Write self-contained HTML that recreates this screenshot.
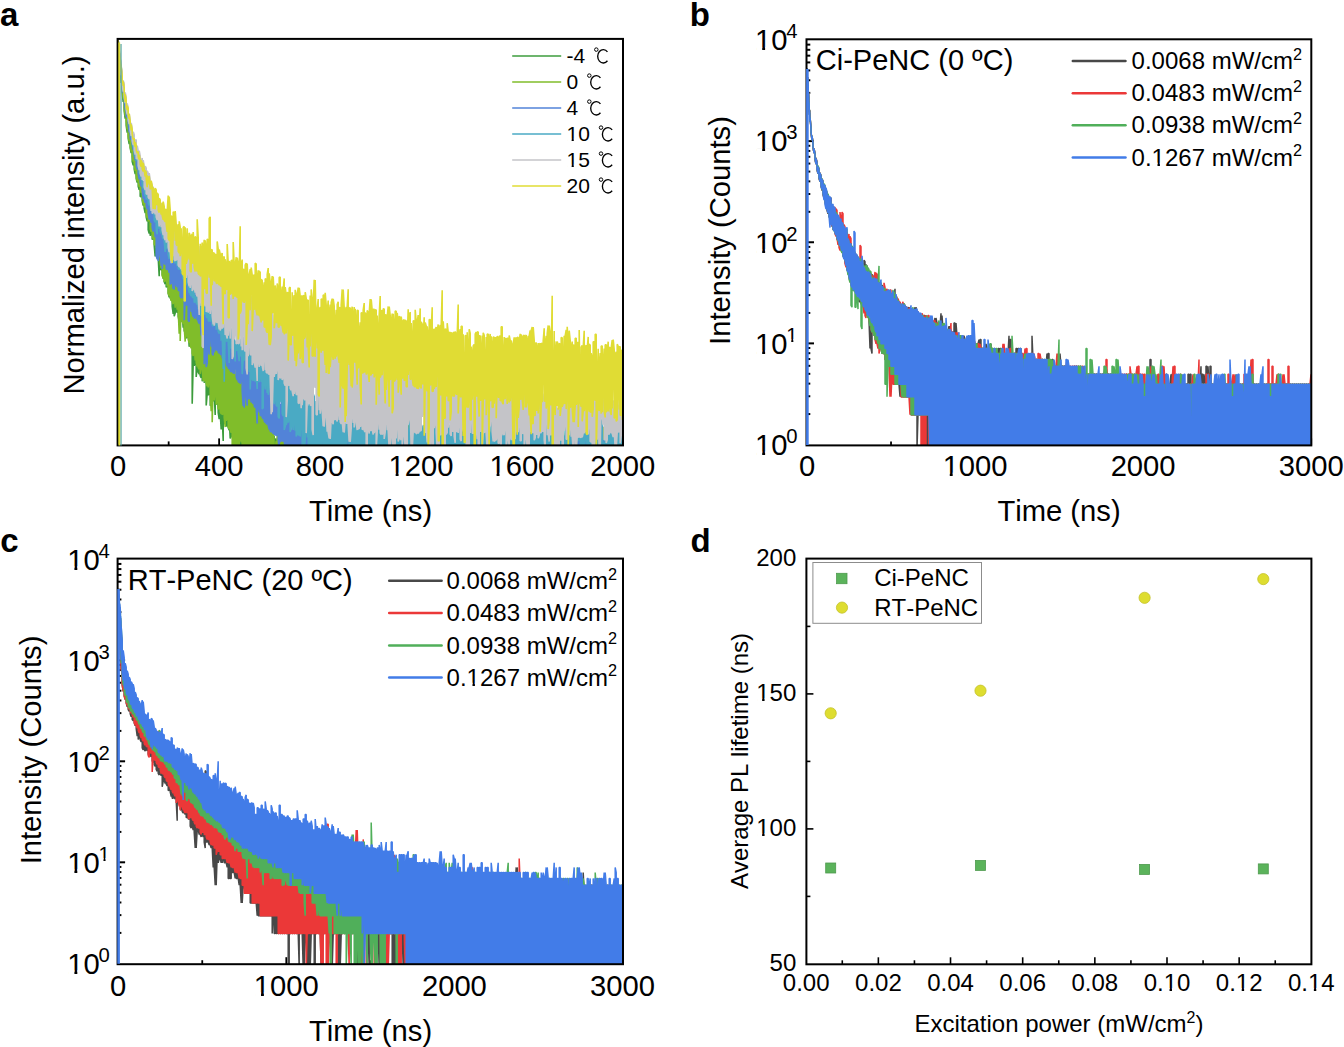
<!DOCTYPE html>
<html><head><meta charset="utf-8"><style>
html,body{margin:0;padding:0;background:#fff;overflow:hidden}
svg{display:block}
text{font-family:"Liberation Sans",sans-serif;font-kerning:none}
</style></head><body>
<svg width="1344" height="1047" viewBox="0 0 1344 1047">
<rect width="1344" height="1047" fill="#fff"/>
<clipPath id="cA"><rect x="117.6" y="38.9" width="505.4" height="406.5"/></clipPath>
<line x1="168.66" y1="445.40" x2="168.66" y2="441.40" stroke="#000" stroke-width="1.8" stroke-linecap="butt"/>
<line x1="219.12" y1="445.40" x2="219.12" y2="438.40" stroke="#000" stroke-width="1.8" stroke-linecap="butt"/>
<line x1="269.58" y1="445.40" x2="269.58" y2="441.40" stroke="#000" stroke-width="1.8" stroke-linecap="butt"/>
<line x1="320.04" y1="445.40" x2="320.04" y2="438.40" stroke="#000" stroke-width="1.8" stroke-linecap="butt"/>
<line x1="370.50" y1="445.40" x2="370.50" y2="441.40" stroke="#000" stroke-width="1.8" stroke-linecap="butt"/>
<line x1="420.96" y1="445.40" x2="420.96" y2="438.40" stroke="#000" stroke-width="1.8" stroke-linecap="butt"/>
<line x1="471.42" y1="445.40" x2="471.42" y2="441.40" stroke="#000" stroke-width="1.8" stroke-linecap="butt"/>
<line x1="521.88" y1="445.40" x2="521.88" y2="438.40" stroke="#000" stroke-width="1.8" stroke-linecap="butt"/>
<line x1="572.34" y1="445.40" x2="572.34" y2="441.40" stroke="#000" stroke-width="1.8" stroke-linecap="butt"/>
<line x1="622.80" y1="445.40" x2="622.80" y2="438.40" stroke="#000" stroke-width="1.8" stroke-linecap="butt"/>
<g clip-path="url(#cA)">
<path d="M118.2,449.4 118.2,40 118.4,46.1 118.4,49.9 118.7,53.7 118.7,48.8 119,50.1 119,58.6 119.2,62.1 119.2,52.5 119.4,55.3 119.4,64.9 119.7,68.2 119.7,57.9 120,61 120,70.2 120.2,73 120.2,63.4 120.4,66.1 120.4,76.6 120.7,78.2 120.7,68 121,70.9 121,79.5 121.2,83 121.2,74.3 122.2,83.5 122.2,92.5 123.2,102 123.2,92.8 124.2,101.7 124.2,110.9 125.2,118.7 125.2,109.8 126.2,116.9 126.2,125.7 127.2,132.7 127.2,123.3 128.2,130.3 128.2,138.3 129.2,144.1 129.2,135.7 130.2,142.1 130.2,147.9 131.2,153.2 131.2,144.9 132.2,150.7 132.2,161.5 133.2,165.2 133.2,152.2 134.2,159.7 134.2,169 135.2,174.1 135.2,164.3 136.2,168.8 136.2,178.5 137.2,182.6 137.2,172.9 138.2,175.4 138.2,186.2 139.2,189.7 139.2,180.7 140.2,184 140.2,196.6 141.2,196.4 141.2,187.5 142.2,188 142.2,200.6 143.2,205.7 143.2,192 144.2,200.2 144.2,208.3 145.2,213 145.2,203.6 146.2,207.8 146.2,217.1 147.2,221.4 147.2,211.7 148.2,215.4 148.2,229.8 149.2,233.6 149.2,218.9 150.2,222.3 150.2,235.8 151.2,232.4 151.2,225.6 152.2,228.6 152.2,239.5 153.2,238.7 153.2,231.8 154.2,234.8 154.2,245.3 155.2,256.5 155.2,237.9 156.2,245 156.2,254.1 157.2,254.4 157.2,243.4 158.2,246.1 158.2,257.7 159.2,276.3 159.2,251.9 160.2,256.1 160.2,266.7 161.2,270.3 161.2,260.3 162.2,264.4 162.2,274.4 163.2,278.6 163.2,268.4 164.2,271.2 164.2,281.8 165.2,284.1 165.2,274.1 166.2,278 166.2,287.2 167.2,286.1 167.2,278.6 168.2,281 168.2,293 169.2,297.4 170.2,289.5 170.2,297.7 171.2,300.1 171.2,288.9 172.2,291.5 172.2,306.4 173.2,313.8 173.2,283.8 174.2,297.6 174.2,316.3 175.2,313.1 175.2,307 176.2,296.9 176.2,310.1 177.2,312.8 177.2,298.9 178.2,309.2 178.2,316.4 179.2,321.7 179.2,308.9 180.2,308.6 180.2,321.6 181.2,321.3 181.2,302.9 182.2,314.6 183.2,327.6 183.2,316.9 184.2,319.8 184.2,330.5 185.2,333.6 185.2,321.7 186.2,323.5 186.2,337.3 187.2,338.1 187.2,326 188.2,329.1 189.2,346.6 189.2,333 190.2,331.8 190.2,346.8 191.2,344.7 191.2,334.8 192.2,340.5 192.2,403.7 193.2,362.9 193.2,347.5 194.2,350.4 194.2,365.8 195.2,363.3 195.2,347.7 196.2,350.3 196.2,376.9 197.2,366.2 197.2,347.2 198.2,349.4 198.2,372 199.2,374.2 199.2,358.9 200.2,363.1 200.2,375.7 201.2,377.8 201.2,365.2 202.2,369 202.2,381.3 203.2,377.2 203.2,370.9 204.2,367.4 204.2,382.7 205.2,380.3 205.2,369.2 206.2,376.3 206.2,405.5 207.2,393.4 207.2,379.4 208.2,380.9 208.2,395.3 209.2,392.7 209.2,382.7 210.2,378.8 210.2,405.8 211.2,396.2 211.2,385.8 212.2,387.6 212.2,400.1 213.2,401.2 213.2,389.9 214.2,391.5 214.2,393.5 215.2,414.9 215.2,393.4 216.2,386.1 216.2,404.7 217.2,392.8 218.2,409.2 218.2,412.6 219.2,419.2 219.2,400.9 220.2,401.1 220.2,413.3 221.2,429.4 222.2,408.9 222.2,416.4 223.2,440.9 223.2,408.5 224.2,388.4 224.2,403.4 225.2,390.3 226.2,402.6 226.2,424.7 227.2,426.6 227.2,412 228.2,414.1 228.2,427.8 229.2,430.3 229.2,417.1 230.2,438.5 231.2,436.4 231.2,424.3 232.2,427.4 233.2,436.9 234.2,436.6 234.2,439.8 235.2,449.4 235.2,422.8 236.2,437.7 236.2,449.4 237.2,449.4 237.2,438 238.2,437.4 238.2,439.3 239.2,449.4 239.2,439.3 240.2,434.7 240.2,449.4 241.2,449.4 241.2,434.7 242.2,430.7 242.2,449.4 243.2,449.4 243.2,434.2 244.2,412.6 244.2,449.4 245.2,449.4 245.2,437.4 246.2,437.4 246.2,449.4 247.2,449.4 247.2,447.2 248.2,435.8 248.2,449.4 249.2,449.4 249.2,438.1 250.2,437.2 251.2,449.4 251.2,439.1 252.2,434.9 252.2,449.4 253.2,449.4 254.2,437.5 254.2,449.4 255.2,438.2 256.2,438.3 256.2,449.4 257.2,449.4 257.2,443.4 258.2,435.6 258.2,449.4 259.2,449.4 260.2,435.1 260.2,449.4 261.2,441.5 261.2,435.9 262.2,431.9 262.2,449.4 263.2,449.4 263.2,437.6 264.2,430.9 264.2,449.4 265.2,449.4 265.2,438.3 266.2,435.6 266.2,449.4 267.2,449.4 267.2,435.4 268.2,444.5 268.2,449.4 269.2,449.4 269.2,429.2 270.2,434.5 270.2,449.4 271.2,449.4 271.2,434 272.2,437.8 272.2,449.4 273.2,449.4 273.2,437.8 274.2,435.9 274.2,449.4 275.2,449.4 275.2,438.5 276.2,443.1 276.2,449.4 277.2,449.4 277.2,438.5 278.2,436.6 278.2,449.4 279.2,449.4 279.2,438.2 280.2,435.9 280.2,449.4 281.2,449.4 282.2,429.8 282.2,449.4 283.2,449.4 283.2,429.8 284.2,438.4 284.2,449.4 285.2,438.8 286.2,441.4 287.2,449.4 287.2,424.4 288.2,430.5 288.2,440 289.2,449.4 289.2,438.3 290.2,438.9 290.2,449.4 291.2,449.4 291.2,438.1 292.2,444.2 292.2,449.4 293.2,449.4 293.2,437.6 294.2,437.6 294.2,449.4 295.2,449.4 295.2,437.9 296.2,440 296.2,449.4 297.2,449.4 297.2,439 298.2,438 298.2,449.4 299.2,449.4 299.2,438.2 300.2,445.8 300.2,449.4 301.2,449.4 301.2,435.2 302.2,435.2 302.2,449.4 303.2,449.4 304.2,422.4 304.2,449.4 305.2,449.4 305.2,422.4 306.2,426.5 306.2,449.4 307.2,449.4 307.2,433.3 308.2,436.8 308.2,449.4 309.2,449.4 309.2,425.6 310.2,425.7 310.2,449.4 311.2,449.4 311.2,441.5 312.2,437 312.2,438.9 313.2,442.5 314.2,438.5 314.2,449.4 315.2,449.4 315.2,438.5 316.2,427.7 316.2,449.4 317.2,449.4 317.2,439 318.2,438.7 318.2,449.4 319.2,449.4 319.2,439 320.2,429.4 320.2,449.4 321.2,449.4 321.2,437.8 322.2,433 322.2,449.4 323.2,449.4 323.2,433 324.2,436 324.2,449.4 325.2,449.4 325.2,434.9 326.2,434.9 326.2,449.4 327.2,449.4 327.2,427.3 328.2,438.8 328.2,449.4 329.2,449.4 329.2,438.3 330.2,438.7 330.2,449.4 331.2,449.4 331.2,439.2 332.2,441.6 332.2,449.4 333.2,449.4 334.2,434.2 334.2,449.4 335.2,449.4 335.2,441.5 336.2,437.8 336.2,449.4 337.2,434.6 338.2,436.2 338.2,449.4 339.2,449.4 339.2,432.3 340.2,448.8 340.2,449.4 341.2,435.2 341.2,417.6 342.2,417.6 342.2,449.4 343.2,449.4 343.2,431 344.2,449.4 345.2,449.4 345.2,436.6 346.2,435.9 346.2,449.4 347.2,449.4 347.2,435.9 348.2,438.8 348.2,449.4 349.2,449.4 349.2,439 350.2,434.6 350.2,449.4 351.2,449.4 351.2,434.3 352.2,447.3 352.2,449.4 353.2,441.3 353.2,439.4 354.2,439.2 354.2,449.4 355.2,449.4 355.2,443.4 356.2,438.7 356.2,449.4 357.2,449.4 357.2,446.3 358.2,438.9 358.2,449.4 359.2,449.4 359.2,438.9 360.2,438.1 360.2,449.4 361.2,449.4 361.2,438.7 362.2,435 362.2,449.4 363.2,449.4 363.2,436.7 364.2,438.5 365.2,436.5 366.2,438.4 366.2,449.4 367.2,449.4 368.2,427.1 368.2,449.4 369.2,449.4 369.2,443.2 370.2,427.9 370.2,449.4 371.2,449.4 371.2,438.8 372.2,449.4 373.2,449.4 373.2,437.3 374.2,443.2 374.2,449.4 375.2,449.4 375.2,439.6 376.2,439.6 376.2,449.4 377.2,437.4 377.2,430.5 378.2,427.2 378.2,449.4 379.2,449.4 379.2,437.9 380.2,449.4 381.2,449.4 381.2,436.4 382.2,436.8 382.2,442.6 383.2,449.4 383.2,443.1 384.2,436.9 384.2,449.4 385.2,441.7 386.2,434.9 386.2,449.4 387.2,449.4 387.2,437.3 388.2,411 388.2,449.4 389.2,439.4 390.2,439.4 390.2,449.4 391.2,439.4 391.2,435.4 392.2,439.3 392.2,449.4 393.2,449.4 393.2,439.3 394.2,439.5 394.2,449.4 395.2,449.4 395.2,441.8 396.2,434 396.2,449.4 397.2,449.4 397.2,437.9 398.2,437.9 398.2,449.4 399.2,449.4 399.2,445.5 400.2,436.2 400.2,449.4 401.2,449.4 401.2,444.2 402.2,437.4 402.2,449.4 403.2,449.4 403.2,437.4 404.2,437.4 404.2,449.4 405.2,449.4 405.2,437.4 406.2,439 406.2,449.4 407.2,449.4 407.2,439 408.2,447.3 408.2,449.4 409.2,439.4 410.2,433.7 410.2,449.4 411.2,438.1 412.2,434 412.2,449.4 413.2,449.4 413.2,434 414.2,437.9 414.2,449.4 415.2,449.4 415.2,437.9 416.2,432.3 416.2,449.4 417.2,441.9 417.2,429.4 418.2,429.4 418.2,440 419.2,449.4 419.2,424.4 420.2,429.3 420.2,449.4 421.2,449.4 421.2,439.8 422.2,436.5 422.2,442.6 423.2,449.4 423.2,436.5 424.2,439.6 424.2,449.4 425.2,449.4 425.2,444.3 426.2,425.3 426.2,441.3 427.2,449.4 427.2,425.4 428.2,439.8 428.2,449.4 429.2,449.4 430.2,438.6 430.2,449.4 431.2,449.4 431.2,439.6 432.2,449.4 433.2,441.2 433.2,439.5 434.2,441.6 434.2,449.4 435.2,449.4 435.2,424.7 436.2,432.7 436.2,449.4 437.2,449.4 437.2,439.6 438.2,439.1 438.2,449.4 439.2,449.4 439.2,437.7 440.2,439.6 440.2,449.4 441.2,449.4 441.2,439.6 442.2,434.8 442.2,449.4 443.2,449.4 443.2,438.4 444.2,449.4 445.2,440.1 445.2,432.6 446.2,439.4 446.2,449.4 447.2,449.4 447.2,439.4 448.2,439.1 448.2,449.4 449.2,449.4 449.2,448.5 450.2,449.4 451.2,449.4 451.2,439.6 452.2,439.6 452.2,449.4 453.2,449.4 453.2,446.1 454.2,447.6 454.2,449.4 455.2,449.4 455.2,433.8 456.2,435.7 456.2,449.4 457.2,441.7 457.2,438.4 458.2,437.2 458.2,449.4 459.2,449.4 459.2,439.6 460.2,437.6 460.2,449.4 461.2,449.4 461.2,439.2 462.2,439.3 462.2,449.4 463.2,449.4 464.2,443.6 464.2,449.4 465.2,449.4 465.2,435.6 466.2,442.7 466.2,449.4 467.2,437.2 468.2,435.9 468.2,449.4 469.2,449.4 469.2,436.8 470.2,430 470.2,449.4 471.2,449.4 471.2,439.1 472.2,441 472.2,449.4 473.2,449.4 473.2,438.5 474.2,440.7 475.2,449.4 475.2,439.6 476.2,433.7 476.2,449.4 477.2,449.4 477.2,433.7 478.2,429 478.2,449.4 479.2,449.4 479.2,445.7 480.2,428.8 480.2,449.4 481.2,449.4 481.2,438.5 482.2,444.7 482.2,449.4 483.2,449.4 483.2,432.9 484.2,438.8 484.2,449.4 485.2,449.4 485.2,438.8 486.2,439.1 486.2,449.4 487.2,449.4 487.2,442.1 488.2,434.8 488.2,442.6 489.2,424 490.2,438.5 490.2,449.4 491.2,449.4 492.2,439.1 492.2,449.4 493.2,449.4 493.2,438.8 494.2,439.8 494.2,449.4 495.2,449.4 495.2,442.1 496.2,424.3 496.2,449.4 497.2,449.4 497.2,428.4 498.2,443.6 498.2,449.4 499.2,449.4 499.2,439.8 500.2,443.8 500.2,449.4 501.2,449.4 501.2,437.6 502.2,429.5 502.2,440.2 503.2,442.5 503.2,435 504.2,427.5 504.2,449.4 505.2,434.8 505.2,432.5 506.2,437.1 506.2,449.4 507.2,449.4 507.2,437.6 508.2,437 508.2,449.4 509.2,449.4 509.2,435.3 510.2,435.3 510.2,443 511.2,449.4 511.2,438.8 512.2,446.2 512.2,449.4 513.2,449.4 513.2,441.5 514.2,449.4 515.2,438.8 516.2,434.3 516.2,449.4 517.2,449.4 517.2,434.3 518.2,445 518.2,449.4 519.2,449.4 519.2,439.2 520.2,434.1 520.2,449.4 521.2,449.4 521.2,437.1 522.2,438.1 523.2,449.4 523.2,445.7 524.2,439.1 524.2,449.4 525.2,439.3 526.2,439.6 526.2,449.4 527.2,449.4 527.2,442.4 528.2,439.8 528.2,449.4 529.2,449.4 529.2,436.7 530.2,436.7 530.2,449.4 531.2,449.4 531.2,437.9 532.2,437.9 532.2,442.2 533.2,449.4 533.2,432.2 534.2,441.9 535.2,449.4 535.2,439.8 536.2,439.1 536.2,449.4 537.2,439.1 538.2,438.9 538.2,449.4 539.2,437.5 539.2,426.7 540.2,423.7 540.2,449.4 541.2,449.4 541.2,437.3 542.2,439 542.2,449.4 543.2,449.4 543.2,439 544.2,449.4 545.2,449.4 545.2,442.4 546.2,449.4 547.2,449.4 547.2,438 548.2,438.9 548.2,449.4 549.2,449.4 549.2,439.6 550.2,439.6 551.2,449.4 551.2,439.5 552.2,449.4 553.2,449.4 553.2,437.4 554.2,438 554.2,449.4 555.2,449.4 555.2,436.7 556.2,436.7 556.2,449.4 557.2,449.4 557.2,443.4 558.2,434.2 558.2,449.4 559.2,449.4 559.2,434.5 560.2,441.6 560.2,449.4 561.2,449.4 561.2,439.4 562.2,435.3 562.2,449.4 563.2,449.4 563.2,437.7 564.2,437.5 564.2,449.4 565.2,449.4 565.2,436.9 566.2,436.9 566.2,449.4 567.2,449.4 567.2,439.7 568.2,449.4 569.2,449.4 569.2,426.1 570.2,426.1 570.2,449.4 571.2,449.4 572.2,438.9 572.2,449.4 573.2,449.4 573.2,438.9 574.2,439.7 574.2,449.4 575.2,449.4 575.2,439.7 576.2,438.9 576.2,449.4 577.2,449.4 577.2,438.9 578.2,449.3 578.2,449.4 579.2,437.9 580.2,437.9 580.2,449.4 581.2,449.4 581.2,437.7 582.2,449.4 583.2,449.4 583.2,438 584.2,438 585.2,449.4 585.2,429.2 586.2,429.2 586.2,449.4 587.2,449.4 587.2,437.7 588.2,445.6 588.2,449.4 589.2,449.4 589.2,438.4 590.2,438.4 590.2,449.4 591.2,449.4 591.2,438.5 592.2,439.5 592.2,449.4 593.2,449.4 593.2,435.4 594.2,435.4 594.2,441.9 595.2,438.5 596.2,439.5 596.2,449.4 597.2,449.4 597.2,425.7 598.2,449 598.2,449.4 599.2,449.4 599.2,438.4 600.2,439.5 601.2,449.4 601.2,448.2 602.2,439.5 602.2,449.4 603.2,449.4 603.2,439.5 604.2,448.4 604.2,449.4 605.2,449.4 605.2,445.4 606.2,438.1 606.2,449.4 607.2,449.4 607.2,438.1 608.2,438.9 608.2,449.4 609.2,449.4 609.2,438.9 610.2,439.6 610.2,449.4 611.2,449.4 611.2,444.2 612.2,437.1 612.2,449.4 613.2,449.4 613.2,438.8 614.2,438.8 614.2,449.4 615.2,449.4 615.2,431 616.2,432 616.2,449.4 617.2,449.4 617.2,415.8 618.2,431.4 618.2,449.4 619.2,449.4 619.2,431.4 620.2,429 620.2,449.4 621.2,449.4 621.2,436.9 622.2,436.9 622.2,441.3" fill="none" stroke="#3c9c3c" stroke-width="1.6" stroke-linejoin="bevel"/>
<path d="M118.2,449.4 118.2,40 118.4,44.2 118.4,48.3 118.7,52.8 118.7,47.7 119,48.4 119,57.3 119.2,59 119.2,50.4 119.4,54.8 119.4,60.5 119.7,64.7 119.7,55.8 120,59.4 120,67.3 120.2,70 120.2,61 120.4,64.6 120.4,72.9 120.7,74.4 120.7,67.1 121,69.4 121,77.4 121.2,80.1 121.2,71.7 122.2,79.4 122.2,87.8 123.2,99 123.2,86.5 124.2,93.3 124.2,107.9 125.2,116 125.2,99.6 126.2,105 126.2,121.1 127.2,129.4 127.2,111.4 128.2,117.1 128.2,136.2 129.2,141.2 129.2,121.3 130.2,126.7 130.2,146.5 131.2,151.7 131.2,133.8 132.2,139 132.2,156.3 133.2,161.7 133.2,144.2 134.2,148.6 134.2,162.7 135.2,171 135.2,153.9 136.2,158.5 136.2,175.5 137.2,181.1 137.2,164.4 138.2,167.4 138.2,181.6 139.2,186.8 139.2,171.4 140.2,175.8 140.2,190.1 141.2,192.8 141.2,179.9 142.2,181.8 142.2,196.5 143.2,204.3 143.2,185.6 144.2,192 144.2,206 145.2,207.1 145.2,195.8 146.2,198.3 146.2,215 147.2,218 147.2,202 148.2,207 148.2,221.6 149.2,218.3 149.2,209.8 150.2,213.3 150.2,229.3 151.2,232 151.2,214 152.2,218 152.2,235.3 153.2,239 153.2,224.3 154.2,227.4 154.2,244.1 155.2,245.2 155.2,230.6 156.2,233.7 156.2,248.3 157.2,242.2 157.2,236 158.2,239 158.2,254.5 159.2,257.2 159.2,242.9 160.2,248.8 160.2,263.4 161.2,268.4 161.2,240.8 162.2,243.7 162.2,275.5 163.2,278.4 163.2,251.7 164.2,253.9 164.2,281.7 165.2,280.9 165.2,254.7 166.2,259.8 166.2,276.6 167.2,286.2 167.2,262.9 168.2,270.4 168.2,293.3 169.2,295.8 169.2,263.8 170.2,263.2 170.2,296.9 171.2,300.7 171.2,269.8 172.2,271.6 172.2,301.6 173.2,304.1 173.2,274.3 174.2,274.2 174.2,294.4 175.2,307.8 175.2,275.9 176.2,277.9 176.2,298.6 177.2,309.7 177.2,279.6 178.2,281.1 178.2,310 179.2,333.7 179.2,280.6 180.2,282.3 180.2,341 181.2,297.5 181.2,287.6 182.2,283.7 182.2,321.3 183.2,324.1 183.2,281.9 184.2,286.1 184.2,327.1 185.2,341.6 185.2,292.5 186.2,294.7 186.2,334.5 187.2,337.6 187.2,295.6 188.2,298.4 188.2,339.6 189.2,342.8 189.2,300 190.2,302.2 190.2,345.2 191.2,348.3 191.2,303.8 192.2,305.5 192.2,353.2 193.2,356.1 193.2,305.6 194.2,307 194.2,345.6 195.2,360.5 195.2,308.9 196.2,313 196.2,362.9 197.2,366.5 197.2,313.5 198.2,315.1 198.2,367.5 199.2,369.3 199.2,315.3 200.2,316.9 200.2,373.8 201.2,365.3 201.2,325.8 202.2,306.7 202.2,368.2 203.2,380.6 203.2,322.9 204.2,324.4 204.2,379.7 205.2,381.5 205.2,364.1 206.2,328.7 206.2,383.4 207.2,386.2 207.2,329.2 208.2,331.4 208.2,387.5 209.2,379.8 209.2,336.4 210.2,329 210.2,392.8 211.2,411.2 211.2,330.4 212.2,336.3 212.2,422.2 213.2,382.2 213.2,337 214.2,336.1 214.2,400.3 215.2,391.4 215.2,336 216.2,342.1 216.2,404.6 217.2,400.1 217.2,343.5 218.2,342 218.2,408.9 219.2,408.5 219.2,348.5 220.2,347.6 220.2,412 221.2,413.9 221.2,364.7 222.2,349.9 222.2,414.8 223.2,413.4 223.2,343.2 224.2,357.9 224.2,417.3 225.2,427.1 225.2,352.6 226.2,355 226.2,420.8 227.2,417.2 227.2,355.4 228.2,359 228.2,426.9 229.2,428.9 229.2,360.5 230.2,360.3 230.2,430 231.2,432.8 231.2,331.5 232.2,365.1 232.2,449.4 233.2,449.4 233.2,363.7 234.2,365.2 234.2,449.4 235.2,449.4 235.2,384.3 236.2,369 236.2,449.4 237.2,449.4 237.2,356.9 238.2,359 238.2,449.4 239.2,449.4 239.2,375 240.2,374.3 240.2,437 241.2,442.3 241.2,375.9 242.2,403.7 242.2,449.4 243.2,449.4 243.2,381.4 244.2,385.3 244.2,449.4 245.2,449.4 245.2,382.9 246.2,383.9 246.2,449.4 247.2,449.4 247.2,390.8 248.2,388.6 248.2,449.4 249.2,449.4 249.2,390.6 250.2,387.9 250.2,449.4 251.2,449.4 251.2,389.4 252.2,394.7 252.2,449.4 253.2,449.4 253.2,397.6 254.2,395.5 254.2,449.4 255.2,435.9 255.2,396.9 256.2,400.1 256.2,449.4 257.2,449.4 257.2,404.1 258.2,408.7 258.2,440.8 259.2,449.4 259.2,408.2 260.2,406.6 260.2,449.4 261.2,449.4 261.2,407.4 262.2,411.7 262.2,449.4 263.2,449.4 263.2,408.8 264.2,412.8 264.2,449.4 265.2,449.4 265.2,414.2 266.2,415.4 266.2,449.4 267.2,449.4 267.2,416.8 268.2,417.4 268.2,449.4 269.2,449.4 269.2,420.3 270.2,421.1 270.2,449.4 271.2,441 271.2,421.6 272.2,410.8 272.2,449.4 273.2,449.4 273.2,412 274.2,448.5 274.2,449.4 275.2,449.4 276.2,440.8 276.2,449.4 277.2,449.4 277.2,431.4 278.2,429.9 278.2,449.4 279.2,449.4 279.2,441.4 280.2,425.5 280.2,449.4 281.2,449.4 281.2,429.5 282.2,430.3 282.2,449.4 283.2,449.4 283.2,435 284.2,419.5 284.2,449.4 285.2,449.4 285.2,426 286.2,449.4 287.2,442.4 287.2,438.1 288.2,435.3 288.2,449.4 289.2,449.4 289.2,435.3 290.2,449.2 290.2,449.4 291.2,449.4 292.2,434.9 292.2,449.4 293.2,449.4 293.2,434.4 294.2,439.9 294.2,449.4 295.2,449.4 295.2,435 296.2,439.6 296.2,449.4 297.2,449.4 297.2,439.6 298.2,430.8 298.2,449.4 299.2,449.4 299.2,434.7 300.2,439.9 300.2,442 301.2,438.7 302.2,438.4 302.2,449.4 303.2,449.4 303.2,422.5 304.2,439.6 304.2,449.4 305.2,449.4 305.2,448.1 306.2,449.4 307.2,449.4 307.2,439 308.2,439.7 308.2,449.4 309.2,449.4 309.2,439.7 310.2,437.5 310.2,449.4 311.2,449.4 311.2,437.6 312.2,437.7 312.2,449.4 313.2,449.4 313.2,427.4 314.2,440.4 314.2,449.4 315.2,449.4 315.2,433 316.2,436.1 316.2,449.4 317.2,449.4 317.2,439.1 318.2,439.1 318.2,449.4 319.2,449.4 319.2,446.7 320.2,439.9 320.2,449.4 321.2,449.4 321.2,439.9 322.2,437.3 322.2,449.4 323.2,449.4 323.2,437.3 324.2,446.9 324.2,449.4 325.2,449.4 326.2,439.2 326.2,449.4 327.2,449.4 328.2,438.9 328.2,449.4 329.2,449.4 329.2,438.6 330.2,438.6 330.2,449.4 331.2,449.4 331.2,437.2 332.2,438.3 332.2,449.4 333.2,449.4 333.2,438.8 334.2,438.3 334.2,449.4 335.2,449.4 335.2,439.1 336.2,435.4 336.2,449.4 337.2,449.4 337.2,436 338.2,436 338.2,449.4 339.2,449.4 339.2,430.8 340.2,437.7 341.2,449.4 342.2,427.4 342.2,449.4 343.2,449.4 343.2,438.5 344.2,438.5 344.2,449.4 345.2,449.4 345.2,439.6 346.2,444.2 346.2,449.4 347.2,449.4 348.2,439.2 348.2,449.4 349.2,449.4 349.2,438.8 350.2,439.2 350.2,449.4 351.2,449.4 351.2,439.8 352.2,439.8 352.2,449.4 353.2,449.4 353.2,437.3 354.2,438.4 354.2,449.4 355.2,449.4 355.2,438.9 356.2,435.9 356.2,449.4 357.2,449.4 357.2,437.9 358.2,435.1 358.2,449.4 359.2,449.4 359.2,447 360.2,439.1 360.2,449.4 361.2,449.4 361.2,429.9 362.2,438 362.2,449.4 363.2,449.4 363.2,434.5 364.2,449.4 365.2,449.4 365.2,424.7 366.2,449.4 367.2,449.4 367.2,441 368.2,439.3 368.2,449.4 369.2,449.4 369.2,439.7 370.2,433.9 370.2,449.4 371.2,449.4 371.2,433.9 372.2,439.6 372.2,449.4 373.2,449.4 374.2,439.4 374.2,441.7 375.2,449.4 375.2,447.5 376.2,438.8 376.2,449.4 377.2,449.4 377.2,438.4 378.2,437.3 378.2,449.4 379.2,439.1 379.2,437.3 380.2,438.8 380.2,449.4 381.2,449.4 381.2,438.8 382.2,449.4 383.2,449.4 383.2,438.6 384.2,438.6 384.2,449.4 385.2,449.4 385.2,435.9 386.2,439.3 387.2,449.4 387.2,436 388.2,439.5 389.2,449.4 389.2,439.5 390.2,415.9 390.2,449.4 391.2,449.4 392.2,430.9 392.2,449.4 393.2,449.4 393.2,430.9 394.2,432.8 394.2,449.4 395.2,449.4 395.2,439.2 396.2,439.2 396.2,449.4 397.2,449.4 397.2,436.8 398.2,439.5 398.2,449.4 399.2,449.4 399.2,435.6 400.2,448.1 400.2,449.4 401.2,449.4 401.2,435.1 402.2,439.9 402.2,449.4 403.2,449.4 403.2,439.9 404.2,440 404.2,449.4 405.2,449.4 405.2,440 406.2,436.4 406.2,449.4 407.2,449.4 408.2,425.2 408.2,428.4 409.2,449.4 409.2,446 410.2,439.9 410.2,449.4 411.2,449.4 411.2,439.9 412.2,439.3 412.2,449.4 413.2,449.4 413.2,439.3 414.2,437.6 415.2,449.4 415.2,437.6 416.2,439.8 416.2,449.4 417.2,449.4 417.2,439.8 418.2,436.8 418.2,449.4 419.2,449.4 419.2,439.3 420.2,439.3 421.2,449.4 421.2,439.1 422.2,439.1 422.2,449.4 423.2,449.4 423.2,436.8 424.2,431.5 424.2,449.4 425.2,449.4 425.2,423.7 426.2,431.8 426.2,449.4 427.2,440.4 427.2,434.9 428.2,438.8 428.2,449.4 429.2,449.4 429.2,438.9 430.2,438.9 430.2,442.6 431.2,449.4 431.2,426.3 432.2,443.4 432.2,449.4 433.2,439.2 434.2,439.8 434.2,449.4 435.2,449.4 435.2,440.5 436.2,436.4 436.2,449.4 437.2,449.4 437.2,432.4 438.2,438.7 439.2,449.4 439.2,446.6 440.2,438.6 440.2,449.4 441.2,449.4 441.2,438.8 442.2,449.4 443.2,449.4 443.2,438.7 444.2,439 444.2,449.4 445.2,449.4 445.2,428.1 446.2,429 446.2,449.4 447.2,438.1 447.2,436.7 448.2,439.4 448.2,449.4 449.2,449.4 449.2,439.6 450.2,429.2 450.2,449.4 451.2,449.4 451.2,440.2 452.2,439.4 452.2,449.4 453.2,449.4 453.2,439.4 454.2,416 454.2,449.4 455.2,449.4 455.2,436.1 456.2,436.1 456.2,449.4 457.2,449.4 457.2,441 458.2,440 458.2,449.4 459.2,440 460.2,426 460.2,449.4 461.2,449.4 461.2,426 462.2,430.2 462.2,449.4 463.2,449.4 463.2,430.2 464.2,419.5 464.2,449.4 465.2,449.4 465.2,447.9 466.2,395.5 466.2,449.4 467.2,449.4 467.2,395.5 468.2,426.8 468.2,449.4 469.2,449.4 469.2,426.8 470.2,449.4 471.2,449.4 471.2,434.5 472.2,428 472.2,449.4 473.2,449.4 473.2,437 474.2,447.3 474.2,449.4 475.2,449.4 475.2,439.5 476.2,438.5 476.2,449.4 477.2,449.4 477.2,436.8 478.2,436.8 478.2,449.4 479.2,449.4 479.2,436.8 480.2,438.5 480.2,449.4 481.2,449.4 481.2,438.5 482.2,441.1 482.2,449.4 483.2,449.4 484.2,439.5 484.2,449.4 485.2,441.2 485.2,439.5 486.2,436 486.2,449.4 487.2,449.4 487.2,436 488.2,439.6 488.2,449.4 489.2,439.8 490.2,439.4 490.2,449.4 491.2,449.4 491.2,437.6 492.2,439.2 492.2,449.4 493.2,449.4 493.2,439.2 494.2,439.7 494.2,449.4 495.2,449.4 495.2,435.7 496.2,449.4 497.2,449.4 497.2,441.5 498.2,427 498.2,449.4 499.2,449.4 499.2,439.5 500.2,439.5 500.2,442.9 501.2,449.4 501.2,437.2 502.2,439.5 502.2,449.4 503.2,449.4 503.2,439.5 504.2,443.1 504.2,449.4 505.2,449.4 505.2,435.9 506.2,435.9 506.2,449.4 507.2,449.4 507.2,437.2 508.2,439.8 508.2,449.4 509.2,439.8 510.2,440.7 510.2,449.4 511.2,449.4 511.2,443.5 512.2,438.5 512.2,449.4 513.2,449.4 513.2,436.5 514.2,449.4 515.2,449.4 515.2,439.3 516.2,433.4 516.2,449.4 517.2,449.4 517.2,441.4 518.2,438.9 518.2,449.4 519.2,449.4 519.2,438.9 520.2,438 520.2,449.4 521.2,449.4 521.2,438.2 522.2,438.4 523.2,449.4 523.2,438.4 524.2,435.7 524.2,449.4 525.2,449.4 525.2,435.7 526.2,437.5 526.2,449.4 527.2,449.4 527.2,433.8 528.2,440.5 528.2,449.4 529.2,449.4 529.2,439.9 530.2,442.5 530.2,449.4 531.2,449.4 532.2,449.4 533.2,449.4 533.2,448.2 534.2,439.1 535.2,449.4 535.2,433.2 536.2,439.7 536.2,449.4 537.2,449.4 537.2,438.2 538.2,438.9 538.2,449.4 539.2,449.4 539.2,439.8 540.2,439.2 540.2,449.4 541.2,438.5 542.2,441.8 542.2,449.4 543.2,449.4 543.2,439.2 544.2,436.9 544.2,443 545.2,449.4 545.2,447.2 546.2,437.8 546.2,449.4 547.2,449.4 547.2,438.6 548.2,438.6 548.2,449.4 549.2,449.4 549.2,438.6 550.2,437.4 550.2,449.4 551.2,449.4 551.2,437.4 552.2,438.8 552.2,449.4 553.2,449.4 553.2,429.9 554.2,434.4 554.2,449.4 555.2,449.4 555.2,434.9 556.2,427.2 556.2,449.4 557.2,440.5 557.2,423.9 558.2,423.9 558.2,449.4 559.2,449.4 559.2,436.2 560.2,436.2 560.2,449.4 561.2,449.4 561.2,438.7 562.2,431.8 562.2,449.4 563.2,431.8 564.2,439.2 564.2,449.4 565.2,449.4 565.2,436.5 566.2,436.5 566.2,449.4 567.2,449.4 567.2,439.6 568.2,439.6 568.2,449.4 569.2,449.4 569.2,438.5 570.2,442.8 570.2,449.4 571.2,449.4 572.2,428.5 572.2,449.4 573.2,449.4 574.2,429.2 574.2,440.4 575.2,449.4 575.2,439.1 576.2,432.3 576.2,449.4 577.2,449.4 578.2,438.8 578.2,449.4 579.2,449.4 579.2,430.4 580.2,430.7 580.2,449.4 581.2,436.7 582.2,439.8 582.2,449.4 583.2,449.4 583.2,439.8 584.2,437.4 584.2,449.4 585.2,449.4 586.2,440.8 586.2,449.4 587.2,432.4 588.2,449.4 589.2,449.4 589.2,439.6 590.2,439.6 590.2,449.4 591.2,449.4 591.2,440 592.2,440 592.2,440.7 593.2,437.9 593.2,432.5 594.2,439.1 594.2,449.4 595.2,449.4 595.2,438 596.2,433 596.2,435.7 597.2,440.4 597.2,435 598.2,449.4 599.2,449.4 599.2,438 600.2,449.4 601.2,449.4 601.2,428.9 602.2,439.8 602.2,449.4 603.2,449.4 603.2,427.5 604.2,427.5 604.2,449.4 605.2,449.4 605.2,438 606.2,449.4 607.2,441.7 607.2,439.8 608.2,449.4 609.2,449.4 609.2,439.6 610.2,439.6 610.2,449.4 611.2,449.4 611.2,434.9 612.2,434.9 612.2,449.4 613.2,449.4 613.2,439.4 614.2,439.4 615.2,449.4 615.2,437.5 616.2,437.8 616.2,449.4 617.2,449.4 617.2,437.8 618.2,422.2 618.2,449.4 619.2,449.4 619.2,422.2 620.2,433.3 620.2,438.6 621.2,439.4 622.2,439.5 622.2,449.4" fill="none" stroke="#80bd2a" stroke-width="1.6" stroke-linejoin="bevel"/>
<path d="M118.2,449.4 118.2,40 118.4,43.6 118.4,49.4 118.7,53.6 118.7,47 119,48.7 119,55.1 119.2,53.7 119.2,50.8 119.4,52.9 119.4,59.8 119.7,64.9 119.7,55.6 120,57.5 120,68.5 120.2,68.7 120.2,59.3 120.4,63 120.4,71.1 120.7,75.9 120.7,65.3 121,67.6 121,75.9 121.2,78 121.2,67.6 122.2,77.3 122.2,86.2 123.2,92.9 123.2,81.1 124.2,89.3 124.2,99.6 125.2,109.3 125.2,95.9 126.2,102.8 126.2,115.9 127.2,117.7 127.2,108.3 128.2,113.9 128.2,123.7 129.2,132.5 129.2,118.8 130.2,124.4 130.2,138.7 131.2,139.8 131.2,129.7 132.2,136.5 132.2,144.9 133.2,150.2 133.2,140.7 134.2,146 134.2,155.2 135.2,160.3 135.2,150.9 136.2,154.9 136.2,165 137.2,169.3 137.2,159.3 138.2,162.7 138.2,173.7 139.2,179.3 139.2,167 140.2,170.4 140.2,182.3 141.2,186.5 141.2,174 142.2,182.9 142.2,190.5 143.2,198.7 143.2,181 144.2,184.7 144.2,199 145.2,202.8 145.2,186.1 146.2,185.3 146.2,205.6 147.2,209.3 147.2,193.3 148.2,196.4 148.2,213 149.2,219.6 149.2,197.4 150.2,199.8 150.2,217.7 151.2,222.9 151.2,202 152.2,207.1 152.2,227.4 153.2,231.5 153.2,207.2 154.2,209.6 154.2,222.6 155.2,237.3 155.2,204.2 156.2,216.8 156.2,255.8 157.2,259.3 157.2,216.1 158.2,221.8 158.2,261.1 159.2,249.8 159.2,220.2 160.2,224.1 160.2,252.8 161.2,266 161.2,226.9 162.2,224.6 162.2,268.9 163.2,260.5 163.2,230.6 164.2,233.2 164.2,262.4 165.2,264.6 165.2,236.9 166.2,240.9 166.2,268.7 167.2,269.8 167.2,250.1 168.2,242 168.2,268.9 169.2,272.7 169.2,245.8 170.2,247.5 170.2,284.5 171.2,282.5 171.2,245.7 172.2,250.8 172.2,281.2 173.2,288.8 173.2,266.5 174.2,254.1 174.2,289.8 175.2,276 175.2,245.2 176.2,246.7 176.2,285.2 177.2,287 177.2,257.2 178.2,251.6 178.2,289.9 179.2,291 179.2,262.1 180.2,263.8 180.2,296.4 181.2,298.2 181.2,266.5 182.2,268.6 182.2,296.3 183.2,298 183.2,271 184.2,278.7 184.2,320.2 185.2,301.3 185.2,273.4 186.2,275.7 186.2,303.9 187.2,305.6 187.2,280.5 188.2,282 188.2,320 189.2,321.8 189.2,290.8 190.2,288.4 190.2,302 191.2,312 191.2,297.4 192.2,294.4 192.2,313.2 193.2,316.7 193.2,289.9 194.2,278.7 194.2,318.3 195.2,318 195.2,280.1 196.2,291.8 196.2,306.4 197.2,320.1 197.2,293.3 198.2,298.1 198.2,321.7 199.2,323.6 199.2,300.6 200.2,302 200.2,320.5 201.2,335.5 201.2,303.7 202.2,303.8 202.2,329.1 203.2,346.2 203.2,305.1 204.2,307.5 204.2,364.2 205.2,356.2 205.2,313.1 206.2,308.8 206.2,367.1 207.2,363 207.2,310.4 208.2,312.9 208.2,346.6 209.2,354.6 209.2,311 210.2,313.4 210.2,331.1 211.2,346.8 211.2,315.7 212.2,316.9 212.2,353.7 213.2,355.2 213.2,312.4 214.2,319.6 214.2,352.3 215.2,348.8 215.2,319.9 216.2,327.9 216.2,348.4 217.2,350.7 217.2,321.8 218.2,329 218.2,352 219.2,353.3 219.2,324.5 220.2,325.3 220.2,353.7 221.2,355.1 221.2,327.2 222.2,321.8 222.2,357.5 223.2,358.9 223.2,330 224.2,333.5 224.2,351.8 225.2,361.4 225.2,330.6 226.2,325.5 226.2,362.8 227.2,366.6 227.2,315 228.2,331.1 228.2,368 229.2,368.9 229.2,315.8 230.2,335.8 230.2,370.3 231.2,372.1 231.2,337.6 232.2,335.8 232.2,371.6 233.2,372.9 233.2,340.6 234.2,340 234.2,374 235.2,361.7 235.2,341.5 236.2,343.7 236.2,376.6 237.2,380 237.2,343.7 238.2,347.2 238.2,381.6 239.2,382.2 239.2,346.3 240.2,347.3 240.2,383.8 241.2,378.6 241.2,345 242.2,346.3 242.2,391.1 243.2,406 243.2,337.1 244.2,351.8 244.2,407.6 245.2,392 245.2,352 246.2,353.2 246.2,393.6 247.2,405.6 247.2,321.1 248.2,362 248.2,397.7 249.2,399.2 249.2,357.1 250.2,358.5 250.2,393.8 251.2,402.4 251.2,382.3 252.2,361.3 252.2,402.2 253.2,403.8 253.2,363.8 254.2,370.5 254.2,405.9 255.2,407.6 255.2,366 256.2,365.5 256.2,409 257.2,423.6 257.2,350.1 258.2,369.8 258.2,403 259.2,412.4 259.2,368.7 260.2,370.3 260.2,415.3 261.2,415.9 261.2,372.2 262.2,376.5 262.2,417.3 263.2,418.9 263.2,369.6 264.2,379.2 264.2,421.1 265.2,422.5 265.2,380.8 266.2,375.7 266.2,424 267.2,423.8 267.2,381.5 268.2,383.1 268.2,425.2 269.2,429.6 269.2,381.6 270.2,389.3 270.2,430.9 271.2,432.1 271.2,387.7 272.2,394.5 272.2,432.3 273.2,433.5 273.2,386.3 274.2,366.7 274.2,434.4 275.2,434.9 275.2,396 276.2,395.7 276.2,435.9 277.2,433.4 277.2,393 278.2,400.1 278.2,439.5 279.2,449.4 279.2,411.6 280.2,404.1 280.2,442 281.2,440.6 281.2,390 282.2,401.6 282.2,440.7 283.2,441.5 283.2,408.8 284.2,397.5 284.2,440.8 285.2,449.4 285.2,422.8 286.2,413.2 286.2,441.4 287.2,449.4 287.2,413.7 288.2,412.6 288.2,449.4 289.2,440.4 289.2,413.9 290.2,415.2 290.2,449.4 291.2,449.4 291.2,437.7 292.2,426.4 292.2,434.9 293.2,449.4 293.2,426.7 294.2,425.6 294.2,449.4 295.2,449.4 295.2,425.3 296.2,423.2 296.2,449.4 297.2,449.4 297.2,424.4 298.2,425.3 298.2,449.4 299.2,449.4 299.2,429.6 300.2,425.5 300.2,430.2 301.2,449.4 301.2,426.3 302.2,428.2 302.2,449.4 303.2,449.4 303.2,430 304.2,428.1 304.2,449.4 305.2,449.4 305.2,428.6 306.2,420.3 306.2,449.4 307.2,449.4 307.2,430 308.2,441 308.2,449.4 309.2,449.4 309.2,433.4 310.2,433.9 310.2,449.4 311.2,449.4 311.2,434.5 312.2,434.1 312.2,449.4 313.2,449.4 313.2,432.7 314.2,433 314.2,449.4 315.2,449.4 315.2,442.7 316.2,441 316.2,449.4 317.2,449.4 317.2,437.3 318.2,435.2 318.2,437.9 319.2,449.4 319.2,434.4 320.2,434.5 320.2,449.4 321.2,441.6 321.2,436.5 322.2,449.4 323.2,449.4 323.2,442.7 324.2,446.9 324.2,449.4 325.2,449.4 325.2,437.6 326.2,437.8 326.2,449.4 327.2,449.4 327.2,436.7 328.2,449.4 329.2,449.4 329.2,440.6 330.2,437.9 330.2,440.3 331.2,436 332.2,417.9 332.2,449.4 333.2,449.4 333.2,436.6 334.2,436.6 334.2,449.4 335.2,449.4 335.2,423.4 336.2,426.4 336.2,449.4 337.2,449.4 337.2,436.9 338.2,436.7 338.2,449.4 339.2,436.7 340.2,435.9 340.2,449.4 341.2,449.4 341.2,435.9 342.2,437 342.2,449.4 343.2,437 344.2,433 344.2,449.4 345.2,449.4 345.2,434.6 346.2,438.4 346.2,449.4 347.2,449.4 347.2,438.4 348.2,437.2 348.2,449.4 349.2,449.4 349.2,434.7 350.2,449.4 351.2,435.9 352.2,435.8 352.2,449.4 353.2,449.4 354.2,439.9 354.2,449.4 355.2,449.4 355.2,438.3 356.2,443 356.2,449.4 357.2,449.4 357.2,438.6 358.2,446.9 358.2,449.4 359.2,449.4 359.2,438.3 360.2,438.7 360.2,449.4 361.2,438.2 362.2,433.6 362.2,449.4 363.2,449.4 363.2,412.2 364.2,438.3 364.2,442.6 365.2,449.4 365.2,438.4 366.2,433.9 366.2,449.4 367.2,449.4 368.2,429.8 368.2,449.4 369.2,449.4 369.2,428.8 370.2,438.5 370.2,449.4 371.2,449.4 371.2,438.5 372.2,437.2 372.2,449.4 373.2,449.4 373.2,436.7 374.2,436.7 374.2,449.4 375.2,449.4 375.2,435.3 376.2,436.6 376.2,449.4 377.2,449.4 377.2,433 378.2,433 378.2,442.4 379.2,449.4 379.2,438.6 380.2,438.9 380.2,449.4 381.2,436.6 382.2,436.7 382.2,449.4 383.2,449.4 383.2,428.1 384.2,428.6 384.2,449.4 385.2,449.4 385.2,441.5 386.2,438.2 387.2,449.4 387.2,439 388.2,440.8 388.2,449.4 389.2,449.4 389.2,439.1 390.2,440.6 390.2,449.4 391.2,449.4 391.2,437.8 392.2,449.4 393.2,449.4 393.2,437.3 394.2,432.4 394.2,449.4 395.2,449.4 395.2,439 396.2,439 396.2,442.5 397.2,441.1 397.2,440.6 398.2,437.9 398.2,449.4 399.2,449.4 399.2,438 400.2,438 400.2,449.4 401.2,449.4 401.2,438 402.2,439.1 403.2,449.4 403.2,439.2 404.2,441.2 404.2,449.4 405.2,449.4 405.2,436.7 406.2,442.8 406.2,449.4 407.2,449.4 407.2,436.7 408.2,442.5 408.2,449.4 409.2,449.4 409.2,436.3 410.2,436.4 410.2,449.4 411.2,449.4 411.2,438.6 412.2,439.3 412.2,449.4 413.2,449.4 413.2,438.7 414.2,442.9 414.2,449.4 415.2,449.4 415.2,448.5 416.2,443.2 416.2,449.4 417.2,449.4 417.2,438.8 418.2,449.4 419.2,449.4 419.2,438.9 420.2,438 420.2,449.4 421.2,449.4 421.2,438 422.2,434.8 422.2,449.4 423.2,449.4 423.2,436.6 424.2,436.6 424.2,449.4 425.2,449.4 425.2,434.4 426.2,438.7 427.2,442.1 427.2,438.1 428.2,438.1 428.2,449.4 429.2,449.4 429.2,442.4 430.2,438.2 430.2,449.4 431.2,449.4 431.2,433.3 432.2,437.8 432.2,441.5 433.2,442.4 433.2,442.3 434.2,445.8 434.2,449.4 435.2,449.4 435.2,421.8 436.2,421.8 436.2,449.4 437.2,449.4 437.2,426.9 438.2,437.6 438.2,449.4 439.2,449.4 439.2,427.2 440.2,422.8 440.2,449.4 441.2,449.4 441.2,434 442.2,434 442.2,449.4 443.2,449.4 443.2,399.1 444.2,439.5 444.2,449.4 445.2,441.1 445.2,439.5 446.2,439.2 446.2,449.4 447.2,449.4 447.2,438.8 448.2,440.5 448.2,442.7 449.2,449.4 449.2,439 450.2,438.7 450.2,449.4 451.2,449.4 451.2,430.2 452.2,430.5 452.2,449.4 453.2,449.4 453.2,439.4 454.2,421.8 454.2,449.4 455.2,449.4 455.2,422.9 456.2,437.3 456.2,449.4 457.2,449.4 457.2,437.3 458.2,436.4 458.2,443.3 459.2,449.4 459.2,438.7 460.2,440.2 461.2,449.4 462.2,407 462.2,449.4 463.2,449.4 463.2,439.4 464.2,438 464.2,449.4 465.2,449.4 466.2,427.8 466.2,449.4 467.2,449.4 467.2,431.5 468.2,438.9 468.2,449.4 469.2,449.4 469.2,438.1 470.2,439.6 470.2,449.4 471.2,449.4 471.2,437.1 472.2,437.1 472.2,449.4 473.2,449.4 473.2,439.6 474.2,447.8 474.2,449.4 475.2,449.4 475.2,438 476.2,438.5 477.2,449.4 477.2,438.5 478.2,449.4 479.2,428.5 480.2,439.4 480.2,449.4 481.2,439.2 481.2,426.7 482.2,426.7 482.2,449.4 483.2,449.4 483.2,437.1 484.2,437.1 484.2,449.4 485.2,449.4 485.2,434.3 486.2,436.5 486.2,449.4 487.2,449.4 487.2,436.2 488.2,437 488.2,449.4 489.2,439.1 490.2,449.4 491.2,449.4 492.2,445.7 492.2,449.4 493.2,449.4 493.2,436.2 494.2,436.2 494.2,449.4 495.2,449.4 495.2,429.6 496.2,439.2 496.2,449.4 497.2,449.4 497.2,438.1 498.2,434.5 498.2,449.4 499.2,449.4 499.2,435.7 500.2,438.3 500.2,449.4 501.2,449.4 501.2,437.2 502.2,434.3 502.2,439.1 503.2,449.4 503.2,442.7 504.2,441.6 504.2,449.4 505.2,449.4 505.2,438.1 506.2,438.1 506.2,449.4 507.2,449.4 507.2,442.1 508.2,429.8 508.2,449.4 509.2,449.4 509.2,432.2 510.2,437.1 510.2,449.4 511.2,449.4 511.2,439.2 512.2,440 512.2,449.4 513.2,449.4 514.2,439 514.2,443.3 515.2,449.4 515.2,428.9 516.2,439.6 516.2,449.4 517.2,439.6 518.2,437.2 518.2,449.4 519.2,437.2 520.2,439.7 520.2,449.4 521.2,449.4 521.2,439.4 522.2,440.1 522.2,449.4 523.2,449.4 523.2,438.1 524.2,426.1 524.2,449.4 525.2,449.4 525.2,438.4 526.2,438.4 526.2,449.4 527.2,449.4 527.2,439 528.2,440.6 529.2,449.4 530.2,436.3 530.2,449.4 531.2,449.4 531.2,439.2 532.2,439.2 532.2,449.4 533.2,449.4 533.2,439.7 534.2,445 534.2,449.4 535.2,449.4 536.2,438.9 536.2,449.4 537.2,449.4 537.2,439.8 538.2,449.4 539.2,449.4 539.2,437.1 540.2,438.6 540.2,439.3 541.2,440.5 541.2,429.8 542.2,432.2 542.2,449.4 543.2,449.4 543.2,423 544.2,438.9 544.2,449.4 545.2,449.4 545.2,438.5 546.2,438.5 546.2,449.4 547.2,449.4 547.2,432 548.2,425.9 548.2,449.4 549.2,449.4 549.2,439.2 550.2,449.4 551.2,449.4 552.2,441.3 553.2,449.4 553.2,440.7 554.2,449.4 555.2,449.4 555.2,438.6 556.2,443.5 556.2,449.4 557.2,449.4 557.2,428.8 558.2,428.8 558.2,449.4 559.2,449.4 559.2,435.5 560.2,437.8 560.2,449.4 561.2,449.4 561.2,437.8 562.2,440.3 563.2,437.1 564.2,439 564.2,449.4 565.2,449.4 565.2,439 566.2,439.5 566.2,449.4 567.2,449.4 567.2,439.5 568.2,435.2 568.2,449.4 569.2,449.4 569.2,439.6 570.2,437.9 570.2,449.4 571.2,449.4 571.2,438 572.2,439.3 572.2,449.4 573.2,441.5 573.2,433.9 574.2,433.9 574.2,442.1 575.2,449.4 575.2,432.8 576.2,438.5 576.2,449.4 577.2,449.4 577.2,441.9 578.2,433.7 578.2,449.4 579.2,449.4 579.2,434 580.2,438.1 580.2,449.4 581.2,449.4 581.2,442 582.2,435.6 582.2,449.4 583.2,449.4 583.2,435.6 584.2,439.9 585.2,449.4 585.2,438.7 586.2,437.7 586.2,449.4 587.2,449.4 587.2,424.8 588.2,437.7 589.2,449.4 589.2,437.7 590.2,439.2 590.2,441.6 591.2,449.4 591.2,439.2 592.2,435.2 592.2,449.4 593.2,449.4 593.2,435.2 594.2,437.8 594.2,449.4 595.2,449.4 595.2,439.7 596.2,439.7 596.2,449.4 597.2,449.4 598.2,439.9 599.2,437.8 599.2,429.3 600.2,425.5 600.2,449.4 601.2,449.4 602.2,440.2 602.2,449.4 603.2,449.4 603.2,439.5 604.2,449.3 604.2,449.4 605.2,449.4 605.2,430.4 606.2,435.5 606.2,449.4 607.2,449.4 608.2,418.9 608.2,449.4 609.2,449.4 609.2,438.7 610.2,437.8 610.2,449.4 611.2,449.4 611.2,442 612.2,416.9 612.2,449.4 613.2,449.4 613.2,436.2 614.2,439.1 614.2,449.4 615.2,441.5 616.2,436.3 616.2,449.4 617.2,449.4 617.2,436.3 618.2,431.7 618.2,449.4 619.2,449.4 619.2,440.7 620.2,440.3 620.2,449.4 621.2,449.4 621.2,432.6 622.2,443.3 622.2,449.4" fill="none" stroke="#5283d8" stroke-width="1.6" stroke-linejoin="bevel"/>
<path d="M118.2,449.4 118.2,40 118.4,44.6 118.4,47.7 118.7,49.2 118.7,46.4 119,50.5 119,53.7 119.2,56 119.2,52.7 119.4,54.4 119.4,57.7 119.7,61.6 119.7,57.3 120,60.4 120,64 120.2,67.1 120.2,62.1 120.4,64.3 120.4,69.9 120.7,71.3 120.7,66.8 121,70.5 121,72.6 121.2,75.9 121.2,70.7 122.2,80.1 122.2,83.5 123.2,90.4 123.2,84.8 124.2,92.5 124.2,96.9 125.2,103 125.2,98 126.2,102.8 126.2,109.1 127.2,114.5 127.2,109.5 128.2,114.7 128.2,120.1 129.2,125.7 129.2,120.1 130.2,125.3 130.2,131.5 131.2,136.9 131.2,131 132.2,136.1 132.2,142.8 133.2,147.3 133.2,140.5 134.2,145.2 134.2,152.4 135.2,156.7 135.2,150.1 136.2,155.4 136.2,160.8 137.2,159.8 138.2,161.9 138.2,166.2 139.2,173.1 139.2,168.2 140.2,168.8 140.2,176 141.2,180.4 141.2,172.1 142.2,174.5 142.2,184.1 143.2,188.5 143.2,181.9 144.2,184 144.2,190.4 145.2,196.3 145.2,185.2 146.2,187.4 146.2,199.4 147.2,196.2 147.2,188.9 148.2,192.9 148.2,202.9 149.2,205.5 149.2,194.9 150.2,197.2 150.2,208.5 151.2,210.8 151.2,200.1 152.2,202.9 152.2,212.5 153.2,214.2 153.2,205.3 154.2,207.6 154.2,220.1 155.2,222.3 155.2,210 156.2,212.8 156.2,231.3 157.2,234.3 157.2,213.1 158.2,217.6 158.2,225 159.2,228.9 159.2,216.6 160.2,219.1 160.2,231.6 161.2,233.4 161.2,224.2 162.2,228.1 162.2,236.3 163.2,239 163.2,230.6 164.2,233.6 164.2,240.6 165.2,252 166.2,237.7 166.2,246.5 167.2,248.7 167.2,239.8 168.2,238.2 168.2,254.6 169.2,259 169.2,244 170.2,239.8 170.2,255.2 171.2,254.3 171.2,241.5 172.2,248.8 172.2,257.9 173.2,260.2 173.2,245.9 174.2,248.4 174.2,261.9 175.2,263.3 175.2,254.5 176.2,256.2 176.2,261.2 177.2,266.1 177.2,257.5 178.2,264.8 178.2,268.6 179.2,269.4 179.2,258.1 180.2,259.7 180.2,266.6 181.2,273.5 181.2,263.4 182.2,265.1 182.2,274 183.2,279.1 183.2,268.7 184.2,266.3 184.2,281.5 185.2,275.5 185.2,272.9 186.2,280 186.2,285.2 187.2,275.4 187.2,274.8 188.2,276.5 188.2,287.4 189.2,293.1 189.2,273.2 190.2,278.8 190.2,294.2 191.2,296 191.2,291.2 192.2,266.2 192.2,297 193.2,297.9 193.2,267.5 194.2,286.8 194.2,302.5 195.2,301.2 195.2,295.9 196.2,299.8 196.2,302.8 197.2,304.6 197.2,290 198.2,291.6 198.2,309 199.2,308.5 199.2,291.1 200.2,292.6 200.2,314.5 201.2,315.9 201.2,292.3 202.2,305 202.2,311.4 203.2,312.7 203.2,297.6 204.2,298.9 204.2,312.8 205.2,314.6 205.2,300.6 206.2,303 206.2,316.8 207.2,318.1 207.2,311.7 208.2,301.1 208.2,320.2 209.2,321.4 209.2,302.2 210.2,307.2 210.2,321.5 211.2,320.6 211.2,305.3 212.2,308.7 212.2,325.1 213.2,326.3 213.2,309.9 214.2,305.6 214.2,321.1 215.2,325.3 215.2,314.4 216.2,306.7 216.2,329.7 217.2,323.3 217.2,307.4 218.2,316.6 218.2,331.7 219.2,333.7 219.2,315.9 220.2,317 220.2,319.9 221.2,340.7 222.2,319.9 222.2,334.9 223.2,368.9 223.2,321.3 224.2,322.4 224.2,381.8 225.2,330.2 225.2,323.6 226.2,324.7 226.2,341.4 227.2,340.9 227.2,326.6 228.2,326.5 228.2,342 229.2,362.9 230.2,328.9 230.2,345.3 231.2,348.4 231.2,332.5 232.2,328.3 232.2,352.8 233.2,346.3 233.2,329.3 234.2,333.6 234.2,338.2 235.2,361.5 235.2,350.1 236.2,340.3 236.2,350.6 237.2,350 237.2,335.7 238.2,337.8 238.2,353 239.2,361.2 239.2,338.5 240.2,339.5 240.2,355.1 241.2,356.2 241.2,339.3 242.2,374.1 243.2,359.2 243.2,345 244.2,351.7 244.2,360.6 245.2,347.7 245.2,344.9 246.2,345.2 246.2,360.6 247.2,369.7 247.2,361 248.2,345.2 248.2,363.3 249.2,372 249.2,346.2 250.2,349.9 250.2,389.5 251.2,364.7 251.2,350.9 252.2,351.6 252.2,379.3 253.2,380.7 253.2,352.6 254.2,367.8 254.2,378.4 255.2,381.5 255.2,353.5 256.2,343.6 256.2,375.4 257.2,389.1 257.2,359.5 258.2,356.9 258.2,377.2 259.2,382.2 259.2,333.5 260.2,334.4 260.2,374.5 261.2,381.8 261.2,345.8 262.2,360.8 262.2,409 263.2,408 263.2,361.7 264.2,362.8 264.2,380.3 265.2,389.4 265.2,377.8 266.2,359.8 266.2,374.8 267.2,392.9 267.2,360.6 268.2,365.6 268.2,394.8 269.2,386.8 269.2,366.3 270.2,362.3 270.2,376.8 271.2,399.5 271.2,366.4 272.2,367 272.2,400.4 273.2,402.7 273.2,368.4 274.2,369.3 274.2,404.2 275.2,395.9 275.2,383.2 276.2,370.5 276.2,405.1 277.2,406.5 277.2,370.4 278.2,375.2 278.2,416.9 279.2,418.4 279.2,370.9 280.2,381.6 280.2,399.9 281.2,402 281.2,354.7 282.2,371.2 282.2,413.4 283.2,416.1 283.2,372.1 284.2,376.4 284.2,429.9 285.2,426.5 285.2,384.5 286.2,395.6 286.2,425.1 287.2,421.3 287.2,379 288.2,378.8 288.2,422.7 289.2,417.8 289.2,379.7 290.2,380.1 290.2,431.9 291.2,427.1 291.2,380.3 292.2,381.9 292.2,421.2 293.2,430 293.2,405.8 294.2,385.4 294.2,415.1 295.2,430.8 295.2,388.9 296.2,383 296.2,436.6 297.2,433.4 297.2,385.7 298.2,395.8 298.2,434.5 299.2,435.3 299.2,379 300.2,385.9 300.2,436.6 301.2,418.7 301.2,395.6 302.2,391.5 302.2,449.4 303.2,449.4 303.2,386.7 304.2,384.3 304.2,449.4 305.2,441 305.2,392.2 306.2,392.9 306.2,414.1 307.2,437.5 307.2,400.2 308.2,408.8 308.2,443.2 309.2,449.4 309.2,411.6 310.2,396.4 310.2,449.4 311.2,449.4 311.2,400.2 312.2,396.3 312.2,449.4 313.2,449.4 313.2,394 314.2,396.6 314.2,449.4 315.2,449.4 315.2,401.6 316.2,402.1 316.2,449.4 317.2,449.4 317.2,362.9 318.2,400.8 318.2,449.4 319.2,449.4 319.2,402.7 320.2,403.3 320.2,440.4 321.2,449.4 321.2,404.4 322.2,405.5 322.2,429.7 323.2,449.4 323.2,404.4 324.2,406.6 324.2,449.4 325.2,449.4 325.2,407.2 326.2,407.9 326.2,449.4 327.2,449.4 327.2,408.5 328.2,409.2 328.2,449.4 329.2,449.4 329.2,416.3 330.2,386.8 330.2,449.4 331.2,449.4 331.2,401.7 332.2,423.9 332.2,449.4 333.2,449.4 333.2,411.2 334.2,409.1 334.2,449.4 335.2,442.3 335.2,407.2 336.2,417.7 336.2,449.4 337.2,449.4 337.2,413.4 338.2,415.1 338.2,449.4 339.2,449.4 339.2,415.8 340.2,417.3 340.2,449.4 341.2,449.4 341.2,413.4 342.2,409 342.2,449.4 343.2,449.4 343.2,409.4 344.2,416.8 344.2,449.4 345.2,438.9 345.2,400.5 346.2,417 346.2,449.4 347.2,439.9 347.2,417.3 348.2,418 349.2,449.4 349.2,408.8 350.2,404 350.2,449.4 351.2,449.4 351.2,419.3 352.2,419.6 352.2,427.6 353.2,449.4 353.2,414 354.2,418.4 354.2,449.4 355.2,449.4 355.2,416.6 356.2,416.8 356.2,449.4 357.2,449.4 357.2,437.5 358.2,420.6 358.2,449.4 359.2,449.4 359.2,422 360.2,413.2 360.2,449.4 361.2,449.4 361.2,418.4 362.2,419.3 362.2,441.6 363.2,449.4 363.2,431 364.2,421.3 364.2,449.4 365.2,449.4 365.2,422.6 366.2,422.7 366.2,449.4 367.2,449.4 367.2,415.8 368.2,396.5 368.2,449.4 369.2,449.4 369.2,422.5 370.2,422.6 370.2,449.4 371.2,433.3 371.2,420.6 372.2,420.8 372.2,449.4 373.2,437.4 373.2,415.6 374.2,415.7 374.2,449.4 375.2,449.4 375.2,415.8 376.2,423 376.2,449.4 377.2,449.4 377.2,424.7 378.2,424.8 378.2,449.4 379.2,449.4 379.2,424.2 380.2,424.7 380.2,449.4 381.2,449.4 381.2,424.8 382.2,414.7 382.2,449.4 383.2,449.4 383.2,397.3 384.2,403.9 384.2,449.4 385.2,449.4 385.2,421.1 386.2,422.3 386.2,449.4 387.2,449.4 387.2,424.9 388.2,425 388.2,449.4 389.2,449.4 389.2,423.9 390.2,418.8 390.2,449.4 391.2,449.4 391.2,413.7 392.2,425.3 392.2,449.4 393.2,442.1 393.2,425 394.2,400.3 394.2,449.4 395.2,449.4 395.2,423.4 396.2,423.4 396.2,449.4 397.2,449.4 397.2,418.7 398.2,425.8 398.2,449.4 399.2,449.4 399.2,420.8 400.2,425.3 400.2,430.2 401.2,449.4 401.2,424.9 402.2,423 402.2,435.3 403.2,442.7 403.2,423 404.2,423.6 404.2,449.4 405.2,449.4 405.2,413.5 406.2,419 406.2,449.4 407.2,449.4 407.2,424.5 408.2,437.8 408.2,449.4 409.2,449.4 409.2,418.5 410.2,418.6 410.2,449.4 411.2,449.4 411.2,422.9 412.2,419.4 412.2,449.4 413.2,449.4 413.2,425.5 414.2,425.5 414.2,449.4 415.2,437.2 415.2,425 416.2,423.5 416.2,449.4 417.2,449.4 418.2,421.4 418.2,449.4 419.2,449.4 419.2,424.6 420.2,425.1 420.2,449.4 421.2,449.4 421.2,423.2 422.2,435.9 422.2,449.4 423.2,449.4 423.2,426 424.2,425.3 424.2,449.4 425.2,449.4 425.2,425.3 426.2,416 426.2,449.4 427.2,449.4 427.2,417.2 428.2,424.4 428.2,449.4 429.2,449.4 429.2,424.4 430.2,423.8 430.2,449.4 431.2,449.4 431.2,438.4 432.2,425 432.2,449.4 433.2,449.4 433.2,425 434.2,424.9 434.2,449.4 435.2,434.9 435.2,424.9 436.2,424.3 436.2,449.4 437.2,449.4 437.2,428.5 438.2,425.9 438.2,449.4 439.2,449.4 439.2,425.1 440.2,421 440.2,449.4 441.2,449.4 441.2,408.9 442.2,408.9 442.2,449.4 443.2,443.3 443.2,417.1 444.2,415 444.2,449.4 445.2,449.4 445.2,416.4 446.2,423.4 446.2,449.4 447.2,442.2 447.2,423.4 448.2,426.3 448.2,449.4 449.2,438.1 449.2,436.8 450.2,424.6 450.2,449.4 451.2,442.2 451.2,431.5 452.2,424.4 452.2,449.4 453.2,449.4 453.2,440.7 454.2,426.4 454.2,449.4 455.2,449.4 455.2,411.5 456.2,444.2 456.2,449.4 457.2,449.4 457.2,425.1 458.2,424.5 458.2,449.4 459.2,449.4 459.2,424.5 460.2,425.2 460.2,449.4 461.2,449.4 461.2,433.8 462.2,437.6 462.2,449.4 463.2,449.4 463.2,424.2 464.2,423.4 464.2,449.4 465.2,449.4 465.2,424.8 466.2,422.5 466.2,449.4 467.2,449.4 467.2,425.3 468.2,425.9 468.2,440.2 469.2,449.4 469.2,420.7 470.2,426.6 470.2,449.4 471.2,449.4 471.2,421.6 472.2,428.2 472.2,449.4 473.2,449.4 473.2,426.2 474.2,412.6 474.2,449.4 475.2,449.4 475.2,415.4 476.2,408.5 476.2,449.4 477.2,431.4 477.2,408.5 478.2,425.5 478.2,428.5 479.2,429.6 479.2,425.5 480.2,426.4 480.2,449.4 481.2,440.1 481.2,431.1 482.2,430.8 482.2,449.4 483.2,449.4 483.2,426.4 484.2,433 484.2,449.4 485.2,449.4 485.2,424.8 486.2,424.9 486.2,449.4 487.2,434.4 487.2,424.3 488.2,430.7 488.2,449.4 489.2,449.4 489.2,431.5 490.2,436.1 490.2,437.5 491.2,449.4 491.2,426.1 492.2,419.9 492.2,449.4 493.2,449.4 493.2,426 494.2,426 494.2,449.4 495.2,449.4 495.2,425.2 496.2,425.2 496.2,449.4 497.2,449.4 497.2,423.5 498.2,424.8 498.2,449.4 499.2,449.4 499.2,426.7 500.2,438.8 500.2,439 501.2,425.8 501.2,417 502.2,426.3 502.2,449.4 503.2,449.4 503.2,422.2 504.2,426.7 504.2,449.4 505.2,449.4 505.2,425.5 506.2,425.5 506.2,449.4 507.2,449.4 507.2,422.3 508.2,422.3 508.2,449.4 509.2,449.4 509.2,443.9 510.2,426.5 510.2,449.4 511.2,441.7 511.2,430 512.2,421.2 512.2,449.4 513.2,426.6 514.2,429.5 514.2,449.4 515.2,449.4 515.2,434.7 516.2,432.2 516.2,449.4 517.2,449.4 517.2,428.7 518.2,425.3 518.2,449.4 519.2,449.4 519.2,425.4 520.2,425.4 520.2,449.4 521.2,449.4 521.2,425.4 522.2,426.9 522.2,449.4 523.2,449.4 523.2,426 524.2,449.4 525.2,449.4 525.2,426.3 526.2,426.4 526.2,449.4 527.2,449.4 527.2,426.4 528.2,420 528.2,449.4 529.2,449.4 529.2,424.6 530.2,424.6 530.2,449.4 531.2,449.4 531.2,426 532.2,425 532.2,449.4 533.2,449.4 533.2,426.6 534.2,426.6 534.2,449.4 535.2,449.4 535.2,448.2 536.2,426.6 536.2,449.4 537.2,449.4 537.2,422.6 538.2,424.6 538.2,449.4 539.2,449.4 539.2,426.7 540.2,426.7 540.2,449.4 541.2,438.3 541.2,424 542.2,431 542.2,449.4 543.2,449.4 543.2,430.7 544.2,438.2 544.2,449.4 545.2,449.4 545.2,404.4 546.2,404.4 546.2,449.4 547.2,449.4 547.2,425.4 548.2,425.4 548.2,449.4 549.2,449.4 549.2,425.7 550.2,425.7 550.2,442.9 551.2,449.4 551.2,426.7 552.2,426.7 552.2,449.4 553.2,449.4 553.2,426.3 554.2,426.3 554.2,449.4 555.2,449.4 555.2,408.4 556.2,412 556.2,437 557.2,449.4 557.2,426.8 558.2,426.8 558.2,449.4 559.2,449.4 559.2,423.7 560.2,426.9 560.2,449.4 561.2,449.4 561.2,438.6 562.2,426.1 562.2,449.4 563.2,449.4 564.2,435.6 564.2,449.4 565.2,441.4 565.2,428.8 566.2,426.3 566.2,449.4 567.2,440.9 567.2,417.9 568.2,424.9 568.2,449.4 569.2,449.4 569.2,418.5 570.2,424.2 570.2,439.6 571.2,449.4 572.2,425 572.2,449.4 573.2,449.4 573.2,443.6 574.2,426.4 574.2,449.4 575.2,449.4 575.2,431.9 576.2,426.1 576.2,449.4 577.2,449.4 577.2,430.3 578.2,421.7 578.2,440.1 579.2,440.8 579.2,426 580.2,433.3 580.2,449.4 581.2,449.4 581.2,422.7 582.2,423.1 582.2,449.4 583.2,449.4 583.2,425.1 584.2,417 584.2,449.4 585.2,439.7 585.2,417 586.2,426.1 586.2,432.1 587.2,449.4 587.2,405.2 588.2,415.2 588.2,441.3 589.2,449.4 589.2,426.9 590.2,449.4 591.2,449.4 591.2,426.7 592.2,418.9 592.2,449.4 593.2,449.4 593.2,427.3 594.2,425.6 594.2,449.4 595.2,449.4 595.2,422.1 596.2,449.4 597.2,449.4 597.2,426.9 598.2,426.9 598.2,449.4 599.2,449.4 599.2,426.3 600.2,426.3 600.2,449.4 601.2,449.4 601.2,419.3 602.2,426.4 602.2,431 603.2,449.4 603.2,442.6 604.2,443.2 604.2,449.4 605.2,449.4 605.2,433.4 606.2,444.6 606.2,449.4 607.2,449.4 607.2,426.2 608.2,425.6 608.2,449.4 609.2,449.4 609.2,425.6 610.2,428 610.2,449.4 611.2,449.4 611.2,426.8 612.2,419.5 612.2,449.4 613.2,449.4 613.2,422.2 614.2,417.7 614.2,449.4 615.2,449.4 615.2,417.7 616.2,431.8 616.2,449.4 617.2,449.4 617.2,422.2 618.2,437.9 618.2,449.4 619.2,449.4 619.2,426.4 620.2,426.4 620.2,449.4 621.2,449.4 621.2,426.3 622.2,430 622.2,449.4" fill="none" stroke="#4aaac4" stroke-width="1.6" stroke-linejoin="bevel"/>
<path d="M118.2,449.4 118.2,40 118.4,45.5 118.4,47.2 118.7,51.3 118.7,45.8 119,48 119,54.3 119.2,57 119.2,49.2 119.4,51.1 119.4,60.5 119.7,61.9 119.7,54 120,55.9 120,64.5 120.2,66.9 120.2,57.8 120.4,59.9 120.4,69.1 120.7,71.5 120.7,59.8 121,63.9 121,72.1 121.2,75.1 121.2,66.2 122.2,72.8 122.2,84.7 123.2,91.7 123.2,80.3 124.2,85.3 124.2,96.9 125.2,103.1 125.2,92.3 126.2,98 126.2,109 127.2,114.3 127.2,103.3 128.2,108.4 128.2,119.8 129.2,124.1 129.2,113.5 130.2,121.4 130.2,130 131.2,135.8 131.2,122.8 132.2,129.2 132.2,140.9 133.2,145.1 133.2,131.8 134.2,134.8 134.2,150.2 135.2,154.7 135.2,140 136.2,139.8 136.2,158.8 137.2,158.4 137.2,145.6 138.2,151.1 138.2,165.6 139.2,170.2 139.2,150.7 140.2,156 140.2,173.2 141.2,176.5 141.2,161 142.2,157.9 142.2,179.7 143.2,179.3 143.2,160.2 144.2,166.7 144.2,187 145.2,190 145.2,166.2 146.2,168.1 146.2,193.7 147.2,194.3 147.2,170.8 148.2,173.4 148.2,197.1 149.2,199 149.2,173 150.2,179.8 150.2,198.8 151.2,211 151.2,182.2 152.2,185.3 152.2,213.6 153.2,212.4 153.2,186.5 154.2,193.4 154.2,210.1 155.2,214.3 155.2,193.4 156.2,203.9 156.2,217.1 157.2,220 157.2,199.1 158.2,200.8 158.2,215.9 159.2,226.5 159.2,203 160.2,210.9 160.2,220.2 161.2,227.2 161.2,203.4 162.2,205.3 162.2,230.1 163.2,235.1 163.2,211.3 164.2,213.3 164.2,237.6 165.2,240.1 165.2,215 166.2,216.8 166.2,242.4 167.2,240.7 167.2,224.4 168.2,221.2 168.2,247.1 169.2,252 169.2,223 170.2,224.8 170.2,251.7 171.2,263.3 171.2,225 172.2,227.7 172.2,245.1 173.2,256.3 173.2,229.4 174.2,231.3 174.2,259.4 175.2,261.1 175.2,233.8 176.2,233 176.2,260.4 177.2,258.8 177.2,234.5 178.2,234.2 178.2,265.2 179.2,266.9 179.2,235.5 180.2,240.8 180.2,267.3 181.2,269.2 181.2,253 182.2,242 182.2,271 183.2,264.9 183.2,243.5 184.2,244.7 184.2,276.5 185.2,276 185.2,249.9 186.2,247.6 186.2,278 187.2,269.1 187.2,245.1 188.2,250.9 188.2,282.1 189.2,286.3 189.2,250.9 190.2,252 190.2,288 191.2,278.5 191.2,252.5 192.2,253.5 192.2,291 193.2,289 193.2,257.1 194.2,255.7 194.2,286.9 195.2,292.7 195.2,251.1 196.2,263.8 196.2,294.2 197.2,296.4 197.2,257.5 198.2,254.7 198.2,297.8 199.2,315 199.2,257.5 200.2,246.1 200.2,297.3 201.2,305.8 201.2,247.4 202.2,263.3 202.2,346.1 203.2,347.9 203.2,264 204.2,264.8 204.2,302.1 205.2,306.3 205.2,267.2 206.2,265.5 206.2,311.9 207.2,310.4 207.2,265.1 208.2,270.7 208.2,312.7 209.2,307.8 209.2,275.4 210.2,270.1 210.2,314 211.2,302.4 211.2,269.1 212.2,269.8 212.2,315.9 213.2,324.4 213.2,261.8 214.2,270.7 214.2,325.7 215.2,320.2 215.2,270.9 216.2,273.4 216.2,321.9 217.2,322.7 217.2,273.9 218.2,274 218.2,321.8 219.2,329.4 219.2,269.6 220.2,300.4 220.2,330.5 221.2,327.3 221.2,285.5 222.2,275.4 222.2,328.4 223.2,327 223.2,279.5 224.2,258.5 224.2,304.5 225.2,335 225.2,259.3 226.2,280.5 226.2,334.3 227.2,338.6 227.2,302.6 228.2,286.4 228.2,335.8 229.2,322.9 229.2,290.2 230.2,311.8 230.2,338.6 231.2,307.5 231.2,277.7 232.2,278.4 232.2,359 233.2,356.3 233.2,288.1 234.2,297.4 234.2,339.4 235.2,328.8 235.2,288.1 236.2,288.8 236.2,343.9 237.2,342.8 237.2,265.6 238.2,304.9 238.2,344 239.2,343.1 239.2,287.3 240.2,286.6 240.2,317.9 241.2,346.4 241.2,288.4 242.2,292.4 242.2,350.3 243.2,313.5 243.2,293.6 244.2,313 244.2,349.3 245.2,351.5 245.2,292.6 246.2,293.3 246.2,368.2 247.2,374.4 247.2,296.8 248.2,297.5 248.2,356.1 249.2,333.9 249.2,295.5 250.2,306.2 250.2,354.2 251.2,355.2 251.2,295.9 252.2,299.7 252.2,365 253.2,359.5 253.2,301.7 254.2,300.7 254.2,361.3 255.2,367.5 255.2,302.3 256.2,303 256.2,360.6 257.2,380.9 257.2,313.6 258.2,303.3 258.2,359.6 259.2,367 259.2,324.2 260.2,310.2 260.2,362.1 261.2,365.7 261.2,305.4 262.2,306.1 262.2,365.6 263.2,371 263.2,306.5 264.2,307.1 264.2,347.4 265.2,370.2 265.2,306.9 266.2,307.5 266.2,372.1 267.2,373.1 267.2,323.4 268.2,309.8 268.2,373.6 269.2,374.3 269.2,320.6 270.2,311.8 270.2,377 271.2,414.3 271.2,309.6 272.2,310.2 272.2,412.2 273.2,374.4 273.2,333.9 274.2,314.3 274.2,376.8 275.2,367.9 275.2,321.2 276.2,324.1 276.2,373.9 277.2,365.8 277.2,313.1 278.2,310.7 278.2,380 279.2,375.5 279.2,311.3 280.2,318 280.2,377.5 281.2,378.2 281.2,306.7 282.2,299.8 282.2,380.1 283.2,376.7 283.2,319.8 284.2,337.1 284.2,383.2 285.2,385.7 285.2,315.8 286.2,320.9 286.2,417.1 287.2,400.7 287.2,332.6 288.2,315.3 288.2,384.6 289.2,385.6 289.2,348.8 290.2,322.9 290.2,388.4 291.2,390.3 291.2,321 292.2,321.6 292.2,391.2 293.2,396.2 293.2,324.8 294.2,365.2 294.2,394 295.2,387.4 295.2,319.8 296.2,328.1 296.2,394.3 297.2,394.7 297.2,332.4 298.2,330 298.2,402.8 299.2,403.6 299.2,321.2 300.2,322.6 300.2,389.6 301.2,408.2 301.2,329.5 302.2,340 302.2,405.2 303.2,388.9 303.2,316.5 304.2,321.1 304.2,398.7 305.2,400.2 305.2,314 306.2,336.1 306.2,433.1 307.2,402.5 307.2,329.8 308.2,325.1 308.2,399.9 309.2,403.8 309.2,340.6 310.2,331.7 310.2,404.8 311.2,405.6 311.2,332.2 312.2,327.3 312.2,429.7 313.2,435 313.2,335.8 314.2,332.8 314.2,384.1 315.2,387.9 315.2,336.4 316.2,336.9 316.2,414.4 317.2,415.1 317.2,345.1 318.2,338.6 318.2,375.5 319.2,410.2 319.2,338.9 320.2,338.3 320.2,413.7 321.2,402.5 321.2,341.8 322.2,340.7 322.2,410.1 323.2,426.2 323.2,342.6 324.2,339.5 324.2,426.8 325.2,412.3 325.2,340 326.2,344.6 326.2,413.2 327.2,431.7 327.2,345.1 328.2,334 328.2,432.3 329.2,438.3 329.2,334.5 330.2,343.9 330.2,438.9 331.2,417.6 331.2,350.6 332.2,355.5 332.2,421.7 333.2,424.3 333.2,343.8 334.2,352.5 334.2,419.3 335.2,419.8 335.2,345.2 336.2,336.9 336.2,418.2 337.2,421.5 337.2,343.3 338.2,346.4 338.2,409.2 339.2,420 339.2,348.3 340.2,345.8 340.2,421.8 341.2,424 341.2,346.1 342.2,347.7 342.2,420.9 343.2,432.2 343.2,348.1 344.2,351.7 344.2,432.6 345.2,418.3 345.2,350.3 346.2,349.8 346.2,423.3 347.2,422.9 347.2,363.7 348.2,350.6 348.2,425.7 349.2,441.6 349.2,350.7 350.2,351 350.2,441.9 351.2,428.1 351.2,352.6 352.2,358.1 352.2,411.9 353.2,423 353.2,359.1 354.2,360.8 354.2,427.4 355.2,413.7 355.2,353.3 356.2,348.9 356.2,422.7 357.2,430.1 357.2,354.4 358.2,348.6 358.2,429.2 359.2,428.4 359.2,354.7 360.2,355.4 360.2,426.8 361.2,424.9 361.2,352.6 362.2,352.9 362.2,429.6 363.2,428.8 363.2,346.4 364.2,346.8 364.2,430.5 365.2,432.1 365.2,375.9 366.2,356.4 366.2,449.4 367.2,449.4 367.2,359 368.2,358.8 368.2,428.5 369.2,433.6 369.2,381.9 370.2,356.2 370.2,430.4 371.2,430.5 371.2,360.4 372.2,367.2 372.2,429.2 373.2,434.5 373.2,373.4 374.2,360.4 374.2,433 375.2,428.7 375.2,360.1 376.2,361.9 376.2,449.4 377.2,432 377.2,361.1 378.2,376.6 378.2,415.5 379.2,429.7 379.2,360 380.2,363.2 380.2,433.1 381.2,434.5 381.2,363.1 382.2,367.2 382.2,434.6 383.2,432.6 383.2,355.6 384.2,355.8 384.2,438.9 385.2,432.1 385.2,355.5 386.2,357.4 386.2,415.4 387.2,430.2 387.2,358.1 388.2,357.3 388.2,430.4 389.2,449.4 389.2,381 390.2,375.3 390.2,449.4 391.2,433.4 391.2,365.9 392.2,366.2 392.2,433.5 393.2,449.4 393.2,367.2 394.2,365.4 394.2,449.4 395.2,442.9 395.2,384 396.2,373.6 396.2,438.5 397.2,416.5 397.2,362.5 398.2,362.7 398.2,441.6 399.2,437.7 399.2,365.4 400.2,367.2 400.2,438.6 401.2,440 401.2,367.7 402.2,368 402.2,449.4 403.2,430.7 403.2,368.6 404.2,383.5 404.2,430.7 405.2,449.4 405.2,370.7 406.2,382.5 406.2,449.4 407.2,449.4 407.2,371 408.2,376.6 408.2,424.2 409.2,417.8 409.2,359.5 410.2,372 410.2,409.3 411.2,449.4 411.2,372.3 412.2,371 412.2,449.4 413.2,431.1 413.2,359.7 414.2,373.1 414.2,431.1 415.2,432.8 415.2,373.4 416.2,373.2 416.2,433.9 417.2,432.6 417.2,373.4 418.2,373.7 418.2,433.4 419.2,431.3 419.2,369.5 420.2,373.4 420.2,431.3 421.2,430.2 421.2,370.3 422.2,370.6 422.2,416.9 423.2,410.7 423.2,373.4 424.2,376.7 424.2,423.3 425.2,433 425.2,375.2 426.2,387 426.2,429 427.2,442.4 427.2,369.2 428.2,359.6 428.2,441.2 429.2,449.4 429.2,376.4 430.2,381 430.2,449.4 431.2,431.4 431.2,373.6 432.2,387.3 432.2,449.4 433.2,449.4 433.2,361.2 434.2,375.4 434.2,428.2 435.2,420.9 435.2,378.5 436.2,378.7 436.2,432.8 437.2,449.4 437.2,382.5 438.2,371.3 438.2,449.4 439.2,449.4 439.2,378.8 440.2,364.7 440.2,434.8 441.2,434.8 441.2,364.9 442.2,383.4 442.2,420.8 443.2,428.4 443.2,393.9 444.2,380.4 444.2,449.4 445.2,449.4 445.2,412 446.2,380.2 446.2,434.4 447.2,432.6 447.2,375.1 448.2,378.9 448.2,427.8 449.2,414.4 449.2,397.1 450.2,382 450.2,434.1 451.2,436 451.2,382.3 452.2,414.4 452.2,431.1 453.2,431.1 453.2,381 454.2,382.8 454.2,436.4 455.2,442.8 455.2,383 456.2,382.1 456.2,431.5 457.2,431.5 457.2,378.2 458.2,382.2 458.2,433 459.2,419 459.2,374.4 460.2,383.7 460.2,439.1 461.2,441.1 461.2,381.3 462.2,384 462.2,425.5 463.2,431.4 463.2,390.8 464.2,391.1 464.2,435.6 465.2,432.7 465.2,393.3 466.2,382.3 466.2,449.4 467.2,449.4 467.2,382.4 468.2,382.8 468.2,439.9 469.2,449.4 469.2,382.9 470.2,383.4 470.2,433 471.2,409.1 471.2,384.2 472.2,397.4 472.2,433.1 473.2,433.2 473.2,382.3 474.2,387.1 474.2,433.8 475.2,431 475.2,396.3 476.2,386.4 476.2,427.5 477.2,439.3 477.2,386.5 478.2,384.2 478.2,449.4 479.2,449.4 479.2,385.3 480.2,364.7 480.2,431.3 481.2,431.3 481.2,364.8 482.2,387.1 482.2,449.4 483.2,432.8 483.2,403.6 484.2,380.3 484.2,432.8 485.2,431.1 485.2,377.4 486.2,380 486.2,434.1 487.2,449.4 487.2,386.7 488.2,386.8 488.2,449.4 489.2,432.7 489.2,384.6 490.2,352.7 490.2,426.4 491.2,414 491.2,352.8 492.2,384.5 492.2,431.7 493.2,441.4 493.2,384.6 494.2,384.6 494.2,441.4 495.2,440.4 495.2,397.1 496.2,351.7 496.2,440.4 497.2,435.3 497.2,388.2 498.2,390.4 498.2,443.3 499.2,443.3 499.2,400.2 500.2,385.6 500.2,439.7 501.2,449.4 501.2,390.3 502.2,397.7 502.2,431.4 503.2,435.2 503.2,388 504.2,387.9 504.2,435.2 505.2,423.4 505.2,419.5 506.2,386.1 506.2,449.4 507.2,439.6 507.2,389.2 508.2,402.2 508.2,431.2 509.2,449.4 509.2,393.3 510.2,392.2 510.2,435.6 511.2,440.1 511.2,378.8 512.2,378.9 512.2,440.1 513.2,437.6 513.2,376.9 514.2,402.8 514.2,438.7 515.2,438.8 515.2,387.8 516.2,387.9 516.2,411.6 517.2,432.4 517.2,390.6 518.2,390.7 518.2,432.2 519.2,420.6 519.2,404.1 520.2,393.3 520.2,440.7 521.2,440.7 521.2,399.9 522.2,389.8 522.2,433.3 523.2,433.4 523.2,389.9 524.2,391.4 524.2,449.4 525.2,436.9 525.2,392.3 526.2,392.4 526.2,432.8 527.2,449.4 527.2,391.3 528.2,391.2 528.2,441 529.2,449.4 529.2,390.5 530.2,390.2 530.2,431.4 531.2,431.2 531.2,363.2 532.2,385 532.2,432.1 533.2,432.8 533.2,388.4 534.2,390.4 534.2,440.2 535.2,437.8 535.2,393.3 536.2,411.3 536.2,434.3 537.2,434.3 537.2,393.4 538.2,391.9 538.2,438.2 539.2,435.3 539.2,386 540.2,386.1 540.2,432.8 541.2,432.8 541.2,393.6 542.2,397 542.2,431.2 543.2,431.2 543.2,402.9 544.2,393.6 544.2,439.6 545.2,449.4 545.2,393.7 546.2,394.7 546.2,407 547.2,435.1 547.2,395 548.2,395.1 548.2,432.6 549.2,441.6 549.2,395.2 550.2,395.3 550.2,433.9 551.2,435.3 551.2,395.3 552.2,395.4 552.2,433.3 553.2,433.6 553.2,395.3 554.2,397.5 554.2,432.1 555.2,449.4 555.2,395.7 556.2,395.6 556.2,449.4 557.2,440.5 557.2,408.3 558.2,410.4 558.2,449.4 559.2,449.4 559.2,384 560.2,384.2 560.2,440 561.2,440 561.2,385.4 562.2,385.5 562.2,449.4 563.2,449.4 563.2,404.8 564.2,396.7 564.2,430.8 565.2,420.6 565.2,415.3 566.2,397.6 566.2,439.3 567.2,439.3 567.2,395.6 568.2,395.8 568.2,431.8 569.2,435.2 569.2,396.3 570.2,397.1 570.2,418.8 571.2,436.8 571.2,384.2 572.2,397.2 572.2,436.8 573.2,449.4 573.2,398 574.2,396.7 574.2,423.5 575.2,449.4 575.2,396.9 576.2,398 576.2,449.4 577.2,437 577.2,398.1 578.2,398.7 578.2,437 579.2,437.3 579.2,398.8 580.2,398.6 580.2,437.3 581.2,437.5 581.2,395.4 582.2,395.5 582.2,437.2 583.2,433.1 583.2,387 584.2,386 584.2,433.1 585.2,430.9 585.2,397.9 586.2,393.8 586.2,431.8 587.2,423.1 587.2,399 588.2,409.9 588.2,434.4 589.2,418.9 589.2,398.9 590.2,400.6 590.2,441.4 591.2,442 591.2,406.2 592.2,399.4 592.2,449.4 593.2,449.4 593.2,399 594.2,380.5 594.2,449.4 595.2,438.7 595.2,404.9 596.2,400.5 596.2,433.6 597.2,439.7 597.2,399 598.2,398.5 598.2,419.1 599.2,449.4 599.2,399.7 600.2,400 600.2,449.4 601.2,398.7 602.2,398.9 602.2,416.4 603.2,424.6 603.2,397.7 604.2,404.1 604.2,439.8 605.2,439.8 605.2,402.5 606.2,401.4 606.2,443.1 607.2,439.8 607.2,392.4 608.2,401.7 608.2,433.9 609.2,434.4 609.2,404.3 610.2,406.9 610.2,431.2 611.2,433.2 611.2,387.1 612.2,402.1 612.2,433.2 613.2,437.1 613.2,401.1 614.2,401.2 614.2,428.7 615.2,449.4 615.2,386.3 616.2,411.7 616.2,449.4 617.2,432 617.2,403 618.2,410.2 618.2,432 619.2,431.8 619.2,397.1 620.2,403.3 620.2,443.2 621.2,435.5 621.2,403.6 622.2,421.9 622.2,435.1" fill="none" stroke="#c4c4c8" stroke-width="1.6" stroke-linejoin="bevel"/>
<path d="M118.2,449.4 118.2,40 118.4,46 118.4,50.7 118.7,53.1 118.7,47.2 119,51.5 119,53.8 119.2,57.3 119.2,52.4 119.4,54 119.4,59.5 119.7,61 119.7,56.7 120,58.5 120,63.2 120.2,66.4 120.2,60.5 120.4,61.3 120.4,68.3 120.7,70.1 120.7,64 121,65.7 121,70.1 121.2,71.9 121.2,67.1 122.2,76.1 122.2,79.9 123.2,85.9 123.2,81.5 124.2,87.8 124.2,92.5 125.2,101.9 125.2,94.5 126.2,100 126.2,107.7 127.2,109.9 127.2,105.5 128.2,108.5 128.2,115.4 129.2,119.1 129.2,113.9 130.2,121.6 130.2,123.5 131.2,130.4 131.2,124.5 132.2,129.7 132.2,133.7 133.2,139.6 134.2,138.1 134.2,143.3 135.2,147.1 135.2,141.9 136.2,145.8 136.2,150 137.2,153.3 137.2,151.9 138.2,151.8 138.2,156.8 139.2,159.6 139.2,154.7 140.2,160.1 140.2,164.2 141.2,166.8 141.2,160.4 142.2,163 142.2,169 143.2,171.4 143.2,162.8 144.2,168.6 144.2,170.1 145.2,176.6 145.2,170.4 146.2,172.4 146.2,179.2 147.2,187.2 147.2,175.3 148.2,179.8 149.2,184.7 149.2,175.9 150.2,188.9 151.2,188.5 151.2,180.7 152.2,185.8 152.2,188.8 153.2,208.9 153.2,187.4 154.2,192.5 154.2,206.5 155.2,209.3 155.2,188.2 156.2,190 156.2,202.9 157.2,205.2 157.2,192.8 158.2,194.7 158.2,210.2 159.2,212.6 159.2,198.2 160.2,200 160.2,208.2 161.2,214.6 161.2,213.3 162.2,202.5 162.2,215.6 163.2,219.8 163.2,201.6 164.2,206.5 164.2,220.3 165.2,221.9 165.2,209.1 166.2,209.7 166.2,223.8 167.2,231.8 167.2,211 168.2,195.6 168.2,238.4 169.2,240.5 169.2,196.5 170.2,209.7 170.2,239.8 171.2,260.7 171.2,215.8 172.2,217 172.2,263 173.2,237.1 173.2,211.7 174.2,212.8 174.2,213.9 175.2,240.6 175.2,211.1 176.2,224.3 176.2,244.1 177.2,245.8 177.2,228 178.2,224.2 178.2,251.4 179.2,253.2 179.2,221.3 180.2,227.2 180.2,256.2 181.2,249.6 181.2,228.3 182.2,250.7 182.2,273.4 183.2,275 183.2,227.3 184.2,226.4 184.2,301 185.2,300.9 185.2,227.3 186.2,243.6 186.2,263.9 187.2,259.6 187.2,228.3 188.2,250.6 188.2,255.2 189.2,259.6 189.2,232.9 190.2,235.6 190.2,271.1 191.2,272.3 191.2,236.5 192.2,233.9 192.2,262.6 193.2,263.4 193.2,232.1 194.2,245.2 194.2,266.9 195.2,271.6 195.2,236.4 196.2,238.7 196.2,268.5 197.2,271.6 197.2,219.3 198.2,237.7 198.2,273.4 199.2,274.9 199.2,273.2 200.2,243.7 200.2,275.9 201.2,275.7 201.2,253.2 202.2,242.5 202.2,325.4 203.2,335.2 203.2,252.3 204.2,239.7 204.2,288 205.2,289 205.2,240.3 206.2,249.2 206.2,292.7 207.2,293.6 207.2,239.1 208.2,239.7 208.2,266.8 209.2,277.6 209.2,218.5 210.2,216.8 210.2,262.8 211.2,305.8 211.2,249.4 212.2,250 212.2,285.3 213.2,268 213.2,252.6 214.2,253.2 214.2,280.6 215.2,281 215.2,254.1 216.2,254.8 216.2,282.8 217.2,283.6 217.2,241.4 218.2,249 218.2,283.2 219.2,285 219.2,249.5 220.2,254 220.2,285.5 221.2,286.3 221.2,254.6 222.2,253.1 222.2,287 223.2,324.2 223.2,257.7 224.2,256.5 224.2,293.4 225.2,293.9 225.2,259.4 226.2,265.8 226.2,289 227.2,289.7 227.2,244.1 228.2,263.1 228.2,317.3 229.2,318.1 229.2,261 230.2,263.9 230.2,294.5 231.2,293.3 231.2,260.6 232.2,260.4 232.2,285.1 233.2,298.9 233.2,242 234.2,265 234.2,295.7 235.2,296.4 235.2,265.6 236.2,257.2 236.2,295.6 237.2,297.7 237.2,257.7 238.2,263.6 238.2,339.4 239.2,331.1 239.2,272.5 240.2,226.3 240.2,313.4 241.2,310.3 241.2,264.3 242.2,259.6 242.2,298.3 243.2,302.3 243.2,269.1 244.2,269.7 244.2,303 245.2,296.5 245.2,265.2 246.2,263 246.2,344.9 247.2,323.6 247.2,263.5 248.2,285.2 248.2,324.3 249.2,281.9 249.2,274.6 250.2,269.2 250.2,310.2 251.2,271.3 251.2,267.6 252.2,275.2 252.2,331.1 253.2,308.4 253.2,276.3 254.2,274.6 254.2,309.4 255.2,308.8 255.2,263.3 256.2,263.9 256.2,310.7 257.2,315.4 257.2,279 258.2,270.3 258.2,312.8 259.2,316.1 259.2,270.8 260.2,272.5 260.2,316.8 261.2,322.4 261.2,279.2 262.2,280.4 262.2,319.5 263.2,320.1 263.2,290.6 264.2,282.3 264.2,326.8 265.2,327.4 265.2,278.8 266.2,279.3 266.2,330.7 267.2,332.7 267.2,274.3 268.2,268.1 268.2,322 269.2,344.6 269.2,273.3 270.2,282.6 270.2,345.2 271.2,336.9 271.2,285 272.2,276.1 272.2,312.5 273.2,312.6 273.2,276.6 274.2,298.5 274.2,328.2 275.2,320.6 275.2,285.4 276.2,294.7 276.2,322.1 277.2,322.7 277.2,283.5 278.2,289.1 278.2,326.8 279.2,327.4 279.2,277.4 280.2,276.9 280.2,321.2 281.2,325.9 281.2,295.3 282.2,286.5 282.2,326.4 283.2,332.7 283.2,289.5 284.2,278.4 284.2,334.3 285.2,331.6 285.2,287 286.2,295 286.2,333.5 287.2,320.4 287.2,292.6 288.2,292.8 288.2,360.6 289.2,336.1 289.2,288 290.2,287.2 290.2,344.4 291.2,345 291.2,336.9 292.2,292.3 292.2,334.7 293.2,335.2 293.2,299.7 294.2,295.1 294.2,342.2 295.2,360.9 295.2,289.8 296.2,295.4 296.2,366.2 297.2,352.9 297.2,295.7 298.2,287.5 298.2,353.4 299.2,341.5 299.2,287.8 300.2,296.2 300.2,358.9 301.2,352 301.2,296.5 302.2,295.7 302.2,362.2 303.2,362.7 303.2,296 304.2,295.4 304.2,338.8 305.2,336.6 305.2,292.2 306.2,298.3 306.2,306.4 307.2,347.6 307.2,300.1 308.2,300.2 308.2,346.8 309.2,367.5 309.2,344.6 310.2,295.6 310.2,346.5 311.2,315 311.2,289.4 312.2,300.4 312.2,355.8 313.2,356.2 313.2,307.5 314.2,279.8 314.2,353 315.2,356.8 315.2,280.1 316.2,331.8 317.2,348.4 317.2,309 318.2,299.1 318.2,394.6 319.2,396.4 319.2,309.7 320.2,307 320.2,344.7 321.2,352.7 321.2,299 322.2,299.2 322.2,349.8 323.2,350.3 323.2,295 324.2,295.2 324.2,349.3 325.2,364.9 325.2,292.8 326.2,305.3 326.2,372.9 327.2,350.4 327.2,312.2 328.2,300.5 328.2,373.1 329.2,373.5 329.2,312.9 330.2,304.6 330.2,367.2 331.2,353.3 331.2,302.4 332.2,298.6 332.2,354.4 333.2,359.8 333.2,298.8 334.2,306.1 334.2,353.5 335.2,358.8 335.2,324.5 336.2,309.9 336.2,356.7 337.2,350.6 337.2,304.5 338.2,301.8 338.2,356.4 339.2,363 339.2,307.5 340.2,307.7 340.2,407.5 341.2,368.4 341.2,304.5 342.2,289.4 342.2,385 343.2,388.6 343.2,289.6 344.2,307.9 344.2,356.9 345.2,422.1 345.2,311.6 346.2,306.9 346.2,416.3 347.2,368.2 347.2,306.4 348.2,289.2 348.2,358.2 349.2,365 349.2,307.7 350.2,308.1 350.2,365.4 351.2,386.2 351.2,312.9 352.2,306.7 352.2,387.6 353.2,371.4 353.2,317 354.2,307.1 354.2,361.7 355.2,362.4 355.2,308.9 356.2,324.5 356.2,362.8 357.2,384.6 357.2,310.3 358.2,310.5 358.2,368.2 359.2,366 359.2,332.9 360.2,322.3 360.2,385.3 361.2,404.5 361.2,312.8 362.2,313 362.2,372.7 363.2,373.1 363.2,310 364.2,303 364.2,371.7 365.2,372.1 365.2,312.6 366.2,315.1 366.2,374.5 367.2,372 367.2,310.4 368.2,312.8 368.2,372.3 369.2,382 369.2,313 370.2,299 370.2,374.8 371.2,375.1 371.2,299.2 372.2,310.5 372.2,373 373.2,373.3 373.2,309.2 374.2,309.4 374.2,377.4 375.2,372.4 375.2,309.8 376.2,310 376.2,404.8 377.2,368.8 377.2,315.5 378.2,334.4 378.2,373.4 379.2,394.6 379.2,315.4 380.2,296.1 380.2,377.6 381.2,374.1 381.2,310.5 382.2,310.7 382.2,375.2 383.2,360.4 383.2,308.8 384.2,309 384.2,374 385.2,403.5 385.2,314.8 386.2,315 386.2,390 387.2,371.9 387.2,317.1 388.2,306.4 388.2,372.2 389.2,406.8 389.2,306.6 390.2,315.7 390.2,379.7 391.2,378.2 391.2,324.1 392.2,313.6 392.2,413.3 393.2,408.2 393.2,313.8 394.2,328.1 394.2,381.5 395.2,380 395.2,311.1 396.2,311.3 396.2,374.2 397.2,379.9 397.2,312.9 398.2,321.8 398.2,392.8 399.2,377 399.2,316.2 400.2,317.5 400.2,381.4 401.2,394.8 401.2,316.6 402.2,325.2 402.2,377.7 403.2,378 403.2,320.4 404.2,319.7 404.2,380.4 405.2,380 405.2,320 406.2,321 406.2,386.6 407.2,386.9 407.2,338.9 408.2,309.2 408.2,375 409.2,362.8 409.2,315.7 410.2,312.1 410.2,379.1 411.2,379.3 411.2,323.1 412.2,343.1 412.2,376.9 413.2,385.7 413.2,320.7 414.2,321 414.2,386.4 415.2,386.7 415.2,309.8 416.2,321.7 416.2,386.6 417.2,388.7 417.2,322 418.2,315 418.2,389 419.2,385.8 419.2,327.2 420.2,308.4 420.2,385.9 421.2,388.5 421.2,321.8 422.2,324.1 422.2,383 423.2,384.3 423.2,335.8 424.2,317.2 424.2,435.7 425.2,387 425.2,322.5 426.2,326 426.2,387.3 427.2,391.4 427.2,326.3 428.2,337 428.2,449.4 429.2,426.6 429.2,319.4 430.2,319.7 430.2,385.3 431.2,384 431.2,329.5 432.2,307.3 432.2,391.6 433.2,391.3 433.2,330.3 434.2,329.1 434.2,388.8 435.2,384.7 435.2,329.4 436.2,327.1 436.2,387 437.2,359.6 437.2,330.7 438.2,324.5 438.2,440.8 439.2,441.1 439.2,330.2 440.2,325 440.2,394.6 441.2,394.9 441.2,325.6 442.2,290.2 442.2,449.4 443.2,449.4 443.2,321.3 444.2,336.2 444.2,418.1 445.2,418.3 445.2,328.8 446.2,329.6 446.2,395.5 447.2,395.9 447.2,323.2 448.2,332.3 448.2,400.4 449.2,400.6 449.2,332.5 450.2,332.4 450.2,420.3 451.2,411.8 451.2,332.6 452.2,333.2 452.2,393.6 453.2,396.5 453.2,333.3 454.2,332 454.2,396.6 455.2,388.3 455.2,331.4 456.2,334.5 456.2,394.1 457.2,394.3 457.2,334.7 458.2,304.5 458.2,413.5 459.2,392.1 459.2,333.9 460.2,329.1 460.2,396.4 461.2,397 461.2,326.3 462.2,326.4 462.2,383.4 463.2,435.9 463.2,334.2 464.2,381.2 464.2,442.4 465.2,442.5 465.2,335.5 466.2,335.7 466.2,405.3 467.2,407.4 467.2,332.2 468.2,350.4 468.2,407.6 469.2,392.9 469.2,329.3 470.2,333.2 470.2,419.8 471.2,420 471.2,346.7 472.2,355 472.2,399.8 473.2,388.3 473.2,346 474.2,344.4 474.2,449.4 475.2,449.4 475.2,334.2 476.2,332 476.2,395.9 477.2,395.9 477.2,332.1 478.2,331.9 478.2,400 479.2,416.6 479.2,335.8 480.2,335.9 480.2,400.2 481.2,400.3 481.2,355.1 482.2,335.5 482.2,449.4 483.2,403.2 483.2,332.7 484.2,335.4 484.2,397.4 485.2,399.3 485.2,369.7 486.2,337.1 486.2,415.3 487.2,394.8 487.2,333.9 488.2,334.3 488.2,395 489.2,449.4 489.2,340 490.2,334 490.2,401.1 491.2,399.9 491.2,336.3 492.2,349.8 492.2,407.2 493.2,407.5 493.2,337.1 494.2,337.2 494.2,403.8 495.2,391.9 495.2,337.8 496.2,337.9 496.2,418.3 497.2,380.9 497.2,336 498.2,338.9 498.2,397.1 499.2,397.3 499.2,336.2 500.2,336 500.2,400.5 501.2,400.7 501.2,326.7 502.2,326.8 502.2,402.1 503.2,404.2 503.2,357.9 504.2,337 504.2,398.7 505.2,398.8 505.2,338.5 506.2,338.6 506.2,381.9 507.2,403.9 507.2,338.3 508.2,338.4 508.2,397.7 509.2,402.5 509.2,335.4 510.2,340.3 510.2,401.1 511.2,392.2 511.2,340.4 512.2,347.9 512.2,400.7 513.2,449.4 513.2,344 514.2,337.3 514.2,449.4 515.2,391.5 515.2,338 516.2,338.1 516.2,404.9 517.2,434.8 517.2,337.3 518.2,337.6 518.2,417.9 519.2,407.2 519.2,341.8 520.2,333.8 520.2,399.1 521.2,398.9 521.2,334.4 522.2,339.9 522.2,399 523.2,409.9 523.2,336.1 524.2,334.9 524.2,374.1 525.2,407.4 525.2,337.1 526.2,334.9 526.2,407.5 527.2,399.1 527.2,342.3 528.2,335.9 528.2,399.2 529.2,415.4 529.2,336 530.2,330.4 530.2,415.6 531.2,434.3 531.2,330.5 532.2,326.9 532.2,423.5 533.2,423.6 533.2,327 534.2,340.2 534.2,415.4 535.2,415.5 535.2,344.7 536.2,342.4 536.2,410.2 537.2,410.3 537.2,349.8 538.2,343.1 538.2,413.5 539.2,392 539.2,344.1 540.2,343.5 540.2,431.8 541.2,406.4 541.2,343.6 542.2,343.1 542.2,402.3 543.2,355 543.2,340.9 544.2,328.2 544.2,400.9 545.2,401.1 545.2,343.6 546.2,335.8 546.2,408.6 547.2,403 547.2,333.5 548.2,325.4 548.2,429.1 549.2,420.5 549.2,325.5 550.2,332.3 550.2,404.6 551.2,404.7 551.2,357.7 552.2,295.7 552.2,449.4 553.2,449.4 553.2,381.7 554.2,331 554.2,407 555.2,415.1 555.2,351.5 556.2,341.4 556.2,405.1 557.2,405.2 557.2,341.5 558.2,345 558.2,409.7 559.2,403.5 559.2,343.5 560.2,344.1 560.2,415.9 561.2,405.5 561.2,337.6 562.2,337.7 562.2,406.9 563.2,403.3 563.2,362.7 564.2,335.7 564.2,403.4 565.2,403.1 565.2,335.7 566.2,329.8 566.2,409.1 567.2,387.4 567.2,326.8 568.2,342.8 568.2,449.4 569.2,407.3 569.2,330.7 570.2,340.6 570.2,407.5 571.2,405.9 571.2,347.4 572.2,341.6 572.2,408.1 573.2,422.2 573.2,345.1 574.2,345.2 574.2,422.3 575.2,405.3 575.2,338.2 576.2,338.3 576.2,404.8 577.2,402.5 577.2,342.5 578.2,342.6 578.2,427 579.2,384.4 579.2,330.1 580.2,393.1 580.2,402.5 581.2,406.7 581.2,347.1 582.2,345.4 582.2,421.3 583.2,411 583.2,347.9 584.2,330.7 584.2,411.1 585.2,405.6 585.2,346.9 586.2,345.2 586.2,433.3 587.2,434.8 587.2,348.5 588.2,336.9 588.2,406.3 589.2,411.5 589.2,344.1 590.2,345.3 590.2,411.6 591.2,412.5 591.2,353.2 592.2,359.5 592.2,416.8 593.2,409 593.2,341.8 594.2,341.9 594.2,397.3 595.2,400.7 595.2,334.3 596.2,334.4 596.2,449.4 597.2,415.2 597.2,380.8 598.2,348.7 598.2,409.2 599.2,410.9 599.2,363.7 600.2,353 600.2,403 601.2,413.6 601.2,346 602.2,346.1 602.2,412.3 603.2,375.4 603.2,364.1 604.2,348.5 604.2,411.6 605.2,417.4 605.2,344.7 606.2,344.8 606.2,412.2 607.2,408.6 607.2,351.9 608.2,341.7 608.2,411.5 609.2,402.8 609.2,347.2 610.2,348.1 610.2,411.3 611.2,415 611.2,348.2 612.2,340.1 612.2,408.6 613.2,359.5 613.2,339.5 614.2,349.9 614.2,418.3 615.2,416.9 615.2,355.1 616.2,351.7 616.2,421.3 617.2,419.9 617.2,344.2 618.2,346.4 618.2,382.2 619.2,409.8 619.2,346.7 620.2,346.8 620.2,415.2 621.2,415.3 621.2,349.9 622.2,351.4 622.2,419.8" fill="none" stroke="#e0dc34" stroke-width="1.6" stroke-linejoin="bevel"/>
</g>
<rect x="117.6" y="38.9" width="505.4" height="406.5" fill="none" stroke="#000" stroke-width="2"/>
<line x1="121.00" y1="445.40" x2="121.00" y2="44.00" stroke="#58a8a8" stroke-width="1.3" stroke-linecap="butt"/>
<line x1="119.30" y1="445.40" x2="119.30" y2="42.50" stroke="#e0dc34" stroke-width="1.7" stroke-linecap="butt"/>
<text x="118.2" y="476.0" font-size="29.2" text-anchor="middle">0</text>
<text x="219.1" y="476.0" font-size="29.2" text-anchor="middle">400</text>
<text x="320.0" y="476.0" font-size="29.2" text-anchor="middle">800</text>
<text x="421.0" y="476.0" font-size="29.2" text-anchor="middle">1200</text>
<rect x="389.70" y="472.71" width="5.96" height="4.19" fill="#fff"/>
<rect x="398.56" y="472.71" width="5.73" height="4.19" fill="#fff"/>
<text x="521.9" y="476.0" font-size="29.2" text-anchor="middle">1600</text>
<rect x="490.62" y="472.71" width="5.96" height="4.19" fill="#fff"/>
<rect x="499.48" y="472.71" width="5.73" height="4.19" fill="#fff"/>
<text x="622.8" y="476.0" font-size="29.2" text-anchor="middle">2000</text>
<text x="370.5" y="521.0" font-size="29.2" text-anchor="middle">Time (ns)</text>
<text x="84.0" y="225.0" font-size="29.2" text-anchor="middle" transform="rotate(-90 84.0 225.0)">Normalized intensity (a.u.)</text>
<line x1="512.20" y1="56.00" x2="561.20" y2="56.00" stroke="#3c9c3c" stroke-width="1.6" stroke-linecap="butt"/>
<text x="566.5" y="63.4" font-size="21">-4</text>
<circle cx="596.3" cy="49.6" r="1.75" fill="none" stroke="#000" stroke-width="1.0"/>
<path d="M607.46,51.82 A5.6,6.7 0 1 0 607.46,60.78" fill="none" stroke="#000" stroke-width="1.35"/>
<line x1="512.20" y1="82.00" x2="561.20" y2="82.00" stroke="#80bd2a" stroke-width="1.6" stroke-linecap="butt"/>
<text x="566.5" y="89.4" font-size="21">0</text>
<circle cx="589.3" cy="75.6" r="1.75" fill="none" stroke="#000" stroke-width="1.0"/>
<path d="M600.46,77.82 A5.6,6.7 0 1 0 600.46,86.78" fill="none" stroke="#000" stroke-width="1.35"/>
<line x1="512.20" y1="108.00" x2="561.20" y2="108.00" stroke="#5283d8" stroke-width="1.6" stroke-linecap="butt"/>
<text x="566.5" y="115.4" font-size="21">4</text>
<circle cx="589.3" cy="101.6" r="1.75" fill="none" stroke="#000" stroke-width="1.0"/>
<path d="M600.46,103.82 A5.6,6.7 0 1 0 600.46,112.78" fill="none" stroke="#000" stroke-width="1.35"/>
<line x1="512.20" y1="134.00" x2="561.20" y2="134.00" stroke="#4aaac4" stroke-width="1.6" stroke-linecap="butt"/>
<text x="566.5" y="141.4" font-size="21">10</text>
<rect x="567.10" y="138.73" width="4.52" height="3.58" fill="#fff"/>
<rect x="573.79" y="138.73" width="4.36" height="3.58" fill="#fff"/>
<circle cx="601.0" cy="127.6" r="1.75" fill="none" stroke="#000" stroke-width="1.0"/>
<path d="M612.16,129.82 A5.6,6.7 0 1 0 612.16,138.78" fill="none" stroke="#000" stroke-width="1.35"/>
<line x1="512.20" y1="160.00" x2="561.20" y2="160.00" stroke="#c4c4c8" stroke-width="1.6" stroke-linecap="butt"/>
<text x="566.5" y="167.4" font-size="21">15</text>
<rect x="567.10" y="164.73" width="4.52" height="3.58" fill="#fff"/>
<rect x="573.79" y="164.73" width="4.36" height="3.58" fill="#fff"/>
<circle cx="601.0" cy="153.6" r="1.75" fill="none" stroke="#000" stroke-width="1.0"/>
<path d="M612.16,155.82 A5.6,6.7 0 1 0 612.16,164.78" fill="none" stroke="#000" stroke-width="1.35"/>
<line x1="512.20" y1="186.00" x2="561.20" y2="186.00" stroke="#e0dc34" stroke-width="1.6" stroke-linecap="butt"/>
<text x="566.5" y="193.4" font-size="21">20</text>
<circle cx="601.0" cy="179.6" r="1.75" fill="none" stroke="#000" stroke-width="1.0"/>
<path d="M612.16,181.82 A5.6,6.7 0 1 0 612.16,190.78" fill="none" stroke="#000" stroke-width="1.35"/>
<clipPath id="cB"><rect x="806.5" y="39.3" width="504.79999999999995" height="406.09999999999997"/></clipPath>
<line x1="891.03" y1="445.40" x2="891.03" y2="441.40" stroke="#000" stroke-width="1.8" stroke-linecap="butt"/>
<line x1="975.07" y1="445.40" x2="975.07" y2="438.40" stroke="#000" stroke-width="1.8" stroke-linecap="butt"/>
<line x1="1059.10" y1="445.40" x2="1059.10" y2="441.40" stroke="#000" stroke-width="1.8" stroke-linecap="butt"/>
<line x1="1143.13" y1="445.40" x2="1143.13" y2="438.40" stroke="#000" stroke-width="1.8" stroke-linecap="butt"/>
<line x1="1227.17" y1="445.40" x2="1227.17" y2="441.40" stroke="#000" stroke-width="1.8" stroke-linecap="butt"/>
<line x1="1311.20" y1="445.40" x2="1311.20" y2="438.40" stroke="#000" stroke-width="1.8" stroke-linecap="butt"/>
<text x="807.0" y="476.0" font-size="29.2" text-anchor="middle">0</text>
<text x="975.1" y="476.0" font-size="29.2" text-anchor="middle">1000</text>
<rect x="943.81" y="472.71" width="5.96" height="4.19" fill="#fff"/>
<rect x="952.67" y="472.71" width="5.73" height="4.19" fill="#fff"/>
<text x="1143.1" y="476.0" font-size="29.2" text-anchor="middle">2000</text>
<text x="1311.2" y="476.0" font-size="29.2" text-anchor="middle">3000</text>
<text x="797.6" y="454.8" font-size="29.2" text-anchor="end">10<tspan dx="-1.2" dy="-12" font-size="20.3">0</tspan></text>
<rect x="756.25" y="451.51" width="5.96" height="4.19" fill="#fff"/>
<rect x="765.11" y="451.51" width="5.73" height="4.19" fill="#fff"/>
<line x1="806.50" y1="414.06" x2="810.30" y2="414.06" stroke="#000" stroke-width="2" stroke-linecap="butt"/>
<line x1="806.50" y1="396.25" x2="810.30" y2="396.25" stroke="#000" stroke-width="2" stroke-linecap="butt"/>
<line x1="806.50" y1="383.62" x2="810.30" y2="383.62" stroke="#000" stroke-width="2" stroke-linecap="butt"/>
<line x1="806.50" y1="373.82" x2="810.30" y2="373.82" stroke="#000" stroke-width="2" stroke-linecap="butt"/>
<line x1="806.50" y1="365.81" x2="810.30" y2="365.81" stroke="#000" stroke-width="2" stroke-linecap="butt"/>
<line x1="806.50" y1="359.04" x2="810.30" y2="359.04" stroke="#000" stroke-width="2" stroke-linecap="butt"/>
<line x1="806.50" y1="353.18" x2="810.30" y2="353.18" stroke="#000" stroke-width="2" stroke-linecap="butt"/>
<line x1="806.50" y1="348.00" x2="810.30" y2="348.00" stroke="#000" stroke-width="2" stroke-linecap="butt"/>
<line x1="806.50" y1="343.38" x2="814.00" y2="343.38" stroke="#000" stroke-width="2" stroke-linecap="butt"/>
<text x="797.6" y="353.7" font-size="29.2" text-anchor="end">10<tspan dx="-1.2" dy="-12" font-size="20.3">1</tspan></text>
<rect x="756.25" y="350.38" width="5.96" height="4.19" fill="#fff"/>
<rect x="765.11" y="350.38" width="5.73" height="4.19" fill="#fff"/>
<rect x="786.85" y="339.05" width="4.40" height="3.52" fill="#fff"/>
<rect x="793.36" y="339.05" width="4.24" height="3.52" fill="#fff"/>
<line x1="806.50" y1="312.93" x2="810.30" y2="312.93" stroke="#000" stroke-width="2" stroke-linecap="butt"/>
<line x1="806.50" y1="295.13" x2="810.30" y2="295.13" stroke="#000" stroke-width="2" stroke-linecap="butt"/>
<line x1="806.50" y1="282.49" x2="810.30" y2="282.49" stroke="#000" stroke-width="2" stroke-linecap="butt"/>
<line x1="806.50" y1="272.69" x2="810.30" y2="272.69" stroke="#000" stroke-width="2" stroke-linecap="butt"/>
<line x1="806.50" y1="264.68" x2="810.30" y2="264.68" stroke="#000" stroke-width="2" stroke-linecap="butt"/>
<line x1="806.50" y1="257.91" x2="810.30" y2="257.91" stroke="#000" stroke-width="2" stroke-linecap="butt"/>
<line x1="806.50" y1="252.05" x2="810.30" y2="252.05" stroke="#000" stroke-width="2" stroke-linecap="butt"/>
<line x1="806.50" y1="246.88" x2="810.30" y2="246.88" stroke="#000" stroke-width="2" stroke-linecap="butt"/>
<line x1="806.50" y1="242.25" x2="814.00" y2="242.25" stroke="#000" stroke-width="2" stroke-linecap="butt"/>
<text x="797.6" y="252.6" font-size="29.2" text-anchor="end">10<tspan dx="-1.2" dy="-12" font-size="20.3">2</tspan></text>
<rect x="756.25" y="249.26" width="5.96" height="4.19" fill="#fff"/>
<rect x="765.11" y="249.26" width="5.73" height="4.19" fill="#fff"/>
<line x1="806.50" y1="211.81" x2="810.30" y2="211.81" stroke="#000" stroke-width="2" stroke-linecap="butt"/>
<line x1="806.50" y1="194.00" x2="810.30" y2="194.00" stroke="#000" stroke-width="2" stroke-linecap="butt"/>
<line x1="806.50" y1="181.37" x2="810.30" y2="181.37" stroke="#000" stroke-width="2" stroke-linecap="butt"/>
<line x1="806.50" y1="171.57" x2="810.30" y2="171.57" stroke="#000" stroke-width="2" stroke-linecap="butt"/>
<line x1="806.50" y1="163.56" x2="810.30" y2="163.56" stroke="#000" stroke-width="2" stroke-linecap="butt"/>
<line x1="806.50" y1="156.79" x2="810.30" y2="156.79" stroke="#000" stroke-width="2" stroke-linecap="butt"/>
<line x1="806.50" y1="150.93" x2="810.30" y2="150.93" stroke="#000" stroke-width="2" stroke-linecap="butt"/>
<line x1="806.50" y1="145.75" x2="810.30" y2="145.75" stroke="#000" stroke-width="2" stroke-linecap="butt"/>
<line x1="806.50" y1="141.12" x2="814.00" y2="141.12" stroke="#000" stroke-width="2" stroke-linecap="butt"/>
<text x="797.6" y="151.4" font-size="29.2" text-anchor="end">10<tspan dx="-1.2" dy="-12" font-size="20.3">3</tspan></text>
<rect x="756.25" y="148.14" width="5.96" height="4.19" fill="#fff"/>
<rect x="765.11" y="148.14" width="5.73" height="4.19" fill="#fff"/>
<line x1="806.50" y1="110.68" x2="810.30" y2="110.68" stroke="#000" stroke-width="2" stroke-linecap="butt"/>
<line x1="806.50" y1="92.88" x2="810.30" y2="92.88" stroke="#000" stroke-width="2" stroke-linecap="butt"/>
<line x1="806.50" y1="80.24" x2="810.30" y2="80.24" stroke="#000" stroke-width="2" stroke-linecap="butt"/>
<line x1="806.50" y1="70.44" x2="810.30" y2="70.44" stroke="#000" stroke-width="2" stroke-linecap="butt"/>
<line x1="806.50" y1="62.43" x2="810.30" y2="62.43" stroke="#000" stroke-width="2" stroke-linecap="butt"/>
<line x1="806.50" y1="55.66" x2="810.30" y2="55.66" stroke="#000" stroke-width="2" stroke-linecap="butt"/>
<line x1="806.50" y1="49.80" x2="810.30" y2="49.80" stroke="#000" stroke-width="2" stroke-linecap="butt"/>
<line x1="806.50" y1="44.63" x2="810.30" y2="44.63" stroke="#000" stroke-width="2" stroke-linecap="butt"/>
<text x="797.6" y="50.3" font-size="29.2" text-anchor="end">10<tspan dx="-1.2" dy="-12" font-size="20.3">4</tspan></text>
<rect x="756.25" y="47.01" width="5.96" height="4.19" fill="#fff"/>
<rect x="765.11" y="47.01" width="5.73" height="4.19" fill="#fff"/>
<text x="729.5" y="230.5" font-size="29.2" text-anchor="middle" transform="rotate(-90 729.5 230.5)">Intensity (Counts)</text>
<text x="815.8" y="70.3" font-size="29.0">Ci-PeNC (0 ºC)</text>
<line x1="1072.80" y1="60.90" x2="1125.50" y2="60.90" stroke="#484848" stroke-width="2.5" stroke-linecap="round"/>
<text x="1131.6" y="69.0" font-size="24.0">0.0068 mW/cm<tspan dy="-9.4" font-size="16.3">2</tspan></text>
<line x1="1072.80" y1="93.20" x2="1125.50" y2="93.20" stroke="#eb3838" stroke-width="2.5" stroke-linecap="round"/>
<text x="1131.6" y="101.3" font-size="24.0">0.0483 mW/cm<tspan dy="-9.4" font-size="16.3">2</tspan></text>
<line x1="1072.80" y1="125.30" x2="1125.50" y2="125.30" stroke="#50af5a" stroke-width="2.5" stroke-linecap="round"/>
<text x="1131.6" y="133.4" font-size="24.0">0.0938 mW/cm<tspan dy="-9.4" font-size="16.3">2</tspan></text>
<line x1="1072.80" y1="157.40" x2="1125.50" y2="157.40" stroke="#427ce8" stroke-width="2.5" stroke-linecap="round"/>
<text x="1131.6" y="165.5" font-size="24.0">0.1267 mW/cm<tspan dy="-9.4" font-size="16.3">2</tspan></text>
<rect x="1152.44" y="162.60" width="5.05" height="3.80" fill="#fff"/>
<rect x="1159.93" y="162.60" width="4.86" height="3.80" fill="#fff"/>
<g clip-path="url(#cB)">
<path d="M807,449.4 807,68.1 807.2,72.8 807.2,77 807.5,81.4 807.5,77.1 807.8,81 807.8,85.2 808,88.8 808,84.6 808.2,87.9 808.2,92 808.5,96.7 808.5,92.5 808.8,97.8 808.8,101.9 809,106.9 809,102.8 809.2,106.9 809.2,111.2 809.5,114.8 809.5,110.6 809.8,114 809.8,118.2 810,121.5 810,117.2 811,127.9 811,132.1 812,140.1 812,136 813,142.5 813,146.9 814,153.2 814,148.4 815,153.6 815,158.9 816,164.2 816,157.7 817,162.5 817,169.4 818,173.8 818,166.3 819,169.6 819,178.1 820,181.6 820,172.6 821,176 821,185.5 822,190.5 822,179 823,182 823,194.3 824,197.7 824,184.6 825,187.5 825,201.6 826,206.4 826,190.3 827,193 827,210.2 828,213.8 828,195.5 829,198.4 829,216 830,219 830,200.7 831,197.4 831,221.9 832,226.7 832,204.8 833,207.2 833,229.5 834,229.9 834,208.7 835,210.8 835,232.6 836,235.4 836,213.3 837,215.3 837,238.7 838,241.4 838,217.1 839,218.8 839,243.9 840,246.6 840,220.6 841,222.5 841,249.8 842,252.6 842,219.9 843,226.7 843,255.5 844,257.9 844,228.7 845,231 845,261.3 846,265.5 846,231 847,233.6 847,269.6 848,272 848,236.2 849,237.4 849,275.9 850,279.5 850,242.9 851,243.8 851,282.8 852,285 852,246.4 853,248.4 853,287.4 854,289.9 854,250.7 855,252.5 855,291.3 856,292.6 856,254.3 857,257.1 857,295.5 858,300.1 858,258.7 859,260.3 859,301.8 860,301.8 860,259.8 861,260.2 861,303.5 862,305.3 862,262.9 863,264.4 863,305.3 864,309.1 864,260.3 865,261.7 865,309.1 866,313.3 866,264.6 867,265.9 867,315.6 868,315.6 868,272.7 869,273.9 869,320.5 870,348.5 870,275.2 871,273.5 871,348.5 872,353.6 872,274.6 873,275.8 873,332.3 874,332.3 874,280.5 875,281.6 875,335.8 876,339.6 876,282.7 877,274.3 877,339.6 878,343.8 878,282.8 879,283.9 879,343.8 880,348.5 880,282.7 881,283.9 881,348.5 882,353.6 882,285 883,287.4 883,353.6 884,353.6 884,288.7 885,289.9 885,359.5 886,359.5 886,292.6 887,292.6 887,359.5 888,366.3 888,294 889,295.5 889,366.3 890,366.3 890,295.5 891,296.9 891,374.3 892,374.3 892,298.5 893,298.5 893,374.3 894,374.3 894,300.1 895,288.7 895,384.2 896,384.2 896,298.5 897,298.5 897,384.2 898,384.2 898,301.8 899,301.8 899,384.2 900,396.8 900,305.3 901,305.3 901,396.8 902,396.8 902,307.2 903,303.5 903,396.8 904,396.8 904,303.5 905,307.2 905,396.8 906,396.8 906,307.2 907,307.2 907,396.8 908,396.8 908,309.1 909,307.2 909,396.8 910,396.8 910,307.2 911,309.1 911,414.7 912,414.7 912,311.2 913,313.3 913,414.7 914,414.7 914,313.3 915,307.2 915,414.7 916,414.7 916,307.2 917,311.2 917,449.4 918,414.7 918,313.3 919,313.3 919,414.7 920,414.7 920,315.6 921,317.9 921,414.7 922,414.7 922,317.9 923,315.6 923,414.7 924,414.7 924,315.6 925,315.6 925,449.4 926,449.4 926,315.6 927,317.9 927,449.4 928,449.4 928,317.9 929,317.9 929,414.7 930,414.7 930,317.9 931,323.1 931,414.7 932,414.7 932,323.1 933,323.1 933,414.7 934,414.7 934,323.1 935,317.9 935,414.7 936,449.4 936,317.9 937,323.1 937,414.7 938,414.7 938,326 939,326 939,449.4 940,414.7 940,326 941,313.3 941,414.7 942,414.7 942,315.6 943,329 943,414.7 944,414.7 944,326 945,329 945,414.7 946,449.4 946,332.3 947,332.3 947,449.4 948,449.4 948,332.3 949,326 949,414.7 950,414.7 950,326 951,332.3 951,414.7 952,414.7 952,332.3 953,332.3 953,414.7 954,414.7 954,323.1 955,323.1 955,414.7 956,414.7 956,323.1 957,335.8 957,414.7 958,414.7 958,335.8 959,335.8 959,414.7 960,414.7 960,339.6 961,335.8 961,414.7 962,414.7 962,335.8 963,335.8 963,414.7 964,414.7 964,335.8 965,339.6 965,414.7 966,414.7 966,339.6 967,339.6 967,414.7 968,414.7 968,339.6 969,343.8 969,414.7 970,414.7 970,343.8 971,343.8 971,414.7 972,414.7 972,343.8 973,343.8 973,414.7 974,414.7 974,339.6 975,343.8 975,414.7 976,414.7 976,343.8 977,343.8 977,414.7 978,414.7 978,343.8 979,339.6 979,414.7 980,414.7 980,339.6 981,339.6 981,414.7 982,449.4 982,348.5 983,348.5 983,414.7 984,414.7 984,348.5 985,343.8 985,414.7 986,449.4 986,343.8 987,348.5 987,414.7 988,414.7 988,348.5 989,348.5 989,414.7 990,414.7 990,348.5 991,343.8 991,414.7 992,414.7 992,348.5 993,348.5 993,414.7 994,414.7 994,348.5 995,353.6 995,414.7 996,414.7 996,353.6 997,353.6 997,414.7 998,414.7 998,348.5 999,348.5 999,414.7 1000,414.7 1000,348.5 1001,348.5 1001,414.7 1002,414.7 1002,348.5 1003,353.6 1003,414.7 1004,449.4 1004,353.6 1005,353.6 1005,449.4 1006,414.7 1006,353.6 1007,353.6 1007,414.7 1008,414.7 1008,353.6 1009,335.8 1009,414.7 1010,414.7 1010,339.6 1011,339.6 1011,414.7 1012,414.7 1012,353.6 1013,353.6 1013,414.7 1014,414.7 1014,353.6 1015,353.6 1015,414.7 1016,414.7 1016,348.5 1017,348.5 1017,414.7 1018,414.7 1018,348.5 1019,348.5 1019,449.4 1020,449.4 1020,348.5 1021,348.5 1021,414.7 1022,414.7 1022,359.5 1023,359.5 1023,414.7 1024,414.7 1024,359.5 1025,359.5 1025,414.7 1026,414.7 1026,359.5 1027,359.5 1027,414.7 1028,414.7 1028,359.5 1029,359.5 1029,414.7 1030,414.7 1030,359.5 1031,359.5 1031,414.7 1032,414.7 1032,335.8 1033,359.5 1033,414.7 1034,414.7 1034,359.5 1035,359.5 1035,414.7 1036,449.4 1036,359.5 1037,359.5 1037,449.4 1038,414.7 1038,359.5 1039,359.5 1039,414.7 1040,449.4 1040,359.5 1041,359.5 1041,414.7 1042,414.7 1042,359.5 1043,359.5 1043,414.7 1044,449.4 1044,366.3 1045,366.3 1045,414.7 1046,414.7 1046,366.3 1047,353.6 1047,449.4 1048,449.4 1048,353.6 1049,353.6 1049,449.4 1050,414.7 1050,366.3 1051,359.5 1051,414.7 1052,414.7 1052,359.5 1053,359.5 1053,414.7 1054,414.7 1054,366.3 1055,366.3 1055,414.7 1056,449.4 1056,366.3 1057,366.3 1057,449.4 1058,449.4 1058,366.3 1059,366.3 1059,414.7 1060,414.7 1060,353.6 1061,366.3 1061,449.4 1062,449.4 1062,366.3 1063,366.3 1063,449.4 1064,414.7 1064,366.3 1065,366.3 1065,414.7 1066,414.7 1066,366.3 1067,366.3 1067,414.7 1068,414.7 1068,366.3 1069,366.3 1069,414.7 1070,414.7 1070,374.3 1071,374.3 1071,414.7 1072,414.7 1072,374.3 1073,366.3 1073,414.7 1074,414.7 1074,366.3 1075,366.3 1075,414.7 1076,449.4 1076,366.3 1077,366.3 1077,449.4 1078,449.4 1078,366.3 1079,366.3 1079,449.4 1080,414.7 1080,366.3 1081,366.3 1081,414.7 1082,414.7 1082,366.3 1083,374.3 1083,414.7 1084,414.7 1084,374.3 1085,374.3 1085,449.4 1086,449.4 1086,374.3 1087,374.3 1087,449.4 1088,449.4 1088,374.3 1089,374.3 1089,449.4 1090,414.7 1090,374.3 1091,374.3 1091,414.7 1092,414.7 1092,374.3 1093,374.3 1093,449.4 1094,449.4 1094,374.3 1095,374.3 1095,449.4 1096,449.4 1096,374.3 1097,374.3 1097,449.4 1098,449.4 1098,374.3 1099,374.3 1099,414.7 1100,414.7 1100,374.3 1101,374.3 1101,414.7 1102,449.4 1102,374.3 1103,374.3 1103,414.7 1104,414.7 1104,374.3 1105,366.3 1105,449.4 1106,449.4 1106,366.3 1107,374.3 1107,449.4 1108,414.7 1108,374.3 1109,374.3 1109,414.7 1110,414.7 1110,374.3 1111,374.3 1111,414.7 1112,414.7 1112,374.3 1113,374.3 1113,414.7 1114,414.7 1114,374.3 1115,374.3 1115,414.7 1116,414.7 1116,374.3 1117,374.3 1117,449.4 1118,449.4 1118,374.3 1119,374.3 1119,449.4 1120,449.4 1120,374.3 1121,374.3 1121,449.4 1122,414.7 1122,374.3 1123,384.2 1123,414.7 1124,414.7 1124,384.2 1125,384.2 1125,414.7 1126,414.7 1126,374.3 1127,374.3 1127,449.4 1128,449.4 1128,374.3 1129,384.2 1129,414.7 1130,414.7 1130,374.3 1131,374.3 1131,449.4 1132,449.4 1132,384.2 1133,374.3 1133,449.4 1134,414.7 1134,374.3 1135,374.3 1135,449.4 1136,449.4 1136,384.2 1137,384.2 1137,414.7 1138,449.4 1138,384.2 1139,384.2 1139,449.4 1140,414.7 1140,384.2 1141,384.2 1141,414.7 1142,414.7 1142,384.2 1143,384.2 1143,414.7 1144,414.7 1144,384.2 1145,384.2 1145,414.7 1146,449.4 1146,384.2 1147,384.2 1147,449.4 1148,414.7 1148,384.2 1149,384.2 1149,449.4 1150,414.7 1150,359.5 1151,359.5 1151,414.7 1152,414.7 1152,384.2 1153,384.2 1153,414.7 1154,414.7 1154,384.2 1155,384.2 1155,414.7 1156,449.4 1156,384.2 1157,384.2 1157,414.7 1158,414.7 1158,374.3 1159,384.2 1159,414.7 1160,414.7 1160,384.2 1161,374.3 1161,414.7 1162,414.7 1162,384.2 1163,384.2 1163,414.7 1164,414.7 1164,384.2 1165,384.2 1165,414.7 1166,414.7 1166,374.3 1167,374.3 1167,414.7 1168,414.7 1168,384.2 1169,384.2 1169,414.7 1170,414.7 1170,384.2 1171,374.3 1171,414.7 1172,414.7 1172,374.3 1173,374.3 1173,414.7 1174,414.7 1174,384.2 1175,384.2 1175,414.7 1176,414.7 1176,384.2 1177,384.2 1177,449.4 1178,449.4 1178,384.2 1179,384.2 1179,414.7 1180,414.7 1180,384.2 1181,384.2 1181,414.7 1182,449.4 1182,384.2 1183,384.2 1183,449.4 1184,414.7 1184,384.2 1185,384.2 1185,414.7 1186,414.7 1186,384.2 1187,384.2 1187,414.7 1188,414.7 1188,374.3 1189,374.3 1189,414.7 1190,414.7 1190,374.3 1191,374.3 1191,414.7 1192,414.7 1192,384.2 1193,384.2 1193,414.7 1194,414.7 1194,384.2 1195,384.2 1195,414.7 1196,414.7 1196,384.2 1197,384.2 1197,414.7 1198,414.7 1198,384.2 1199,384.2 1199,414.7 1200,414.7 1200,384.2 1201,366.3 1201,414.7 1202,414.7 1202,374.3 1203,374.3 1203,449.4 1204,449.4 1204,374.3 1205,384.2 1205,449.4 1206,414.7 1206,366.3 1207,366.3 1207,414.7 1208,414.7 1208,366.3 1209,384.2 1209,414.7 1210,414.7 1210,366.3 1211,366.3 1211,414.7 1212,414.7 1212,384.2 1213,384.2 1213,414.7 1214,414.7 1214,384.2 1215,384.2 1215,414.7 1216,414.7 1216,384.2 1217,384.2 1217,414.7 1218,414.7 1218,384.2 1219,384.2 1219,414.7 1220,414.7 1220,384.2 1221,384.2 1221,414.7 1222,414.7 1222,384.2 1223,374.3 1223,414.7 1224,414.7 1224,384.2 1225,384.2 1225,414.7 1226,414.7 1226,384.2 1227,384.2 1227,414.7 1228,414.7 1228,384.2 1229,384.2 1229,414.7 1230,414.7 1230,384.2 1231,384.2 1231,414.7 1232,414.7 1232,384.2 1233,384.2 1233,414.7 1234,449.4 1234,384.2 1235,384.2 1235,449.4 1236,414.7 1236,374.3 1237,384.2 1237,414.7 1238,414.7 1238,384.2 1239,384.2 1239,414.7 1240,414.7 1240,384.2 1241,384.2 1241,414.7 1242,449.4 1242,384.2 1243,384.2 1243,449.4 1244,449.4 1244,384.2 1245,384.2 1245,449.4 1246,449.4 1246,384.2 1247,384.2 1247,414.7 1248,414.7 1248,384.2 1249,384.2 1249,414.7 1250,414.7 1250,374.3 1251,374.3 1251,414.7 1252,414.7 1252,374.3 1253,384.2 1253,414.7 1254,414.7 1254,384.2 1255,384.2 1255,414.7 1256,414.7 1256,384.2 1257,384.2 1257,414.7 1258,414.7 1258,384.2 1259,384.2 1259,414.7 1260,414.7 1260,384.2 1261,384.2 1261,414.7 1262,414.7 1262,384.2 1263,384.2 1263,449.4 1264,449.4 1264,384.2 1265,384.2 1265,449.4 1266,449.4 1266,384.2 1267,384.2 1267,449.4 1268,414.7 1268,384.2 1269,384.2 1269,449.4 1270,449.4 1270,384.2 1271,384.2 1271,449.4 1272,414.7 1272,384.2 1273,384.2 1273,414.7 1274,414.7 1274,384.2 1275,384.2 1275,449.4 1276,449.4 1276,384.2 1277,384.2 1277,449.4 1278,414.7 1278,384.2 1279,384.2 1279,414.7 1280,449.4 1280,384.2 1281,384.2 1281,449.4 1282,414.7 1282,384.2 1283,384.2 1283,414.7 1284,414.7 1284,384.2 1285,384.2 1285,414.7 1286,414.7 1286,384.2 1287,384.2 1287,414.7 1288,414.7 1288,384.2 1289,384.2 1289,414.7 1290,414.7 1290,384.2 1291,384.2 1291,414.7 1292,449.4 1292,384.2 1293,384.2 1293,449.4 1294,414.7 1294,384.2 1295,384.2 1295,414.7 1296,414.7 1296,384.2 1297,384.2 1297,414.7 1298,414.7 1298,384.2 1299,384.2 1299,414.7 1300,414.7 1300,384.2 1301,384.2 1301,414.7 1302,414.7 1302,384.2 1303,384.2 1303,414.7 1304,414.7 1304,384.2 1305,384.2 1305,414.7 1306,414.7 1306,384.2 1307,384.2 1307,414.7 1308,414.7 1308,384.2 1309,384.2 1309,414.7 1310,414.7 1310,384.2 1311,384.2 1311,414.7" fill="none" stroke="#484848" stroke-width="1.5" stroke-linejoin="bevel"/>
<path d="M807,449.4 807,68.1 807.2,72.9 807.2,77.1 807.5,81.3 807.5,77 807.8,80.8 807.8,85.2 808,89 808,84.4 808.2,87.8 808.2,92.3 808.5,96.8 808.5,92.4 808.8,97.6 808.8,102 809,107 809,102.7 809.2,106.9 809.2,111.1 809.5,114.8 809.5,110.6 809.8,113.3 809.8,118.2 810,121.5 810,117.1 811,127.7 811,132.2 812,140.2 812,135.8 813,142.8 813,147 814,153.2 814,148.7 815,153.9 815,158.9 816,164.2 816,158.4 817,162.6 817,169.1 818,173.6 818,166.3 819,169.9 819,177.6 820,181.5 820,173.1 821,176 821,185.4 822,189.2 822,179.1 823,181.3 823,193.8 824,198 824,184.1 825,187.5 825,201.3 826,205.3 826,190.2 827,192.8 827,209 828,212.3 828,195.2 829,197.6 829,215.4 830,218.3 830,198.5 831,200.6 831,223 832,225.8 832,204.9 833,207.1 833,228.6 834,229.2 834,209.2 835,206.9 835,233.7 836,236.5 836,208.7 837,210.4 837,237.8 838,244.8 838,217.1 839,218.9 839,247.6 840,250.5 840,212 841,219 841,247.9 842,250.6 842,212.1 843,213.6 843,253.5 844,257 844,224.6 845,226.9 845,263.5 846,267.4 846,229.4 847,234.5 847,267.5 848,271.6 848,237.2 849,233.9 849,275.5 850,282.1 850,236.3 851,238.6 851,285 852,287.4 852,247.9 853,249.9 853,287.4 854,288.7 854,251.8 855,253.6 855,291.3 856,292.6 856,254.1 857,255.8 857,294 858,295.5 858,258.6 859,260.2 859,296.9 860,298.5 860,245.2 861,246.7 861,300.1 862,303.5 862,262.9 863,266.5 863,307.2 864,313.3 864,267.9 865,269.3 865,315.6 866,317.9 866,270.5 867,271.9 867,313.3 868,315.6 868,273.2 869,274.4 869,320.5 870,323.1 870,273.1 871,274.3 871,329 872,332.3 872,275.2 873,278.9 873,332.3 874,335.8 874,280 875,271.9 875,339.6 876,343.8 876,273 877,274.1 877,343.8 878,348.5 878,282.6 879,283.9 879,353.6 880,348.5 880,285 881,287.4 881,348.5 882,348.5 882,288.7 883,289.9 883,353.6 884,353.6 884,282.8 885,287.4 885,359.5 886,359.5 886,291.3 887,288.7 887,366.3 888,366.3 888,289.9 889,291.3 889,366.3 890,396.8 890,289.9 891,289.9 891,396.8 892,374.3 892,294 893,294 893,384.2 894,384.2 894,300.1 895,300.1 895,384.2 896,384.2 896,296.9 897,296.9 897,384.2 898,384.2 898,298.5 899,301.8 899,384.2 900,384.2 900,301.8 901,305.3 901,396.8 902,396.8 902,305.3 903,301.8 903,396.8 904,396.8 904,305.3 905,305.3 905,396.8 906,396.8 906,307.2 907,307.2 907,396.8 908,396.8 908,309.1 909,309.1 909,396.8 910,414.7 910,307.2 911,309.1 911,414.7 912,414.7 912,309.1 913,311.2 913,414.7 914,414.7 914,313.3 915,311.2 915,414.7 916,414.7 916,311.2 917,311.2 917,414.7 918,414.7 918,311.2 919,315.6 919,414.7 920,414.7 920,315.6 921,315.6 921,449.4 922,449.4 922,313.3 923,315.6 923,449.4 924,449.4 924,317.9 925,315.6 925,449.4 926,449.4 926,317.9 927,315.6 927,414.7 928,414.7 928,315.6 929,315.6 929,449.4 930,449.4 930,320.5 931,320.5 931,449.4 932,414.7 932,323.1 933,320.5 933,449.4 934,449.4 934,320.5 935,320.5 935,449.4 936,414.7 936,323.1 937,323.1 937,414.7 938,414.7 938,323.1 939,323.1 939,414.7 940,414.7 940,326 941,326 941,414.7 942,414.7 942,326 943,329 943,414.7 944,414.7 944,329 945,329 945,449.4 946,449.4 946,329 947,332.3 947,449.4 948,414.7 948,332.3 949,332.3 949,414.7 950,414.7 950,332.3 951,323.1 951,414.7 952,414.7 952,332.3 953,332.3 953,414.7 954,414.7 954,335.8 955,335.8 955,414.7 956,414.7 956,332.3 957,335.8 957,414.7 958,414.7 958,332.3 959,339.6 959,414.7 960,414.7 960,339.6 961,339.6 961,414.7 962,414.7 962,339.6 963,339.6 963,449.4 964,449.4 964,339.6 965,339.6 965,449.4 966,414.7 966,339.6 967,339.6 967,414.7 968,414.7 968,339.6 969,339.6 969,414.7 970,414.7 970,343.8 971,343.8 971,449.4 972,449.4 972,339.6 973,339.6 973,414.7 974,414.7 974,339.6 975,343.8 975,414.7 976,414.7 976,343.8 977,343.8 977,414.7 978,414.7 978,343.8 979,343.8 979,414.7 980,414.7 980,343.8 981,348.5 981,414.7 982,414.7 982,348.5 983,348.5 983,414.7 984,414.7 984,348.5 985,348.5 985,414.7 986,414.7 986,348.5 987,348.5 987,414.7 988,414.7 988,348.5 989,348.5 989,414.7 990,414.7 990,348.5 991,348.5 991,414.7 992,414.7 992,348.5 993,353.6 993,414.7 994,414.7 994,353.6 995,348.5 995,414.7 996,414.7 996,353.6 997,353.6 997,414.7 998,414.7 998,353.6 999,353.6 999,414.7 1000,414.7 1000,353.6 1001,353.6 1001,414.7 1002,414.7 1002,353.6 1003,343.8 1003,414.7 1004,414.7 1004,343.8 1005,353.6 1005,414.7 1006,414.7 1006,353.6 1007,353.6 1007,414.7 1008,414.7 1008,353.6 1009,348.5 1009,414.7 1010,414.7 1010,348.5 1011,348.5 1011,414.7 1012,414.7 1012,353.6 1013,353.6 1013,414.7 1014,414.7 1014,353.6 1015,353.6 1015,414.7 1016,414.7 1016,353.6 1017,353.6 1017,414.7 1018,414.7 1018,353.6 1019,353.6 1019,414.7 1020,414.7 1020,353.6 1021,353.6 1021,414.7 1022,414.7 1022,353.6 1023,353.6 1023,414.7 1024,414.7 1024,359.5 1025,348.5 1025,414.7 1026,414.7 1026,348.5 1027,348.5 1027,414.7 1028,414.7 1028,359.5 1029,359.5 1029,414.7 1030,414.7 1030,359.5 1031,353.6 1031,414.7 1032,414.7 1032,353.6 1033,353.6 1033,414.7 1034,414.7 1034,353.6 1035,359.5 1035,414.7 1036,414.7 1036,359.5 1037,359.5 1037,414.7 1038,414.7 1038,353.6 1039,353.6 1039,414.7 1040,449.4 1040,353.6 1041,359.5 1041,414.7 1042,414.7 1042,359.5 1043,359.5 1043,414.7 1044,414.7 1044,359.5 1045,366.3 1045,414.7 1046,414.7 1046,366.3 1047,366.3 1047,449.4 1048,449.4 1048,366.3 1049,366.3 1049,449.4 1050,414.7 1050,366.3 1051,366.3 1051,414.7 1052,414.7 1052,366.3 1053,366.3 1053,414.7 1054,414.7 1054,366.3 1055,366.3 1055,414.7 1056,414.7 1056,366.3 1057,353.6 1057,414.7 1058,414.7 1058,353.6 1059,366.3 1059,414.7 1060,414.7 1060,366.3 1061,366.3 1061,414.7 1062,414.7 1062,366.3 1063,366.3 1063,414.7 1064,414.7 1064,366.3 1065,366.3 1065,414.7 1066,414.7 1066,366.3 1067,359.5 1067,414.7 1068,414.7 1068,366.3 1069,366.3 1069,414.7 1070,449.4 1070,366.3 1071,366.3 1071,449.4 1072,449.4 1072,366.3 1073,366.3 1073,414.7 1074,414.7 1074,366.3 1075,366.3 1075,414.7 1076,414.7 1076,366.3 1077,366.3 1077,414.7 1078,414.7 1078,374.3 1079,374.3 1079,414.7 1080,414.7 1080,374.3 1081,366.3 1081,414.7 1082,414.7 1082,366.3 1083,366.3 1083,414.7 1084,414.7 1084,366.3 1085,374.3 1085,414.7 1086,414.7 1086,374.3 1087,374.3 1087,449.4 1088,449.4 1088,374.3 1089,374.3 1089,449.4 1090,414.7 1090,374.3 1091,374.3 1091,414.7 1092,414.7 1092,374.3 1093,374.3 1093,414.7 1094,414.7 1094,374.3 1095,374.3 1095,449.4 1096,414.7 1096,374.3 1097,374.3 1097,414.7 1098,449.4 1098,374.3 1099,374.3 1099,449.4 1100,449.4 1100,374.3 1101,374.3 1101,414.7 1102,414.7 1102,374.3 1103,374.3 1103,414.7 1104,414.7 1104,374.3 1105,374.3 1105,414.7 1106,414.7 1106,359.5 1107,359.5 1107,449.4 1108,449.4 1108,374.3 1109,374.3 1109,414.7 1110,414.7 1110,374.3 1111,374.3 1111,414.7 1112,414.7 1112,374.3 1113,374.3 1113,414.7 1114,414.7 1114,374.3 1115,374.3 1115,414.7 1116,414.7 1116,374.3 1117,374.3 1117,414.7 1118,414.7 1118,374.3 1119,374.3 1119,414.7 1120,414.7 1120,374.3 1121,374.3 1121,414.7 1122,414.7 1122,374.3 1123,374.3 1123,414.7 1124,414.7 1124,374.3 1125,374.3 1125,414.7 1126,414.7 1126,374.3 1127,374.3 1127,449.4 1128,449.4 1128,374.3 1129,374.3 1129,414.7 1130,414.7 1130,366.3 1131,374.3 1131,414.7 1132,414.7 1132,374.3 1133,374.3 1133,449.4 1134,449.4 1134,384.2 1135,374.3 1135,414.7 1136,414.7 1136,374.3 1137,366.3 1137,414.7 1138,414.7 1138,366.3 1139,366.3 1139,449.4 1140,449.4 1140,374.3 1141,374.3 1141,414.7 1142,414.7 1142,374.3 1143,374.3 1143,414.7 1144,449.4 1144,374.3 1145,374.3 1145,449.4 1146,414.7 1146,384.2 1147,384.2 1147,414.7 1148,414.7 1148,384.2 1149,384.2 1149,414.7 1150,414.7 1150,384.2 1151,366.3 1151,414.7 1152,414.7 1152,374.3 1153,374.3 1153,414.7 1154,414.7 1154,374.3 1155,384.2 1155,414.7 1156,414.7 1156,384.2 1157,384.2 1157,414.7 1158,414.7 1158,374.3 1159,374.3 1159,414.7 1160,449.4 1160,374.3 1161,384.2 1161,449.4 1162,414.7 1162,366.3 1163,366.3 1163,414.7 1164,449.4 1164,366.3 1165,384.2 1165,449.4 1166,449.4 1166,384.2 1167,384.2 1167,414.7 1168,414.7 1168,384.2 1169,384.2 1169,414.7 1170,414.7 1170,384.2 1171,384.2 1171,449.4 1172,449.4 1172,384.2 1173,366.3 1173,449.4 1174,414.7 1174,366.3 1175,366.3 1175,449.4 1176,449.4 1176,384.2 1177,384.2 1177,414.7 1178,414.7 1178,384.2 1179,374.3 1179,449.4 1180,449.4 1180,374.3 1181,374.3 1181,449.4 1182,414.7 1182,384.2 1183,384.2 1183,414.7 1184,414.7 1184,384.2 1185,384.2 1185,449.4 1186,449.4 1186,384.2 1187,384.2 1187,449.4 1188,414.7 1188,384.2 1189,384.2 1189,414.7 1190,414.7 1190,384.2 1191,384.2 1191,449.4 1192,449.4 1192,384.2 1193,374.3 1193,449.4 1194,414.7 1194,374.3 1195,384.2 1195,414.7 1196,414.7 1196,384.2 1197,384.2 1197,414.7 1198,414.7 1198,384.2 1199,359.5 1199,414.7 1200,414.7 1200,384.2 1201,384.2 1201,414.7 1202,414.7 1202,384.2 1203,384.2 1203,414.7 1204,414.7 1204,384.2 1205,384.2 1205,414.7 1206,414.7 1206,374.3 1207,374.3 1207,414.7 1208,414.7 1208,374.3 1209,374.3 1209,414.7 1210,449.4 1210,384.2 1211,384.2 1211,449.4 1212,449.4 1212,384.2 1213,384.2 1213,414.7 1214,414.7 1214,384.2 1215,384.2 1215,414.7 1216,449.4 1216,384.2 1217,384.2 1217,449.4 1218,414.7 1218,384.2 1219,384.2 1219,414.7 1220,414.7 1220,384.2 1221,384.2 1221,414.7 1222,414.7 1222,384.2 1223,374.3 1223,414.7 1224,414.7 1224,374.3 1225,384.2 1225,449.4 1226,449.4 1226,384.2 1227,384.2 1227,449.4 1228,414.7 1228,374.3 1229,374.3 1229,414.7 1230,414.7 1230,374.3 1231,384.2 1231,414.7 1232,414.7 1232,384.2 1233,374.3 1233,449.4 1234,449.4 1234,374.3 1235,384.2 1235,414.7 1236,449.4 1236,384.2 1237,384.2 1237,449.4 1238,449.4 1238,384.2 1239,384.2 1239,414.7 1240,449.4 1240,384.2 1241,384.2 1241,449.4 1242,449.4 1242,384.2 1243,384.2 1243,414.7 1244,414.7 1244,374.3 1245,374.3 1245,414.7 1246,414.7 1246,384.2 1247,384.2 1247,414.7 1248,414.7 1248,384.2 1249,384.2 1249,449.4 1250,414.7 1250,384.2 1251,359.5 1251,414.7 1252,414.7 1252,359.5 1253,359.5 1253,449.4 1254,449.4 1254,384.2 1255,384.2 1255,449.4 1256,449.4 1256,384.2 1257,384.2 1257,449.4 1258,449.4 1258,384.2 1259,384.2 1259,414.7 1260,414.7 1260,384.2 1261,384.2 1261,414.7 1262,414.7 1262,384.2 1263,384.2 1263,414.7 1264,414.7 1264,384.2 1265,384.2 1265,414.7 1266,414.7 1266,384.2 1267,384.2 1267,414.7 1268,414.7 1268,359.5 1269,359.5 1269,414.7 1270,414.7 1270,384.2 1271,384.2 1271,414.7 1272,449.4 1272,366.3 1273,366.3 1273,449.4 1274,414.7 1274,384.2 1275,384.2 1275,414.7 1276,414.7 1276,384.2 1277,374.3 1277,414.7 1278,414.7 1278,374.3 1279,374.3 1279,414.7 1280,414.7 1280,384.2 1281,384.2 1281,414.7 1282,414.7 1282,384.2 1283,374.3 1283,449.4 1284,414.7 1284,374.3 1285,384.2 1285,414.7 1286,449.4 1286,384.2 1287,384.2 1287,449.4 1288,449.4 1288,366.3 1289,366.3 1289,414.7 1290,414.7 1290,384.2 1291,384.2 1291,414.7 1292,414.7 1292,384.2 1293,384.2 1293,414.7 1294,449.4 1294,384.2 1295,384.2 1295,414.7 1296,414.7 1296,384.2 1297,384.2 1297,449.4 1298,449.4 1298,384.2 1299,384.2 1299,449.4 1300,414.7 1300,384.2 1301,384.2 1301,414.7 1302,414.7 1302,384.2 1303,384.2 1303,414.7 1304,414.7 1304,384.2 1305,384.2 1305,414.7 1306,414.7 1306,384.2 1307,384.2 1307,449.4 1308,449.4 1308,384.2 1309,384.2 1309,449.4 1310,414.7 1310,384.2 1311,374.3 1311,414.7" fill="none" stroke="#eb3838" stroke-width="1.5" stroke-linejoin="bevel"/>
<path d="M807,449.4 807,68.1 807.2,72.9 807.2,77.1 807.5,81.4 807.5,77.2 807.8,81 807.8,85.3 808,88.8 808,84.5 808.2,87.8 808.2,92.3 808.5,96.7 808.5,92.5 808.8,97.9 808.8,101.9 809,106.9 809,102.8 809.2,107 809.2,111.3 809.5,115 809.5,110.4 809.8,113.9 809.8,118.3 810,121.5 810,117.1 811,127.4 811,132.2 812,140.1 812,135.5 813,142.8 813,146.9 814,153.2 814,148.7 815,153.9 815,158.9 816,164.1 816,158.6 817,162.7 817,169 818,173.5 818,165.6 819,168.6 819,177.6 820,181.6 820,173 821,176 821,185.4 822,189.5 822,178.6 823,181.5 823,193.5 824,197.7 824,183.4 825,186 825,201.3 826,205.2 826,188.6 827,193.1 827,208.9 828,212.6 828,193.8 829,197.4 829,215.7 830,218.7 830,199.7 831,201.9 831,221.1 832,223.8 832,204.5 833,206.7 833,228.5 834,231.2 834,208.7 835,211.3 835,232.3 836,235.1 836,212.1 837,214 837,237.7 838,241.2 838,215.8 839,218.9 839,243.8 840,246.4 840,220.7 841,221.7 841,250.2 842,253.1 842,223.5 843,225.1 843,256 844,256.7 844,227.1 845,229.2 845,260 846,263.9 846,232.8 847,228.8 847,267.9 848,275.1 848,239.1 849,241.7 849,279 850,282.6 850,244.1 851,243.9 851,305.3 852,307.2 852,246 853,247.4 853,288.7 854,291.3 854,250.9 855,252.8 855,307.2 856,307.2 856,254.5 857,255.3 857,295.5 858,309.1 858,256.9 859,258.5 859,298.5 860,300.1 860,258.3 861,259.8 861,326 862,329 862,261.3 863,264.2 863,303.5 864,305.3 864,265.7 865,267 865,307.2 866,311.2 866,264.9 867,266.2 867,315.6 868,317.9 868,267.5 869,269.6 869,320.5 870,326 870,270.8 871,272 871,329 872,332.3 872,277.3 873,278.7 873,332.3 874,335.8 874,279.8 875,280.9 875,339.6 876,339.6 876,282.2 877,282.8 877,339.6 878,343.8 878,283.9 879,265.9 879,348.5 880,348.5 880,282.3 881,282.8 881,348.5 882,353.6 882,287.4 883,287.4 883,353.6 884,353.6 884,288.7 885,288.7 885,384.2 886,384.2 886,292.6 887,294 887,396.8 888,366.3 888,294 889,295.5 889,366.3 890,366.3 890,296.9 891,296.9 891,374.3 892,374.3 892,298.5 893,289.9 893,374.3 894,374.3 894,291.3 895,295.5 895,384.2 896,384.2 896,295.5 897,298.5 897,384.2 898,384.2 898,300.1 899,303.5 899,384.2 900,384.2 900,303.5 901,305.3 901,384.2 902,396.8 902,305.3 903,305.3 903,396.8 904,396.8 904,303.5 905,305.3 905,396.8 906,396.8 906,309.1 907,309.1 907,396.8 908,396.8 908,309.1 909,311.2 909,396.8 910,396.8 910,311.2 911,311.2 911,414.7 912,414.7 912,311.2 913,307.2 913,414.7 914,414.7 914,309.1 915,311.2 915,414.7 916,414.7 916,313.3 917,315.6 917,414.7 918,414.7 918,315.6 919,315.6 919,414.7 920,414.7 920,315.6 921,315.6 921,414.7 922,414.7 922,315.6 923,315.6 923,414.7 924,414.7 924,317.9 925,317.9 925,414.7 926,414.7 926,320.5 927,315.6 927,414.7 928,414.7 928,317.9 929,317.9 929,414.7 930,414.7 930,317.9 931,317.9 931,414.7 932,414.7 932,320.5 933,323.1 933,414.7 934,414.7 934,323.1 935,323.1 935,414.7 936,414.7 936,323.1 937,326 937,414.7 938,449.4 938,326 939,320.5 939,449.4 940,449.4 940,323.1 941,323.1 941,414.7 942,414.7 942,329 943,323.1 943,414.7 944,449.4 944,323.1 945,326 945,449.4 946,449.4 946,326 947,332.3 947,449.4 948,414.7 948,329 949,332.3 949,449.4 950,449.4 950,332.3 951,332.3 951,449.4 952,414.7 952,332.3 953,335.8 953,414.7 954,414.7 954,335.8 955,335.8 955,414.7 956,414.7 956,335.8 957,335.8 957,414.7 958,414.7 958,335.8 959,335.8 959,414.7 960,414.7 960,335.8 961,335.8 961,414.7 962,449.4 962,339.6 963,339.6 963,449.4 964,449.4 964,339.6 965,339.6 965,449.4 966,449.4 966,343.8 967,343.8 967,449.4 968,414.7 968,343.8 969,343.8 969,414.7 970,414.7 970,343.8 971,343.8 971,414.7 972,414.7 972,339.6 973,343.8 973,414.7 974,414.7 974,343.8 975,343.8 975,449.4 976,449.4 976,343.8 977,343.8 977,449.4 978,414.7 978,348.5 979,348.5 979,414.7 980,414.7 980,348.5 981,348.5 981,414.7 982,414.7 982,348.5 983,348.5 983,414.7 984,414.7 984,348.5 985,348.5 985,414.7 986,414.7 986,348.5 987,348.5 987,414.7 988,414.7 988,348.5 989,343.8 989,414.7 990,414.7 990,343.8 991,343.8 991,414.7 992,414.7 992,348.5 993,348.5 993,414.7 994,449.4 994,348.5 995,348.5 995,449.4 996,449.4 996,348.5 997,348.5 997,449.4 998,449.4 998,353.6 999,353.6 999,414.7 1000,414.7 1000,353.6 1001,348.5 1001,414.7 1002,414.7 1002,353.6 1003,353.6 1003,414.7 1004,414.7 1004,353.6 1005,353.6 1005,414.7 1006,414.7 1006,353.6 1007,353.6 1007,414.7 1008,414.7 1008,353.6 1009,353.6 1009,414.7 1010,414.7 1010,353.6 1011,353.6 1011,414.7 1012,414.7 1012,335.8 1013,353.6 1013,414.7 1014,414.7 1014,353.6 1015,353.6 1015,414.7 1016,449.4 1016,353.6 1017,353.6 1017,449.4 1018,449.4 1018,353.6 1019,353.6 1019,449.4 1020,414.7 1020,353.6 1021,353.6 1021,414.7 1022,414.7 1022,359.5 1023,359.5 1023,414.7 1024,414.7 1024,359.5 1025,353.6 1025,414.7 1026,414.7 1026,353.6 1027,359.5 1027,414.7 1028,449.4 1028,359.5 1029,359.5 1029,449.4 1030,449.4 1030,359.5 1031,359.5 1031,414.7 1032,414.7 1032,359.5 1033,359.5 1033,414.7 1034,449.4 1034,359.5 1035,359.5 1035,449.4 1036,449.4 1036,359.5 1037,359.5 1037,449.4 1038,449.4 1038,359.5 1039,359.5 1039,414.7 1040,414.7 1040,359.5 1041,359.5 1041,414.7 1042,414.7 1042,359.5 1043,359.5 1043,414.7 1044,414.7 1044,359.5 1045,359.5 1045,414.7 1046,449.4 1046,359.5 1047,359.5 1047,449.4 1048,449.4 1048,359.5 1049,359.5 1049,449.4 1050,449.4 1050,359.5 1051,359.5 1051,449.4 1052,449.4 1052,359.5 1053,366.3 1053,449.4 1054,449.4 1054,366.3 1055,366.3 1055,449.4 1056,449.4 1056,366.3 1057,366.3 1057,449.4 1058,449.4 1058,366.3 1059,339.6 1059,449.4 1060,414.7 1060,359.5 1061,366.3 1061,414.7 1062,414.7 1062,366.3 1063,366.3 1063,414.7 1064,414.7 1064,366.3 1065,366.3 1065,414.7 1066,414.7 1066,366.3 1067,366.3 1067,414.7 1068,449.4 1068,366.3 1069,366.3 1069,449.4 1070,449.4 1070,374.3 1071,374.3 1071,414.7 1072,449.4 1072,374.3 1073,366.3 1073,449.4 1074,449.4 1074,366.3 1075,374.3 1075,449.4 1076,449.4 1076,374.3 1077,366.3 1077,449.4 1078,414.7 1078,366.3 1079,366.3 1079,414.7 1080,449.4 1080,366.3 1081,366.3 1081,449.4 1082,449.4 1082,366.3 1083,374.3 1083,414.7 1084,414.7 1084,374.3 1085,374.3 1085,414.7 1086,449.4 1086,348.5 1087,348.5 1087,449.4 1088,414.7 1088,374.3 1089,374.3 1089,414.7 1090,414.7 1090,359.5 1091,359.5 1091,414.7 1092,414.7 1092,359.5 1093,374.3 1093,414.7 1094,414.7 1094,374.3 1095,374.3 1095,414.7 1096,414.7 1096,374.3 1097,374.3 1097,414.7 1098,414.7 1098,374.3 1099,374.3 1099,414.7 1100,414.7 1100,374.3 1101,374.3 1101,414.7 1102,414.7 1102,374.3 1103,374.3 1103,414.7 1104,414.7 1104,366.3 1105,366.3 1105,414.7 1106,414.7 1106,366.3 1107,374.3 1107,414.7 1108,449.4 1108,374.3 1109,374.3 1109,449.4 1110,449.4 1110,374.3 1111,374.3 1111,414.7 1112,414.7 1112,366.3 1113,366.3 1113,414.7 1114,414.7 1114,366.3 1115,374.3 1115,414.7 1116,414.7 1116,359.5 1117,359.5 1117,414.7 1118,414.7 1118,359.5 1119,374.3 1119,414.7 1120,414.7 1120,374.3 1121,374.3 1121,414.7 1122,414.7 1122,384.2 1123,384.2 1123,414.7 1124,414.7 1124,384.2 1125,384.2 1125,414.7 1126,414.7 1126,384.2 1127,374.3 1127,414.7 1128,414.7 1128,374.3 1129,374.3 1129,414.7 1130,414.7 1130,374.3 1131,374.3 1131,414.7 1132,414.7 1132,374.3 1133,374.3 1133,414.7 1134,414.7 1134,374.3 1135,374.3 1135,414.7 1136,414.7 1136,374.3 1137,374.3 1137,449.4 1138,449.4 1138,374.3 1139,384.2 1139,449.4 1140,449.4 1140,384.2 1141,384.2 1141,414.7 1142,414.7 1142,384.2 1143,384.2 1143,414.7 1144,414.7 1144,384.2 1145,384.2 1145,414.7 1146,414.7 1146,384.2 1147,366.3 1147,414.7 1148,414.7 1148,366.3 1149,374.3 1149,414.7 1150,414.7 1150,374.3 1151,374.3 1151,414.7 1152,414.7 1152,366.3 1153,366.3 1153,414.7 1154,414.7 1154,366.3 1155,374.3 1155,414.7 1156,449.4 1156,374.3 1157,384.2 1157,449.4 1158,414.7 1158,384.2 1159,384.2 1159,414.7 1160,414.7 1160,374.3 1161,359.5 1161,414.7 1162,414.7 1162,384.2 1163,384.2 1163,414.7 1164,449.4 1164,384.2 1165,384.2 1165,414.7 1166,414.7 1166,384.2 1167,384.2 1167,414.7 1168,414.7 1168,384.2 1169,384.2 1169,414.7 1170,414.7 1170,384.2 1171,384.2 1171,414.7 1172,414.7 1172,384.2 1173,384.2 1173,414.7 1174,414.7 1174,384.2 1175,384.2 1175,449.4 1176,449.4 1176,384.2 1177,384.2 1177,414.7 1178,414.7 1178,384.2 1179,384.2 1179,414.7 1180,414.7 1180,374.3 1181,374.3 1181,414.7 1182,414.7 1182,374.3 1183,384.2 1183,414.7 1184,414.7 1184,384.2 1185,384.2 1185,414.7 1186,414.7 1186,384.2 1187,384.2 1187,414.7 1188,414.7 1188,384.2 1189,384.2 1189,414.7 1190,414.7 1190,384.2 1191,384.2 1191,414.7 1192,414.7 1192,384.2 1193,384.2 1193,414.7 1194,449.4 1194,374.3 1195,374.3 1195,449.4 1196,449.4 1196,384.2 1197,374.3 1197,414.7 1198,414.7 1198,374.3 1199,384.2 1199,414.7 1200,414.7 1200,384.2 1201,384.2 1201,449.4 1202,449.4 1202,384.2 1203,384.2 1203,414.7 1204,414.7 1204,384.2 1205,384.2 1205,414.7 1206,414.7 1206,384.2 1207,384.2 1207,414.7 1208,414.7 1208,374.3 1209,384.2 1209,414.7 1210,449.4 1210,384.2 1211,384.2 1211,449.4 1212,449.4 1212,384.2 1213,384.2 1213,414.7 1214,414.7 1214,384.2 1215,384.2 1215,414.7 1216,414.7 1216,384.2 1217,384.2 1217,414.7 1218,414.7 1218,384.2 1219,384.2 1219,414.7 1220,414.7 1220,384.2 1221,384.2 1221,414.7 1222,414.7 1222,384.2 1223,374.3 1223,414.7 1224,414.7 1224,374.3 1225,374.3 1225,449.4 1226,449.4 1226,384.2 1227,384.2 1227,414.7 1228,414.7 1228,384.2 1229,384.2 1229,414.7 1230,414.7 1230,384.2 1231,384.2 1231,414.7 1232,449.4 1232,384.2 1233,384.2 1233,449.4 1234,414.7 1234,384.2 1235,384.2 1235,414.7 1236,414.7 1236,384.2 1237,384.2 1237,449.4 1238,414.7 1238,384.2 1239,384.2 1239,414.7 1240,414.7 1240,384.2 1241,384.2 1241,449.4 1242,414.7 1242,384.2 1243,384.2 1243,414.7 1244,414.7 1244,384.2 1245,384.2 1245,414.7 1246,414.7 1246,384.2 1247,384.2 1247,414.7 1248,414.7 1248,384.2 1249,384.2 1249,414.7 1250,414.7 1250,384.2 1251,384.2 1251,414.7 1252,449.4 1252,374.3 1253,374.3 1253,449.4 1254,449.4 1254,384.2 1255,384.2 1255,414.7 1256,414.7 1256,384.2 1257,384.2 1257,414.7 1258,414.7 1258,384.2 1259,384.2 1259,414.7 1260,449.4 1260,384.2 1261,384.2 1261,449.4 1262,414.7 1262,384.2 1263,384.2 1263,414.7 1264,414.7 1264,384.2 1265,384.2 1265,414.7 1266,414.7 1266,384.2 1267,384.2 1267,449.4 1268,414.7 1268,384.2 1269,384.2 1269,414.7 1270,414.7 1270,384.2 1271,384.2 1271,414.7 1272,414.7 1272,384.2 1273,384.2 1273,414.7 1274,414.7 1274,384.2 1275,384.2 1275,414.7 1276,414.7 1276,384.2 1277,384.2 1277,414.7 1278,414.7 1278,374.3 1279,374.3 1279,414.7 1280,449.4 1280,374.3 1281,374.3 1281,414.7 1282,414.7 1282,384.2 1283,384.2 1283,414.7 1284,414.7 1284,384.2 1285,384.2 1285,414.7 1286,414.7 1286,384.2 1287,384.2 1287,449.4 1288,449.4 1288,384.2 1289,384.2 1289,449.4 1290,449.4 1290,384.2 1291,384.2 1291,449.4 1292,414.7 1292,384.2 1293,384.2 1293,449.4 1294,414.7 1294,384.2 1295,384.2 1295,414.7 1296,414.7 1296,384.2 1297,384.2 1297,414.7 1298,414.7 1298,384.2 1299,384.2 1299,414.7 1300,414.7 1300,384.2 1301,384.2 1301,414.7 1302,414.7 1302,384.2 1303,384.2 1303,414.7 1304,414.7 1304,384.2 1305,384.2 1305,449.4 1306,449.4 1306,384.2 1307,384.2 1307,449.4 1308,449.4 1308,384.2 1309,384.2 1309,414.7 1310,449.4 1310,384.2 1311,384.2 1311,449.4" fill="none" stroke="#50af5a" stroke-width="1.5" stroke-linejoin="bevel"/>
<path d="M807,449.4 807,68.1 807.2,72.9 807.2,77.1 807.5,81.4 807.5,77.2 807.8,80.9 807.8,85.3 808,88.8 808,84.4 808.2,87.8 808.2,92.1 808.5,96.7 808.5,92.5 808.8,97.7 808.8,102 809,107 809,102.6 809.2,106.8 809.2,111.2 809.5,114.9 809.5,110.5 809.8,113.9 809.8,118.4 810,121.5 810,117.2 811,127.8 811,132.1 812,140.1 812,135.8 813,142.8 813,146.9 814,153.1 814,148.7 815,153.9 815,158.9 816,164.1 816,158.5 817,162.7 817,169 818,173.5 818,166.4 819,169.8 819,177.6 820,181.6 820,173 821,176 821,185.5 822,189.2 822,179 823,181.6 823,193.5 824,200.2 824,184.9 825,185.2 825,204.6 826,209 826,187.6 827,192.5 827,209.2 828,212.7 828,195 829,197.4 829,215.8 830,227.6 830,196.7 831,198.7 831,223.2 832,225.5 832,205.3 833,204.1 833,228.3 834,231.1 834,206.7 835,208.6 835,232.8 836,235 836,213.7 837,215.6 837,237.6 838,240.2 838,214.7 839,217.4 839,243.2 840,245.8 840,219.1 841,219 841,248.1 842,250.8 842,222.4 843,224.2 843,256.1 844,259.2 844,226.2 845,228.6 845,259.6 846,265.5 846,229.8 847,227.2 847,269.6 848,272.2 848,238.6 849,241.2 849,276.2 850,279.7 850,243.7 851,243.9 851,285 852,287.4 852,246.9 853,248.9 853,289.9 854,288.7 854,231.1 855,232.9 855,291.3 856,294 856,253.7 857,255.4 857,295.5 858,296.9 858,256.4 859,259.6 859,296.9 860,298.5 860,261.1 861,264.2 861,300.1 862,301.8 862,255.7 863,265.9 863,305.3 864,307.2 864,267.3 865,269.9 865,309.1 866,311.2 866,271.2 867,272.6 867,313.3 868,315.6 868,272.1 869,272.2 869,315.6 870,317.9 870,273.3 871,277.5 871,320.5 872,323.1 872,278.7 873,279.8 873,323.1 874,326 874,277.8 875,278.9 875,329 876,332.3 876,278.8 877,279.8 877,335.8 878,335.8 878,282.4 879,283.9 879,339.6 880,339.6 880,283.9 881,279.6 881,343.8 882,343.8 882,286.2 883,287.4 883,343.8 884,343.8 884,291.3 885,292.6 885,348.5 886,348.5 886,291.3 887,291.3 887,353.6 888,353.6 888,289.9 889,289.9 889,359.5 890,359.5 890,289.9 891,294 891,366.3 892,366.3 892,295.5 893,291.3 893,366.3 894,366.3 894,298.5 895,300.1 895,374.3 896,374.3 896,294 897,301.8 897,374.3 898,374.3 898,301.8 899,301.8 899,384.2 900,384.2 900,303.5 901,311.2 901,384.2 902,384.2 902,303.5 903,305.3 903,384.2 904,384.2 904,305.3 905,305.3 905,384.2 906,384.2 906,307.2 907,307.2 907,396.8 908,396.8 908,311.2 909,309.1 909,396.8 910,396.8 910,311.2 911,305.3 911,396.8 912,396.8 912,309.1 913,309.1 913,396.8 914,396.8 914,311.2 915,309.1 915,414.7 916,414.7 916,309.1 917,309.1 917,414.7 918,414.7 918,311.2 919,313.3 919,414.7 920,414.7 920,313.3 921,313.3 921,414.7 922,414.7 922,315.6 923,317.9 923,414.7 924,414.7 924,317.9 925,317.9 925,414.7 926,414.7 926,317.9 927,317.9 927,414.7 928,414.7 928,323.1 929,317.9 929,414.7 930,449.4 930,317.9 931,315.6 931,449.4 932,449.4 932,315.6 933,323.1 933,449.4 934,449.4 934,323.1 935,326 935,449.4 936,449.4 936,329 937,326 937,449.4 938,449.4 938,326 939,326 939,449.4 940,449.4 940,323.1 941,320.5 941,449.4 942,449.4 942,329 943,326 943,449.4 944,449.4 944,326 945,326 945,449.4 946,449.4 946,317.9 947,332.3 947,449.4 948,449.4 948,332.3 949,329 949,449.4 950,449.4 950,329 951,332.3 951,449.4 952,449.4 952,332.3 953,332.3 953,449.4 954,449.4 954,332.3 955,335.8 955,449.4 956,449.4 956,335.8 957,339.6 957,449.4 958,449.4 958,339.6 959,332.3 959,449.4 960,449.4 960,339.6 961,339.6 961,449.4 962,449.4 962,335.8 963,335.8 963,449.4 964,449.4 964,339.6 965,339.6 965,449.4 966,449.4 966,339.6 967,335.8 967,449.4 968,449.4 968,335.8 969,335.8 969,449.4 970,449.4 970,335.8 971,335.8 971,449.4 972,449.4 972,320.5 973,320.5 973,449.4 974,449.4 974,323.1 975,343.8 975,449.4 976,449.4 976,348.5 977,348.5 977,449.4 978,449.4 978,348.5 979,348.5 979,449.4 980,449.4 980,348.5 981,348.5 981,449.4 982,449.4 982,348.5 983,348.5 983,449.4 984,449.4 984,339.6 985,339.6 985,449.4 986,449.4 986,348.5 987,348.5 987,449.4 988,449.4 988,339.6 989,348.5 989,449.4 990,449.4 990,348.5 991,353.6 991,449.4 992,449.4 992,353.6 993,353.6 993,449.4 994,449.4 994,348.5 995,348.5 995,449.4 996,449.4 996,353.6 997,353.6 997,449.4 998,449.4 998,353.6 999,366.3 999,449.4 1000,449.4 1000,366.3 1001,353.6 1001,449.4 1002,449.4 1002,348.5 1003,348.5 1003,449.4 1004,449.4 1004,353.6 1005,353.6 1005,449.4 1006,449.4 1006,348.5 1007,348.5 1007,449.4 1008,449.4 1008,348.5 1009,353.6 1009,449.4 1010,449.4 1010,353.6 1011,353.6 1011,449.4 1012,449.4 1012,353.6 1013,353.6 1013,449.4 1014,449.4 1014,353.6 1015,353.6 1015,449.4 1016,449.4 1016,366.3 1017,353.6 1017,449.4 1018,449.4 1018,353.6 1019,348.5 1019,449.4 1020,449.4 1020,348.5 1021,348.5 1021,449.4 1022,449.4 1022,353.6 1023,384.2 1023,449.4 1024,449.4 1024,359.5 1025,359.5 1025,449.4 1026,449.4 1026,359.5 1027,353.6 1027,449.4 1028,449.4 1028,353.6 1029,353.6 1029,449.4 1030,449.4 1030,353.6 1031,353.6 1031,449.4 1032,449.4 1032,353.6 1033,353.6 1033,449.4 1034,449.4 1034,353.6 1035,359.5 1035,449.4 1036,449.4 1036,359.5 1037,359.5 1037,449.4 1038,449.4 1038,359.5 1039,359.5 1039,449.4 1040,449.4 1040,359.5 1041,359.5 1041,449.4 1042,449.4 1042,359.5 1043,359.5 1043,449.4 1044,449.4 1044,359.5 1045,359.5 1045,449.4 1046,449.4 1046,359.5 1047,359.5 1047,449.4 1048,449.4 1048,374.3 1049,366.3 1049,449.4 1050,449.4 1050,374.3 1051,374.3 1051,449.4 1052,449.4 1052,374.3 1053,366.3 1053,449.4 1054,449.4 1054,359.5 1055,366.3 1055,449.4 1056,449.4 1056,366.3 1057,366.3 1057,449.4 1058,449.4 1058,366.3 1059,366.3 1059,449.4 1060,449.4 1060,366.3 1061,359.5 1061,449.4 1062,449.4 1062,366.3 1063,366.3 1063,449.4 1064,449.4 1064,366.3 1065,366.3 1065,449.4 1066,449.4 1066,359.5 1067,359.5 1067,449.4 1068,449.4 1068,359.5 1069,366.3 1069,449.4 1070,449.4 1070,366.3 1071,366.3 1071,449.4 1072,449.4 1072,366.3 1073,366.3 1073,449.4 1074,449.4 1074,366.3 1075,366.3 1075,449.4 1076,449.4 1076,366.3 1077,366.3 1077,449.4 1078,449.4 1078,374.3 1079,374.3 1079,449.4 1080,449.4 1080,374.3 1081,374.3 1081,449.4 1082,449.4 1082,366.3 1083,374.3 1083,449.4 1084,449.4 1084,366.3 1085,366.3 1085,449.4 1086,449.4 1086,384.2 1087,374.3 1087,449.4 1088,449.4 1088,396.8 1089,374.3 1089,449.4 1090,449.4 1090,374.3 1091,374.3 1091,449.4 1092,449.4 1092,374.3 1093,374.3 1093,449.4 1094,449.4 1094,374.3 1095,374.3 1095,449.4 1096,449.4 1096,374.3 1097,374.3 1097,449.4 1098,449.4 1098,374.3 1099,366.3 1099,449.4 1100,449.4 1100,374.3 1101,374.3 1101,449.4 1102,449.4 1102,374.3 1103,374.3 1103,449.4 1104,449.4 1104,374.3 1105,374.3 1105,449.4 1106,449.4 1106,374.3 1107,374.3 1107,449.4 1108,449.4 1108,374.3 1109,374.3 1109,449.4 1110,449.4 1110,374.3 1111,374.3 1111,449.4 1112,449.4 1112,374.3 1113,374.3 1113,449.4 1114,449.4 1114,374.3 1115,374.3 1115,449.4 1116,449.4 1116,374.3 1117,374.3 1117,449.4 1118,449.4 1118,374.3 1119,374.3 1119,449.4 1120,449.4 1120,366.3 1121,374.3 1121,449.4 1122,449.4 1122,374.3 1123,374.3 1123,449.4 1124,449.4 1124,374.3 1125,374.3 1125,449.4 1126,449.4 1126,374.3 1127,384.2 1127,449.4 1128,449.4 1128,384.2 1129,374.3 1129,449.4 1130,449.4 1130,374.3 1131,374.3 1131,449.4 1132,449.4 1132,384.2 1133,384.2 1133,449.4 1134,449.4 1134,384.2 1135,374.3 1135,449.4 1136,449.4 1136,374.3 1137,384.2 1137,449.4 1138,449.4 1138,384.2 1139,384.2 1139,449.4 1140,449.4 1140,374.3 1141,374.3 1141,449.4 1142,449.4 1142,374.3 1143,384.2 1143,449.4 1144,449.4 1144,396.8 1145,396.8 1145,449.4 1146,449.4 1146,384.2 1147,374.3 1147,449.4 1148,449.4 1148,374.3 1149,384.2 1149,449.4 1150,449.4 1150,374.3 1151,384.2 1151,449.4 1152,449.4 1152,384.2 1153,374.3 1153,449.4 1154,449.4 1154,374.3 1155,384.2 1155,449.4 1156,449.4 1156,384.2 1157,384.2 1157,449.4 1158,449.4 1158,384.2 1159,384.2 1159,449.4 1160,449.4 1160,384.2 1161,374.3 1161,449.4 1162,449.4 1162,366.3 1163,384.2 1163,449.4 1164,449.4 1164,384.2 1165,396.8 1165,449.4 1166,449.4 1166,374.3 1167,374.3 1167,449.4 1168,449.4 1168,374.3 1169,384.2 1169,449.4 1170,449.4 1170,384.2 1171,384.2 1171,449.4 1172,449.4 1172,384.2 1173,384.2 1173,449.4 1174,449.4 1174,384.2 1175,374.3 1175,449.4 1176,449.4 1176,374.3 1177,374.3 1177,449.4 1178,449.4 1178,374.3 1179,374.3 1179,449.4 1180,449.4 1180,384.2 1181,384.2 1181,449.4 1182,449.4 1182,384.2 1183,374.3 1183,449.4 1184,449.4 1184,374.3 1185,374.3 1185,449.4 1186,449.4 1186,384.2 1187,384.2 1187,449.4 1188,449.4 1188,384.2 1189,384.2 1189,449.4 1190,449.4 1190,384.2 1191,449.4 1192,449.4 1192,384.2 1193,384.2 1193,449.4 1194,449.4 1194,384.2 1195,384.2 1195,449.4 1196,449.4 1196,384.2 1197,374.3 1197,449.4 1198,449.4 1198,374.3 1199,374.3 1199,449.4 1200,449.4 1200,374.3 1201,384.2 1201,449.4 1202,449.4 1202,384.2 1203,384.2 1203,449.4 1204,449.4 1204,384.2 1205,384.2 1205,449.4 1206,449.4 1206,384.2 1207,384.2 1207,449.4 1208,449.4 1208,374.3 1209,384.2 1209,449.4 1210,449.4 1210,384.2 1211,374.3 1211,449.4 1212,449.4 1212,384.2 1213,384.2 1213,449.4 1214,449.4 1214,384.2 1215,374.3 1215,449.4 1216,449.4 1216,374.3 1217,374.3 1217,449.4 1218,449.4 1218,384.2 1219,374.3 1219,449.4 1220,449.4 1220,384.2 1221,374.3 1221,449.4 1222,449.4 1222,374.3 1223,374.3 1223,449.4 1224,449.4 1224,374.3 1225,384.2 1225,449.4 1226,449.4 1226,384.2 1227,384.2 1227,449.4 1228,449.4 1228,384.2 1229,384.2 1229,449.4 1230,449.4 1230,359.5 1231,384.2 1231,449.4 1232,449.4 1232,396.8 1233,396.8 1233,449.4 1234,449.4 1234,384.2 1235,384.2 1235,449.4 1236,449.4 1236,384.2 1237,374.3 1237,449.4 1238,449.4 1238,374.3 1239,374.3 1239,449.4 1240,449.4 1240,384.2 1241,384.2 1241,449.4 1242,449.4 1242,384.2 1243,396.8 1243,449.4 1244,449.4 1244,396.8 1245,359.5 1245,449.4 1246,449.4 1246,374.3 1247,374.3 1247,449.4 1248,449.4 1248,374.3 1249,366.3 1249,449.4 1250,449.4 1250,366.3 1251,384.2 1251,449.4 1252,449.4 1252,384.2 1253,384.2 1253,449.4 1254,449.4 1254,384.2 1255,384.2 1255,449.4 1256,449.4 1256,384.2 1257,384.2 1257,449.4 1258,449.4 1258,384.2 1259,384.2 1259,449.4 1260,449.4 1260,384.2 1261,374.3 1261,449.4 1262,449.4 1262,374.3 1263,366.3 1263,449.4 1264,449.4 1264,384.2 1265,384.2 1265,449.4 1266,449.4 1266,384.2 1267,384.2 1267,449.4 1268,449.4 1268,384.2 1269,384.2 1269,449.4 1270,449.4 1270,396.8 1271,396.8 1271,449.4 1272,449.4 1272,384.2 1273,384.2 1273,449.4 1274,449.4 1274,384.2 1275,384.2 1275,449.4 1276,449.4 1276,384.2 1277,384.2 1277,449.4 1278,449.4 1278,384.2 1279,384.2 1279,449.4 1280,449.4 1280,374.3 1281,384.2 1281,449.4 1282,449.4 1282,384.2 1283,384.2 1283,449.4 1284,449.4 1284,384.2 1285,384.2 1285,449.4 1286,449.4 1286,384.2 1287,384.2 1287,449.4 1288,449.4 1288,384.2 1289,384.2 1289,449.4 1290,449.4 1290,384.2 1291,384.2 1291,449.4 1292,449.4 1292,384.2 1293,384.2 1293,449.4 1294,449.4 1294,384.2 1295,384.2 1295,449.4 1296,449.4 1296,384.2 1297,384.2 1297,449.4 1298,449.4 1298,384.2 1299,384.2 1299,449.4 1300,449.4 1300,384.2 1301,384.2 1301,449.4 1302,449.4 1302,384.2 1303,384.2 1303,449.4 1304,449.4 1304,384.2 1305,384.2 1305,449.4 1306,449.4 1306,384.2 1307,384.2 1307,449.4 1308,449.4 1308,384.2 1309,384.2 1309,449.4 1310,449.4 1310,384.2 1311,384.2 1311,449.4" fill="none" stroke="#427ce8" stroke-width="1.5" stroke-linejoin="bevel"/>
</g>
<rect x="806.5" y="39.3" width="504.8" height="406.1" fill="none" stroke="#000" stroke-width="2"/>
<line x1="807.40" y1="444.90" x2="807.40" y2="69.00" stroke="#427ce8" stroke-width="2.6" stroke-linecap="butt"/>
<text x="1059.0" y="521.0" font-size="29.2" text-anchor="middle">Time (ns)</text>
<clipPath id="cC"><rect x="117.6" y="558.6" width="505.4" height="405.6"/></clipPath>
<line x1="202.25" y1="964.20" x2="202.25" y2="960.20" stroke="#000" stroke-width="1.8" stroke-linecap="butt"/>
<line x1="286.30" y1="964.20" x2="286.30" y2="957.20" stroke="#000" stroke-width="1.8" stroke-linecap="butt"/>
<line x1="370.35" y1="964.20" x2="370.35" y2="960.20" stroke="#000" stroke-width="1.8" stroke-linecap="butt"/>
<line x1="454.40" y1="964.20" x2="454.40" y2="957.20" stroke="#000" stroke-width="1.8" stroke-linecap="butt"/>
<line x1="538.45" y1="964.20" x2="538.45" y2="960.20" stroke="#000" stroke-width="1.8" stroke-linecap="butt"/>
<line x1="622.50" y1="964.20" x2="622.50" y2="957.20" stroke="#000" stroke-width="1.8" stroke-linecap="butt"/>
<text x="118.2" y="995.5" font-size="29.2" text-anchor="middle">0</text>
<text x="286.3" y="995.5" font-size="29.2" text-anchor="middle">1000</text>
<rect x="255.04" y="992.21" width="5.96" height="4.19" fill="#fff"/>
<rect x="263.90" y="992.21" width="5.73" height="4.19" fill="#fff"/>
<text x="454.4" y="995.5" font-size="29.2" text-anchor="middle">2000</text>
<text x="622.5" y="995.5" font-size="29.2" text-anchor="middle">3000</text>
<text x="109.8" y="973.6" font-size="29.2" text-anchor="end">10<tspan dx="-1.2" dy="-12" font-size="20.3">0</tspan></text>
<rect x="68.45" y="970.31" width="5.96" height="4.19" fill="#fff"/>
<rect x="77.31" y="970.31" width="5.73" height="4.19" fill="#fff"/>
<line x1="117.60" y1="932.90" x2="121.40" y2="932.90" stroke="#000" stroke-width="2" stroke-linecap="butt"/>
<line x1="117.60" y1="915.11" x2="121.40" y2="915.11" stroke="#000" stroke-width="2" stroke-linecap="butt"/>
<line x1="117.60" y1="902.49" x2="121.40" y2="902.49" stroke="#000" stroke-width="2" stroke-linecap="butt"/>
<line x1="117.60" y1="892.70" x2="121.40" y2="892.70" stroke="#000" stroke-width="2" stroke-linecap="butt"/>
<line x1="117.60" y1="884.71" x2="121.40" y2="884.71" stroke="#000" stroke-width="2" stroke-linecap="butt"/>
<line x1="117.60" y1="877.95" x2="121.40" y2="877.95" stroke="#000" stroke-width="2" stroke-linecap="butt"/>
<line x1="117.60" y1="872.09" x2="121.40" y2="872.09" stroke="#000" stroke-width="2" stroke-linecap="butt"/>
<line x1="117.60" y1="866.92" x2="121.40" y2="866.92" stroke="#000" stroke-width="2" stroke-linecap="butt"/>
<line x1="117.60" y1="862.30" x2="125.10" y2="862.30" stroke="#000" stroke-width="2" stroke-linecap="butt"/>
<text x="109.8" y="872.6" font-size="29.2" text-anchor="end">10<tspan dx="-1.2" dy="-12" font-size="20.3">1</tspan></text>
<rect x="68.45" y="869.31" width="5.96" height="4.19" fill="#fff"/>
<rect x="77.31" y="869.31" width="5.73" height="4.19" fill="#fff"/>
<rect x="99.05" y="857.98" width="4.40" height="3.52" fill="#fff"/>
<rect x="105.56" y="857.98" width="4.24" height="3.52" fill="#fff"/>
<line x1="117.60" y1="831.90" x2="121.40" y2="831.90" stroke="#000" stroke-width="2" stroke-linecap="butt"/>
<line x1="117.60" y1="814.11" x2="121.40" y2="814.11" stroke="#000" stroke-width="2" stroke-linecap="butt"/>
<line x1="117.60" y1="801.49" x2="121.40" y2="801.49" stroke="#000" stroke-width="2" stroke-linecap="butt"/>
<line x1="117.60" y1="791.70" x2="121.40" y2="791.70" stroke="#000" stroke-width="2" stroke-linecap="butt"/>
<line x1="117.60" y1="783.71" x2="121.40" y2="783.71" stroke="#000" stroke-width="2" stroke-linecap="butt"/>
<line x1="117.60" y1="776.95" x2="121.40" y2="776.95" stroke="#000" stroke-width="2" stroke-linecap="butt"/>
<line x1="117.60" y1="771.09" x2="121.40" y2="771.09" stroke="#000" stroke-width="2" stroke-linecap="butt"/>
<line x1="117.60" y1="765.92" x2="121.40" y2="765.92" stroke="#000" stroke-width="2" stroke-linecap="butt"/>
<line x1="117.60" y1="761.30" x2="125.10" y2="761.30" stroke="#000" stroke-width="2" stroke-linecap="butt"/>
<text x="109.8" y="771.6" font-size="29.2" text-anchor="end">10<tspan dx="-1.2" dy="-12" font-size="20.3">2</tspan></text>
<rect x="68.45" y="768.31" width="5.96" height="4.19" fill="#fff"/>
<rect x="77.31" y="768.31" width="5.73" height="4.19" fill="#fff"/>
<line x1="117.60" y1="730.90" x2="121.40" y2="730.90" stroke="#000" stroke-width="2" stroke-linecap="butt"/>
<line x1="117.60" y1="713.11" x2="121.40" y2="713.11" stroke="#000" stroke-width="2" stroke-linecap="butt"/>
<line x1="117.60" y1="700.49" x2="121.40" y2="700.49" stroke="#000" stroke-width="2" stroke-linecap="butt"/>
<line x1="117.60" y1="690.70" x2="121.40" y2="690.70" stroke="#000" stroke-width="2" stroke-linecap="butt"/>
<line x1="117.60" y1="682.71" x2="121.40" y2="682.71" stroke="#000" stroke-width="2" stroke-linecap="butt"/>
<line x1="117.60" y1="675.95" x2="121.40" y2="675.95" stroke="#000" stroke-width="2" stroke-linecap="butt"/>
<line x1="117.60" y1="670.09" x2="121.40" y2="670.09" stroke="#000" stroke-width="2" stroke-linecap="butt"/>
<line x1="117.60" y1="664.92" x2="121.40" y2="664.92" stroke="#000" stroke-width="2" stroke-linecap="butt"/>
<line x1="117.60" y1="660.30" x2="125.10" y2="660.30" stroke="#000" stroke-width="2" stroke-linecap="butt"/>
<text x="109.8" y="670.6" font-size="29.2" text-anchor="end">10<tspan dx="-1.2" dy="-12" font-size="20.3">3</tspan></text>
<rect x="68.45" y="667.31" width="5.96" height="4.19" fill="#fff"/>
<rect x="77.31" y="667.31" width="5.73" height="4.19" fill="#fff"/>
<line x1="117.60" y1="629.90" x2="121.40" y2="629.90" stroke="#000" stroke-width="2" stroke-linecap="butt"/>
<line x1="117.60" y1="612.11" x2="121.40" y2="612.11" stroke="#000" stroke-width="2" stroke-linecap="butt"/>
<line x1="117.60" y1="599.49" x2="121.40" y2="599.49" stroke="#000" stroke-width="2" stroke-linecap="butt"/>
<line x1="117.60" y1="589.70" x2="121.40" y2="589.70" stroke="#000" stroke-width="2" stroke-linecap="butt"/>
<line x1="117.60" y1="581.71" x2="121.40" y2="581.71" stroke="#000" stroke-width="2" stroke-linecap="butt"/>
<line x1="117.60" y1="574.95" x2="121.40" y2="574.95" stroke="#000" stroke-width="2" stroke-linecap="butt"/>
<line x1="117.60" y1="569.09" x2="121.40" y2="569.09" stroke="#000" stroke-width="2" stroke-linecap="butt"/>
<line x1="117.60" y1="563.92" x2="121.40" y2="563.92" stroke="#000" stroke-width="2" stroke-linecap="butt"/>
<text x="109.8" y="569.6" font-size="29.2" text-anchor="end">10<tspan dx="-1.2" dy="-12" font-size="20.3">4</tspan></text>
<rect x="68.45" y="566.31" width="5.96" height="4.19" fill="#fff"/>
<rect x="77.31" y="566.31" width="5.73" height="4.19" fill="#fff"/>
<text x="41.3" y="750.0" font-size="29.2" text-anchor="middle" transform="rotate(-90 41.3 750.0)">Intensity (Counts)</text>
<text x="127.8" y="589.6" font-size="29.0">RT-PeNC (20 ºC)</text>
<line x1="389.20" y1="580.80" x2="441.60" y2="580.80" stroke="#484848" stroke-width="2.5" stroke-linecap="round"/>
<text x="446.6" y="588.9" font-size="24.0">0.0068 mW/cm<tspan dy="-9.4" font-size="16.3">2</tspan></text>
<line x1="389.20" y1="613.10" x2="441.60" y2="613.10" stroke="#eb3838" stroke-width="2.5" stroke-linecap="round"/>
<text x="446.6" y="621.2" font-size="24.0">0.0483 mW/cm<tspan dy="-9.4" font-size="16.3">2</tspan></text>
<line x1="389.20" y1="645.40" x2="441.60" y2="645.40" stroke="#50af5a" stroke-width="2.5" stroke-linecap="round"/>
<text x="446.6" y="653.5" font-size="24.0">0.0938 mW/cm<tspan dy="-9.4" font-size="16.3">2</tspan></text>
<line x1="389.20" y1="677.50" x2="441.60" y2="677.50" stroke="#427ce8" stroke-width="2.5" stroke-linecap="round"/>
<text x="446.6" y="685.6" font-size="24.0">0.1267 mW/cm<tspan dy="-9.4" font-size="16.3">2</tspan></text>
<rect x="467.44" y="682.70" width="5.05" height="3.80" fill="#fff"/>
<rect x="474.93" y="682.70" width="4.86" height="3.80" fill="#fff"/>
<g clip-path="url(#cC)">
<path d="M118.2,968.2 118.2,591.4 118.4,595.7 118.4,602.5 118.7,609.8 118.7,599.5 119,603.2 119,616 119.2,621.6 119.2,606.6 119.4,609.8 119.4,628.3 119.7,636.1 119.7,612.8 120,615.7 120,643.5 120.2,649.8 120.2,618.5 120.4,621.7 120.4,654.7 120.7,659.3 120.7,625.7 121,630.2 121,664.5 121.2,670.8 121.2,635 122.2,652.5 122.2,684.9 123.2,691.4 123.2,663.6 124.2,671.4 124.2,695.7 125.2,699.5 125.2,677 126.2,681.6 126.2,703.1 127.2,706.9 127.2,685.9 128.2,689.1 128.2,709.6 129.2,711.3 129.2,692 130.2,694.6 130.2,713.7 131.2,716.9 131.2,697.2 132.2,699.6 132.2,719.6 133.2,720.7 133.2,702.1 134.2,704.6 134.2,723.1 135.2,725.8 135.2,706.9 136.2,708 136.2,728.6 137.2,736.2 137.2,711.9 138.2,714.1 138.2,739.5 139.2,737 139.2,715.9 140.2,718 140.2,739.7 141.2,741.9 141.2,720 142.2,722.1 142.2,747.8 143.2,749.8 143.2,724 144.2,726 144.2,749.5 145.2,751.2 145.2,728.9 146.2,728.6 146.2,749.4 147.2,750.8 147.2,732.5 148.2,729.9 148.2,754.6 149.2,754.3 149.2,731.4 150.2,737.4 150.2,755.8 151.2,756.7 151.2,739 152.2,739.5 152.2,760.8 153.2,762.5 153.2,739.8 154.2,741.1 154.2,764.6 155.2,766.5 155.2,745.2 156.2,746.6 156.2,769.5 157.2,771.3 157.2,747.1 158.2,748.4 158.2,773.3 159.2,775.1 159.2,750.7 160.2,748 160.2,773.5 161.2,775.7 161.2,749.2 162.2,751.2 162.2,786.8 163.2,781.1 163.2,755.6 164.2,756.8 164.2,780.4 165.2,783.4 165.2,745.8 166.2,746.9 166.2,784.2 167.2,785.9 167.2,759.9 168.2,761 168.2,790.6 169.2,790.1 169.2,761.6 170.2,762.7 170.2,791.8 171.2,796.5 171.2,763.6 172.2,765.3 172.2,798.2 173.2,798.2 173.2,757.7 174.2,764.6 174.2,797.5 175.2,799.1 175.2,767.9 176.2,767.8 176.2,801 177.2,820.7 177.2,767.8 178.2,768.7 178.2,802.9 179.2,804 179.2,772.4 180.2,773.3 180.2,808.9 181.2,810.3 181.2,771.4 182.2,772.3 182.2,811.6 183.2,813 183.2,770.1 184.2,776.9 184.2,813 185.2,814.4 185.2,777.7 186.2,778.7 186.2,817.5 187.2,817.5 187.2,779.3 188.2,780.1 188.2,819.1 189.2,819.1 189.2,779.9 190.2,780.7 190.2,826.1 191.2,828.1 191.2,778.9 192.2,779.8 192.2,826.1 193.2,830.1 193.2,782.5 194.2,783.3 194.2,832.3 195.2,848 195.2,783.4 196.2,784.2 196.2,848 197.2,830.1 197.2,787.2 198.2,788.5 198.2,830.1 199.2,834.5 199.2,789.3 200.2,790 200.2,834.5 201.2,836.9 201.2,789.4 202.2,786.8 202.2,834.5 203.2,836.9 203.2,787.5 204.2,792 204.2,842.1 205.2,848 205.2,770.7 206.2,771.5 206.2,842.1 207.2,842.1 207.2,793.8 208.2,794.5 208.2,842.1 209.2,844.9 209.2,793.2 210.2,793.9 210.2,844.9 211.2,848 211.2,794.5 212.2,795.2 212.2,848 213.2,867.4 213.2,797.2 214.2,800.1 214.2,867.4 215.2,885.2 215.2,800.8 216.2,799.4 216.2,885.2 217.2,854.7 217.2,801.1 218.2,801.7 218.2,862.8 219.2,858.6 219.2,802.9 220.2,802.9 220.2,858.6 221.2,862.8 221.2,802.9 222.2,805.2 222.2,862.8 223.2,858.6 223.2,804 224.2,805.2 224.2,862.8 225.2,862.8 225.2,802.9 226.2,806.4 226.2,862.8 227.2,867.4 227.2,808.9 228.2,808.9 228.2,878.4 229.2,878.4 229.2,806.4 230.2,807.7 230.2,878.4 231.2,878.4 231.2,810.3 232.2,810.3 232.2,872.6 233.2,872.6 233.2,807.7 234.2,811.6 234.2,872.6 235.2,878.4 235.2,811.6 236.2,814.4 236.2,878.4 237.2,878.4 237.2,814.4 238.2,811.6 238.2,878.4 239.2,885.2 239.2,814.4 240.2,815.9 240.2,885.2 241.2,903 241.2,817.5 242.2,815.9 242.2,903 243.2,885.2 243.2,817.5 244.2,811.6 244.2,885.2 245.2,893.2 245.2,819.1 246.2,819.1 246.2,893.2 247.2,893.2 247.2,819.1 248.2,819.1 248.2,893.2 249.2,893.2 249.2,822.5 250.2,820.7 250.2,903 251.2,903 251.2,822.5 252.2,824.3 252.2,903 253.2,903 253.2,820.7 254.2,822.5 254.2,903 255.2,903 255.2,822.5 256.2,826.1 256.2,903 257.2,915.7 257.2,826.1 258.2,824.3 258.2,915.7 259.2,915.7 259.2,824.3 260.2,828.1 260.2,915.7 261.2,915.7 261.2,828.1 262.2,828.1 262.2,915.7 263.2,915.7 263.2,828.1 264.2,828.1 264.2,915.7 265.2,915.7 265.2,828.1 266.2,830.1 266.2,915.7 267.2,915.7 267.2,830.1 268.2,830.1 268.2,915.7 269.2,915.7 269.2,830.1 270.2,830.1 270.2,915.7 271.2,915.7 271.2,822.5 272.2,832.3 272.2,933.5 273.2,915.7 273.2,832.3 274.2,828.1 274.2,933.5 275.2,933.5 275.2,828.1 276.2,834.5 276.2,933.5 277.2,933.5 277.2,834.5 278.2,832.3 278.2,933.5 279.2,933.5 279.2,832.3 280.2,834.5 280.2,933.5 281.2,933.5 281.2,834.5 282.2,834.5 282.2,933.5 283.2,933.5 283.2,834.5 284.2,836.9 284.2,933.5 285.2,933.5 285.2,836.9 286.2,836.9 286.2,933.5 287.2,933.5 287.2,834.5 288.2,820.7 288.2,968.2 289.2,968.2 289.2,822.5 290.2,834.5 290.2,933.5 291.2,933.5 291.2,836.9 292.2,836.9 292.2,933.5 293.2,933.5 293.2,836.9 294.2,836.9 294.2,933.5 295.2,933.5 295.2,836.9 296.2,836.9 296.2,933.5 297.2,933.5 297.2,839.4 298.2,839.4 298.2,933.5 299.2,968.2 299.2,842.1 300.2,839.4 300.2,933.5 301.2,933.5 301.2,839.4 302.2,839.4 302.2,933.5 303.2,968.2 303.2,842.1 304.2,842.1 304.2,968.2 305.2,933.5 305.2,844.9 306.2,842.1 306.2,933.5 307.2,968.2 307.2,834.5 308.2,844.9 308.2,968.2 309.2,968.2 309.2,844.9 310.2,844.9 310.2,968.2 311.2,933.5 311.2,844.9 312.2,844.9 312.2,933.5 313.2,933.5 313.2,848 314.2,836.9 314.2,968.2 315.2,968.2 315.2,848 316.2,844.9 316.2,933.5 317.2,933.5 317.2,844.9 318.2,848 318.2,933.5 319.2,933.5 319.2,848 320.2,848 320.2,933.5 321.2,968.2 321.2,848 322.2,848 322.2,968.2 323.2,933.5 323.2,851.2 324.2,851.2 324.2,933.5 325.2,933.5 325.2,839.4 326.2,839.4 326.2,933.5 327.2,933.5 327.2,844.9 328.2,844.9 328.2,933.5 329.2,933.5 329.2,851.2 330.2,848 330.2,933.5 331.2,933.5 331.2,848 332.2,848 332.2,968.2 333.2,933.5 333.2,851.2 334.2,854.7 334.2,933.5 335.2,933.5 335.2,851.2 336.2,851.2 336.2,933.5 337.2,933.5 337.2,854.7 338.2,854.7 338.2,968.2 339.2,968.2 339.2,851.2 340.2,854.7 340.2,968.2 341.2,933.5 341.2,854.7 342.2,854.7 342.2,933.5 343.2,933.5 343.2,854.7 344.2,858.6 344.2,933.5 345.2,933.5 345.2,854.7 346.2,854.7 346.2,933.5 347.2,933.5 347.2,854.7 348.2,858.6 348.2,933.5 349.2,933.5 349.2,858.6 350.2,858.6 350.2,933.5 351.2,933.5 351.2,854.7 352.2,858.6 352.2,933.5 353.2,933.5 353.2,858.6 354.2,854.7 354.2,933.5 355.2,933.5 355.2,858.6 356.2,858.6 356.2,968.2 357.2,968.2 357.2,858.6 358.2,858.6 358.2,968.2 359.2,933.5 359.2,858.6 360.2,858.6 360.2,933.5 361.2,933.5 361.2,858.6 362.2,862.8 362.2,968.2 363.2,968.2 363.2,844.9 364.2,844.9 364.2,933.5 365.2,933.5 365.2,862.8 366.2,862.8 366.2,933.5 367.2,933.5 367.2,862.8 368.2,862.8 368.2,933.5 369.2,968.2 369.2,862.8 370.2,862.8 370.2,933.5 371.2,933.5 371.2,862.8 372.2,862.8 372.2,933.5 373.2,933.5 373.2,862.8 374.2,862.8 374.2,933.5 375.2,933.5 375.2,862.8 376.2,858.6 376.2,968.2 377.2,933.5 377.2,862.8 378.2,862.8 378.2,933.5 379.2,968.2 379.2,867.4 380.2,867.4 380.2,968.2 381.2,933.5 381.2,862.8 382.2,862.8 382.2,933.5 383.2,933.5 383.2,862.8 384.2,867.4 384.2,933.5 385.2,968.2 385.2,867.4 386.2,867.4 386.2,968.2 387.2,968.2 387.2,867.4 388.2,867.4 388.2,933.5 389.2,933.5 389.2,867.4 390.2,867.4 390.2,933.5 391.2,933.5 391.2,867.4 392.2,867.4 392.2,968.2 393.2,968.2 393.2,862.8 394.2,862.8 394.2,968.2 395.2,968.2 395.2,867.4 396.2,867.4 396.2,968.2 397.2,933.5 397.2,867.4 398.2,867.4 398.2,933.5 399.2,968.2 399.2,867.4 400.2,867.4 400.2,968.2 401.2,933.5 401.2,872.6 402.2,867.4 402.2,933.5 403.2,968.2 403.2,867.4 404.2,872.6 404.2,968.2 405.2,933.5 405.2,872.6 406.2,872.6 406.2,933.5 407.2,933.5 407.2,872.6 408.2,872.6 408.2,968.2 409.2,968.2 409.2,872.6 410.2,872.6 410.2,968.2 411.2,933.5 411.2,872.6 412.2,872.6 412.2,933.5 413.2,968.2 413.2,872.6 414.2,872.6 414.2,968.2 415.2,933.5 415.2,872.6 416.2,867.4 416.2,933.5 417.2,968.2 417.2,872.6 418.2,872.6 418.2,968.2 419.2,933.5 419.2,872.6 420.2,872.6 420.2,933.5 421.2,968.2 421.2,872.6 422.2,872.6 422.2,968.2 423.2,933.5 423.2,872.6 424.2,862.8 424.2,933.5 425.2,968.2 425.2,872.6 426.2,872.6 426.2,933.5 427.2,968.2 427.2,872.6 428.2,872.6 428.2,968.2 429.2,933.5 429.2,872.6 430.2,878.4 430.2,933.5 431.2,933.5 431.2,867.4 432.2,867.4 432.2,968.2 433.2,968.2 433.2,872.6 434.2,878.4 434.2,933.5 435.2,968.2 435.2,878.4 436.2,878.4 436.2,968.2 437.2,933.5 437.2,878.4 438.2,878.4 438.2,933.5 439.2,968.2 439.2,878.4 440.2,878.4 440.2,968.2 441.2,933.5 441.2,878.4 442.2,878.4 442.2,933.5 443.2,968.2 443.2,878.4 444.2,878.4 444.2,968.2 445.2,968.2 445.2,878.4 446.2,878.4 446.2,968.2 447.2,968.2 447.2,878.4 448.2,878.4 448.2,968.2 449.2,968.2 449.2,878.4 450.2,878.4 450.2,968.2 451.2,968.2 451.2,878.4 452.2,878.4 452.2,968.2 453.2,933.5 453.2,878.4 454.2,878.4 454.2,933.5 455.2,933.5 455.2,878.4 456.2,878.4 456.2,968.2 457.2,968.2 457.2,878.4 458.2,878.4 458.2,968.2 459.2,968.2 459.2,878.4 460.2,878.4 460.2,968.2 461.2,933.5 461.2,878.4 462.2,878.4 462.2,933.5 463.2,933.5 463.2,878.4 464.2,885.2 464.2,933.5 465.2,933.5 465.2,885.2 466.2,878.4 466.2,933.5 467.2,933.5 467.2,878.4 468.2,885.2 468.2,933.5 469.2,933.5 469.2,878.4 470.2,885.2 470.2,933.5 471.2,933.5 471.2,878.4 472.2,878.4 472.2,968.2 473.2,968.2 473.2,878.4 474.2,878.4 474.2,933.5 475.2,968.2 475.2,878.4 476.2,885.2 476.2,968.2 477.2,933.5 477.2,885.2 478.2,885.2 478.2,933.5 479.2,968.2 479.2,885.2 480.2,885.2 480.2,968.2 481.2,968.2 481.2,885.2 482.2,885.2 482.2,968.2 483.2,933.5 483.2,885.2 484.2,885.2 484.2,968.2 485.2,968.2 485.2,885.2 486.2,885.2 486.2,968.2 487.2,933.5 487.2,885.2 488.2,885.2 488.2,933.5 489.2,933.5 489.2,885.2 490.2,885.2 490.2,968.2 491.2,968.2 491.2,885.2 492.2,878.4 492.2,933.5 493.2,933.5 493.2,878.4 494.2,885.2 494.2,968.2 495.2,968.2 495.2,885.2 496.2,872.6 496.2,933.5 497.2,933.5 497.2,885.2 498.2,885.2 498.2,968.2 499.2,968.2 499.2,885.2 500.2,885.2 500.2,968.2 501.2,933.5 501.2,885.2 502.2,885.2 502.2,968.2 503.2,933.5 503.2,885.2 504.2,885.2 504.2,933.5 505.2,933.5 505.2,872.6 506.2,885.2 506.2,968.2 507.2,968.2 507.2,885.2 508.2,885.2 508.2,968.2 509.2,968.2 509.2,885.2 510.2,885.2 510.2,933.5 511.2,933.5 511.2,885.2 512.2,885.2 512.2,933.5 513.2,968.2 513.2,885.2 514.2,885.2 514.2,968.2 515.2,933.5 515.2,885.2 516.2,867.4 516.2,933.5 517.2,968.2 517.2,867.4 518.2,885.2 518.2,933.5 519.2,933.5 519.2,885.2 520.2,885.2 520.2,933.5 521.2,933.5 521.2,885.2 522.2,885.2 522.2,968.2 523.2,968.2 523.2,885.2 524.2,885.2 524.2,933.5 525.2,933.5 525.2,885.2 526.2,885.2 526.2,933.5 527.2,933.5 527.2,885.2 528.2,885.2 528.2,933.5 529.2,968.2 529.2,885.2 530.2,885.2 530.2,933.5 531.2,933.5 531.2,885.2 532.2,885.2 532.2,968.2 533.2,968.2 533.2,885.2 534.2,885.2 534.2,933.5 535.2,933.5 535.2,885.2 536.2,885.2 536.2,933.5 537.2,968.2 537.2,885.2 538.2,885.2 538.2,933.5 539.2,968.2 539.2,885.2 540.2,885.2 540.2,968.2 541.2,968.2 541.2,885.2 542.2,885.2 542.2,968.2 543.2,933.5 543.2,893.2 544.2,893.2 544.2,933.5 545.2,933.5 545.2,885.2 546.2,885.2 546.2,968.2 547.2,968.2 547.2,878.4 548.2,885.2 548.2,968.2 549.2,968.2 549.2,893.2 550.2,893.2 550.2,933.5 551.2,933.5 551.2,885.2 552.2,885.2 552.2,933.5 553.2,933.5 553.2,893.2 554.2,885.2 554.2,933.5 555.2,933.5 555.2,885.2 556.2,893.2 556.2,933.5 557.2,933.5 557.2,893.2 558.2,885.2 558.2,968.2 559.2,968.2 559.2,885.2 560.2,893.2 560.2,968.2 561.2,933.5 561.2,893.2 562.2,893.2 562.2,933.5 563.2,933.5 563.2,893.2 564.2,893.2 564.2,968.2 565.2,968.2 565.2,893.2 566.2,893.2 566.2,933.5 567.2,968.2 567.2,893.2 568.2,893.2 568.2,933.5 569.2,933.5 569.2,893.2 570.2,893.2 570.2,933.5 571.2,933.5 571.2,893.2 572.2,893.2 572.2,968.2 573.2,968.2 573.2,893.2 574.2,893.2 574.2,968.2 575.2,968.2 575.2,893.2 576.2,893.2 576.2,933.5 577.2,933.5 577.2,893.2 578.2,893.2 578.2,933.5 579.2,933.5 579.2,893.2 580.2,893.2 580.2,968.2 581.2,933.5 581.2,893.2 582.2,893.2 582.2,933.5 583.2,968.2 583.2,872.6 584.2,893.2 584.2,933.5 585.2,933.5 585.2,893.2 586.2,893.2 586.2,933.5 587.2,933.5 587.2,893.2 588.2,893.2 588.2,933.5 589.2,968.2 589.2,893.2 590.2,893.2 590.2,968.2 591.2,933.5 591.2,893.2 592.2,893.2 592.2,933.5 593.2,933.5 593.2,893.2 594.2,893.2 594.2,968.2 595.2,933.5 595.2,893.2 596.2,885.2 596.2,933.5 597.2,933.5 597.2,893.2 598.2,893.2 598.2,933.5 599.2,968.2 599.2,893.2 600.2,893.2 600.2,968.2 601.2,968.2 601.2,893.2 602.2,893.2 602.2,968.2 603.2,968.2 603.2,893.2 604.2,893.2 604.2,968.2 605.2,968.2 605.2,893.2 606.2,885.2 606.2,933.5 607.2,933.5 607.2,893.2 608.2,893.2 608.2,968.2 609.2,933.5 609.2,893.2 610.2,893.2 610.2,933.5 611.2,933.5 611.2,893.2 612.2,893.2 612.2,933.5 613.2,968.2 613.2,893.2 614.2,893.2 614.2,933.5 615.2,933.5 615.2,893.2 616.2,893.2 616.2,933.5 617.2,933.5 617.2,893.2 618.2,893.2 618.2,968.2 619.2,968.2 619.2,893.2 620.2,893.2 620.2,968.2 621.2,933.5 621.2,893.2 622.2,885.2 622.2,933.5" fill="none" stroke="#484848" stroke-width="1.5" stroke-linejoin="bevel"/>
<path d="M118.2,968.2 118.2,589.4 118.4,593.6 118.4,602.3 118.7,609.6 118.7,597.5 119,601 119,616 119.2,621.6 119.2,604.4 119.4,607.8 119.4,628.1 119.7,636 119.7,610.9 120,613.7 120,643.5 120.2,649.8 120.2,616.5 120.4,619.7 120.4,654.7 120.7,659.3 120.7,623.7 121,628.2 121,664.4 121.2,670.5 121.2,633 122.2,650.2 122.2,684.9 123.2,691.5 123.2,661.2 124.2,669.4 124.2,696 125.2,699.5 125.2,675.5 126.2,680 126.2,702.8 127.2,705.4 127.2,683.9 128.2,687.1 128.2,707.6 129.2,709.5 129.2,689.9 130.2,692.5 130.2,711.4 131.2,713.3 131.2,695.1 132.2,697.7 132.2,715.3 133.2,717.4 133.2,700.3 134.2,702.9 134.2,722.2 135.2,725.2 135.2,705.3 136.2,707.7 136.2,725.3 137.2,728.3 137.2,710 138.2,712.2 138.2,730.4 139.2,733.1 139.2,711.1 140.2,709.4 140.2,735.5 141.2,737.9 141.2,718.3 142.2,718.4 142.2,739.6 143.2,741.3 143.2,722.2 144.2,724.2 144.2,743.7 145.2,745.3 145.2,726.9 146.2,728.8 146.2,746.3 147.2,746.8 147.2,728.6 148.2,732.4 148.2,755.6 149.2,757.4 149.2,734 150.2,735.3 150.2,751.3 151.2,753.6 151.2,736.8 152.2,738.8 152.2,771.9 153.2,756.9 153.2,740.3 154.2,740.6 154.2,758.6 155.2,760.7 155.2,743.4 156.2,744.7 156.2,762.5 157.2,764.4 157.2,745.6 158.2,730.7 158.2,766.3 159.2,767.7 159.2,735.6 160.2,747.8 160.2,769.6 161.2,773.7 161.2,750.3 162.2,751.6 162.2,772.6 163.2,774.4 163.2,751.6 164.2,752.9 164.2,776.2 165.2,778 165.2,756 166.2,757.2 166.2,780 167.2,781.7 167.2,755.7 168.2,756.8 168.2,783.5 169.2,786.4 169.2,757.9 170.2,759 170.2,788 171.2,789.8 171.2,761.8 172.2,762.6 172.2,791.4 173.2,793.3 173.2,763.6 174.2,765.1 174.2,794.7 175.2,796.3 175.2,766.1 176.2,759.3 176.2,802.9 177.2,799.4 177.2,750.6 178.2,751.5 178.2,800.9 179.2,806.4 179.2,768.4 180.2,771 180.2,810.3 181.2,804 181.2,771.9 182.2,770.2 182.2,806.4 183.2,810.3 183.2,771.1 184.2,773.6 184.2,811.6 185.2,813 185.2,774.5 186.2,776.8 186.2,811.6 187.2,813 187.2,777.6 188.2,777.5 188.2,817.5 189.2,819.1 189.2,778.3 190.2,778.7 190.2,817.5 191.2,817.5 191.2,779.5 192.2,780.3 192.2,819.1 193.2,820.7 193.2,781.2 194.2,782 194.2,822.5 195.2,824.3 195.2,783.8 196.2,784.6 196.2,826.1 197.2,828.1 197.2,783.6 198.2,784.4 198.2,828.1 199.2,828.1 199.2,783.6 200.2,784.3 200.2,832.3 201.2,834.5 201.2,785.2 202.2,785.9 202.2,832.3 203.2,832.3 203.2,786.7 204.2,787.4 204.2,834.5 205.2,834.5 205.2,791.1 206.2,791.8 206.2,836.9 207.2,839.4 207.2,792.6 208.2,793.3 208.2,839.4 209.2,839.4 209.2,794.3 210.2,795 210.2,842.1 211.2,844.9 211.2,791.9 212.2,792.5 212.2,844.9 213.2,844.9 213.2,789.9 214.2,796 214.2,848 215.2,848 215.2,796.7 216.2,799.4 216.2,854.7 217.2,851.2 217.2,800.1 218.2,800.2 218.2,851.2 219.2,851.2 219.2,800.9 220.2,799.3 220.2,854.7 221.2,854.7 221.2,800 222.2,801.8 222.2,858.6 223.2,858.6 223.2,804 224.2,800.6 224.2,858.6 225.2,858.6 225.2,801.8 226.2,790.6 226.2,858.6 227.2,862.8 227.2,805.2 228.2,806.4 228.2,862.8 229.2,862.8 229.2,802.9 230.2,806.4 230.2,862.8 231.2,867.4 231.2,805.2 232.2,807.7 232.2,867.4 233.2,867.4 233.2,807.7 234.2,810.3 234.2,867.4 235.2,872.6 235.2,811.6 236.2,813 236.2,872.6 237.2,872.6 237.2,813 238.2,814.4 238.2,872.6 239.2,878.4 239.2,813 240.2,813 240.2,878.4 241.2,878.4 241.2,811.6 242.2,811.6 242.2,885.2 243.2,885.2 243.2,815.9 244.2,815.9 244.2,893.2 245.2,893.2 245.2,815.9 246.2,815.9 246.2,893.2 247.2,893.2 247.2,817.5 248.2,817.5 248.2,893.2 249.2,893.2 249.2,819.1 250.2,820.7 250.2,893.2 251.2,893.2 251.2,819.1 252.2,820.7 252.2,903 253.2,903 253.2,822.5 254.2,822.5 254.2,903 255.2,903 255.2,819.1 256.2,820.7 256.2,903 257.2,903 257.2,824.3 258.2,824.3 258.2,903 259.2,903 259.2,826.1 260.2,826.1 260.2,915.7 261.2,915.7 261.2,826.1 262.2,826.1 262.2,915.7 263.2,915.7 263.2,826.1 264.2,824.3 264.2,915.7 265.2,915.7 265.2,822.5 266.2,826.1 266.2,915.7 267.2,915.7 267.2,828.1 268.2,828.1 268.2,915.7 269.2,915.7 269.2,819.1 270.2,819.1 270.2,915.7 271.2,915.7 271.2,828.1 272.2,817.5 272.2,915.7 273.2,915.7 273.2,830.1 274.2,828.1 274.2,915.7 275.2,915.7 275.2,813 276.2,830.1 276.2,915.7 277.2,915.7 277.2,830.1 278.2,830.1 278.2,933.5 279.2,933.5 279.2,828.1 280.2,828.1 280.2,933.5 281.2,933.5 281.2,832.3 282.2,832.3 282.2,933.5 283.2,933.5 283.2,832.3 284.2,832.3 284.2,933.5 285.2,933.5 285.2,832.3 286.2,832.3 286.2,933.5 287.2,933.5 287.2,834.5 288.2,834.5 288.2,933.5 289.2,933.5 289.2,836.9 290.2,836.9 290.2,933.5 291.2,933.5 291.2,836.9 292.2,834.5 292.2,933.5 293.2,933.5 293.2,832.3 294.2,834.5 294.2,933.5 295.2,933.5 295.2,834.5 296.2,836.9 296.2,933.5 297.2,933.5 297.2,836.9 298.2,839.4 298.2,933.5 299.2,933.5 299.2,834.5 300.2,839.4 300.2,933.5 301.2,933.5 301.2,839.4 302.2,839.4 302.2,933.5 303.2,933.5 303.2,839.4 304.2,842.1 304.2,933.5 305.2,933.5 305.2,842.1 306.2,842.1 306.2,968.2 307.2,933.5 307.2,842.1 308.2,839.4 308.2,933.5 309.2,933.5 309.2,842.1 310.2,839.4 310.2,933.5 311.2,933.5 311.2,842.1 312.2,842.1 312.2,933.5 313.2,933.5 313.2,842.1 314.2,842.1 314.2,933.5 315.2,933.5 315.2,844.9 316.2,844.9 316.2,933.5 317.2,933.5 317.2,842.1 318.2,842.1 318.2,933.5 319.2,933.5 319.2,844.9 320.2,844.9 320.2,933.5 321.2,968.2 321.2,848 322.2,848 322.2,968.2 323.2,968.2 323.2,839.4 324.2,839.4 324.2,933.5 325.2,933.5 325.2,844.9 326.2,844.9 326.2,968.2 327.2,968.2 327.2,824.3 328.2,824.3 328.2,968.2 329.2,933.5 329.2,848 330.2,848 330.2,933.5 331.2,968.2 331.2,851.2 332.2,851.2 332.2,933.5 333.2,933.5 333.2,848 334.2,851.2 334.2,933.5 335.2,933.5 335.2,836.9 336.2,848 336.2,968.2 337.2,968.2 337.2,851.2 338.2,851.2 338.2,933.5 339.2,933.5 339.2,848 340.2,851.2 340.2,933.5 341.2,933.5 341.2,851.2 342.2,848 342.2,933.5 343.2,933.5 343.2,851.2 344.2,851.2 344.2,933.5 345.2,933.5 345.2,851.2 346.2,854.7 346.2,933.5 347.2,933.5 347.2,851.2 348.2,851.2 348.2,933.5 349.2,968.2 349.2,854.7 350.2,848 350.2,933.5 351.2,933.5 351.2,848 352.2,854.7 352.2,933.5 353.2,933.5 353.2,858.6 354.2,854.7 354.2,933.5 355.2,933.5 355.2,854.7 356.2,830.1 356.2,933.5 357.2,933.5 357.2,830.1 358.2,858.6 358.2,933.5 359.2,968.2 359.2,858.6 360.2,854.7 360.2,968.2 361.2,968.2 361.2,858.6 362.2,858.6 362.2,968.2 363.2,933.5 363.2,839.4 364.2,858.6 364.2,933.5 365.2,933.5 365.2,858.6 366.2,858.6 366.2,968.2 367.2,933.5 367.2,858.6 368.2,858.6 368.2,933.5 369.2,933.5 369.2,858.6 370.2,858.6 370.2,933.5 371.2,933.5 371.2,862.8 372.2,854.7 372.2,933.5 373.2,933.5 373.2,854.7 374.2,858.6 374.2,968.2 375.2,968.2 375.2,862.8 376.2,862.8 376.2,933.5 377.2,933.5 377.2,862.8 378.2,854.7 378.2,933.5 379.2,933.5 379.2,854.7 380.2,862.8 380.2,933.5 381.2,968.2 381.2,862.8 382.2,862.8 382.2,933.5 383.2,968.2 383.2,867.4 384.2,867.4 384.2,968.2 385.2,933.5 385.2,862.8 386.2,867.4 386.2,968.2 387.2,968.2 387.2,862.8 388.2,862.8 388.2,968.2 389.2,933.5 389.2,867.4 390.2,867.4 390.2,933.5 391.2,933.5 391.2,867.4 392.2,862.8 392.2,933.5 393.2,933.5 393.2,867.4 394.2,854.7 394.2,933.5 395.2,933.5 395.2,867.4 396.2,862.8 396.2,933.5 397.2,968.2 397.2,867.4 398.2,867.4 398.2,968.2 399.2,968.2 399.2,867.4 400.2,867.4 400.2,968.2 401.2,968.2 401.2,867.4 402.2,867.4 402.2,933.5 403.2,933.5 403.2,867.4 404.2,867.4 404.2,933.5 405.2,968.2 405.2,867.4 406.2,867.4 406.2,933.5 407.2,933.5 407.2,872.6 408.2,867.4 408.2,933.5 409.2,933.5 409.2,867.4 410.2,867.4 410.2,933.5 411.2,933.5 411.2,867.4 412.2,867.4 412.2,933.5 413.2,968.2 413.2,872.6 414.2,867.4 414.2,933.5 415.2,933.5 415.2,872.6 416.2,872.6 416.2,933.5 417.2,933.5 417.2,872.6 418.2,872.6 418.2,933.5 419.2,933.5 419.2,872.6 420.2,872.6 420.2,933.5 421.2,933.5 421.2,867.4 422.2,867.4 422.2,933.5 423.2,933.5 423.2,872.6 424.2,872.6 424.2,933.5 425.2,968.2 425.2,867.4 426.2,867.4 426.2,968.2 427.2,968.2 427.2,872.6 428.2,872.6 428.2,933.5 429.2,933.5 429.2,872.6 430.2,872.6 430.2,933.5 431.2,933.5 431.2,862.8 432.2,872.6 432.2,933.5 433.2,933.5 433.2,872.6 434.2,862.8 434.2,933.5 435.2,933.5 435.2,862.8 436.2,872.6 436.2,933.5 437.2,933.5 437.2,878.4 438.2,872.6 438.2,933.5 439.2,968.2 439.2,872.6 440.2,872.6 440.2,968.2 441.2,933.5 441.2,872.6 442.2,878.4 442.2,933.5 443.2,933.5 443.2,878.4 444.2,872.6 444.2,968.2 445.2,968.2 445.2,872.6 446.2,878.4 446.2,968.2 447.2,968.2 447.2,878.4 448.2,872.6 448.2,968.2 449.2,933.5 449.2,878.4 450.2,878.4 450.2,968.2 451.2,933.5 451.2,878.4 452.2,878.4 452.2,933.5 453.2,933.5 453.2,878.4 454.2,878.4 454.2,933.5 455.2,933.5 455.2,878.4 456.2,878.4 456.2,933.5 457.2,933.5 457.2,878.4 458.2,878.4 458.2,933.5 459.2,933.5 459.2,878.4 460.2,878.4 460.2,968.2 461.2,933.5 461.2,878.4 462.2,878.4 462.2,933.5 463.2,933.5 463.2,878.4 464.2,878.4 464.2,933.5 465.2,933.5 465.2,878.4 466.2,878.4 466.2,933.5 467.2,968.2 467.2,878.4 468.2,878.4 468.2,968.2 469.2,968.2 469.2,878.4 470.2,878.4 470.2,968.2 471.2,968.2 471.2,867.4 472.2,867.4 472.2,933.5 473.2,968.2 473.2,878.4 474.2,878.4 474.2,968.2 475.2,968.2 475.2,878.4 476.2,878.4 476.2,968.2 477.2,968.2 477.2,878.4 478.2,878.4 478.2,933.5 479.2,933.5 479.2,878.4 480.2,872.6 480.2,933.5 481.2,933.5 481.2,872.6 482.2,878.4 482.2,933.5 483.2,933.5 483.2,878.4 484.2,878.4 484.2,933.5 485.2,933.5 485.2,878.4 486.2,878.4 486.2,968.2 487.2,968.2 487.2,885.2 488.2,885.2 488.2,968.2 489.2,968.2 489.2,885.2 490.2,878.4 490.2,933.5 491.2,933.5 491.2,878.4 492.2,885.2 492.2,933.5 493.2,933.5 493.2,872.6 494.2,885.2 494.2,933.5 495.2,968.2 495.2,872.6 496.2,885.2 496.2,968.2 497.2,933.5 497.2,885.2 498.2,885.2 498.2,933.5 499.2,933.5 499.2,878.4 500.2,885.2 500.2,933.5 501.2,933.5 501.2,872.6 502.2,878.4 502.2,933.5 503.2,933.5 503.2,878.4 504.2,885.2 504.2,933.5 505.2,933.5 505.2,885.2 506.2,878.4 506.2,933.5 507.2,933.5 507.2,878.4 508.2,885.2 508.2,933.5 509.2,933.5 509.2,885.2 510.2,885.2 510.2,933.5 511.2,968.2 511.2,885.2 512.2,885.2 512.2,968.2 513.2,968.2 513.2,885.2 514.2,885.2 514.2,933.5 515.2,933.5 515.2,885.2 516.2,885.2 516.2,933.5 517.2,968.2 517.2,885.2 518.2,885.2 518.2,933.5 519.2,933.5 519.2,858.6 520.2,885.2 520.2,933.5 521.2,933.5 521.2,885.2 522.2,885.2 522.2,933.5 523.2,933.5 523.2,885.2 524.2,885.2 524.2,968.2 525.2,968.2 525.2,885.2 526.2,885.2 526.2,968.2 527.2,968.2 527.2,885.2 528.2,885.2 528.2,933.5 529.2,933.5 529.2,885.2 530.2,885.2 530.2,968.2 531.2,933.5 531.2,885.2 532.2,885.2 532.2,933.5 533.2,933.5 533.2,885.2 534.2,885.2 534.2,933.5 535.2,933.5 535.2,885.2 536.2,885.2 536.2,933.5 537.2,933.5 537.2,885.2 538.2,885.2 538.2,933.5 539.2,968.2 539.2,885.2 540.2,885.2 540.2,968.2 541.2,968.2 541.2,885.2 542.2,885.2 542.2,968.2 543.2,933.5 543.2,885.2 544.2,885.2 544.2,933.5 545.2,933.5 545.2,885.2 546.2,885.2 546.2,933.5 547.2,933.5 547.2,885.2 548.2,885.2 548.2,968.2 549.2,968.2 549.2,885.2 550.2,885.2 550.2,968.2 551.2,968.2 551.2,885.2 552.2,885.2 552.2,933.5 553.2,933.5 553.2,885.2 554.2,885.2 554.2,933.5 555.2,968.2 555.2,885.2 556.2,885.2 556.2,968.2 557.2,933.5 557.2,885.2 558.2,885.2 558.2,933.5 559.2,933.5 559.2,893.2 560.2,885.2 560.2,968.2 561.2,968.2 561.2,885.2 562.2,878.4 562.2,968.2 563.2,968.2 563.2,878.4 564.2,893.2 564.2,933.5 565.2,968.2 565.2,893.2 566.2,893.2 566.2,968.2 567.2,933.5 567.2,893.2 568.2,893.2 568.2,933.5 569.2,968.2 569.2,885.2 570.2,893.2 570.2,968.2 571.2,968.2 571.2,893.2 572.2,893.2 572.2,968.2 573.2,933.5 573.2,893.2 574.2,893.2 574.2,968.2 575.2,968.2 575.2,893.2 576.2,893.2 576.2,968.2 577.2,933.5 577.2,893.2 578.2,893.2 578.2,933.5 579.2,933.5 579.2,893.2 580.2,893.2 580.2,933.5 581.2,933.5 581.2,893.2 582.2,893.2 582.2,933.5 583.2,933.5 583.2,893.2 584.2,893.2 584.2,933.5 585.2,933.5 585.2,893.2 586.2,893.2 586.2,933.5 587.2,933.5 587.2,885.2 588.2,893.2 588.2,968.2 589.2,968.2 589.2,893.2 590.2,893.2 590.2,933.5 591.2,933.5 591.2,885.2 592.2,885.2 592.2,968.2 593.2,968.2 593.2,885.2 594.2,885.2 594.2,933.5 595.2,968.2 595.2,893.2 596.2,893.2 596.2,968.2 597.2,968.2 597.2,893.2 598.2,893.2 598.2,968.2 599.2,933.5 599.2,893.2 600.2,893.2 600.2,968.2 601.2,933.5 601.2,893.2 602.2,893.2 602.2,933.5 603.2,933.5 603.2,893.2 604.2,885.2 604.2,933.5 605.2,968.2 605.2,893.2 606.2,893.2 606.2,933.5 607.2,933.5 607.2,885.2 608.2,885.2 608.2,933.5 609.2,933.5 609.2,893.2 610.2,893.2 610.2,933.5 611.2,933.5 611.2,893.2 612.2,893.2 612.2,968.2 613.2,968.2 613.2,893.2 614.2,893.2 614.2,933.5 615.2,933.5 615.2,893.2 616.2,893.2 616.2,968.2 617.2,968.2 617.2,893.2 618.2,893.2 618.2,968.2 619.2,968.2 619.2,893.2 620.2,893.2 620.2,968.2 621.2,968.2 621.2,893.2 622.2,893.2 622.2,968.2" fill="none" stroke="#eb3838" stroke-width="1.5" stroke-linejoin="bevel"/>
<path d="M118.2,968.2 118.2,589.4 118.4,592.7 118.4,600.9 118.7,607.1 118.7,595.7 119,598.6 119,612.6 119.2,617.6 119.2,601.5 119.4,604.1 119.4,623.7 119.7,631.2 119.7,606.6 120,608.9 120,638.5 120.2,644.7 120.2,611.2 120.4,614.1 120.4,650 120.7,654.8 120.7,618.1 121,622.6 121,659.2 121.2,663.2 121.2,627.3 122.2,645.3 122.2,676.2 123.2,685.3 123.2,656.5 124.2,664.3 124.2,691.2 125.2,695.9 125.2,670.3 126.2,675 126.2,699.7 127.2,703 127.2,678.9 128.2,682 128.2,705.7 129.2,708.1 129.2,684.8 130.2,687.5 130.2,709.8 131.2,711.5 131.2,688.5 132.2,690.6 132.2,712.9 133.2,714.3 133.2,695 134.2,697.5 134.2,716 135.2,717.2 135.2,696.6 136.2,698.4 136.2,719.3 137.2,720.4 137.2,704.3 138.2,706.4 138.2,722.3 139.2,724.5 139.2,708.6 140.2,711.5 140.2,726.6 141.2,728.8 141.2,713 142.2,715.7 142.2,730.6 143.2,732.7 143.2,717.8 144.2,719.8 144.2,735.6 145.2,736.4 145.2,721.8 146.2,723.6 146.2,738.2 147.2,740.2 147.2,723.7 148.2,725.9 148.2,742 149.2,744.8 149.2,729.3 150.2,730.9 150.2,746.4 151.2,747.2 151.2,732 152.2,733.5 152.2,748.7 153.2,750.4 153.2,727.1 154.2,736.4 154.2,750.6 155.2,752 155.2,737.8 156.2,739.5 156.2,754.4 157.2,755.7 157.2,736.3 158.2,737.6 158.2,757.5 159.2,757.5 159.2,730.2 160.2,731.4 160.2,760.1 161.2,761.3 161.2,746 162.2,745.9 162.2,761.5 163.2,761.5 163.2,744.1 164.2,745.3 164.2,762.7 165.2,764.4 165.2,746.9 166.2,748.7 166.2,766.4 167.2,767.6 167.2,749.8 168.2,749.4 168.2,769.4 169.2,770.6 169.2,750.5 170.2,756.6 170.2,770.7 171.2,772.1 171.2,757.6 172.2,755.7 172.2,772.8 173.2,774.5 173.2,756.7 174.2,752 174.2,777.4 175.2,778.9 175.2,753 176.2,761.8 176.2,782.4 177.2,782.5 177.2,760 178.2,760.9 178.2,784 179.2,784.9 179.2,761.9 180.2,764.2 180.2,786.4 181.2,794.5 181.2,765.6 182.2,765.1 182.2,796 183.2,789.5 183.2,766 184.2,768.1 184.2,791 185.2,792.5 185.2,769.4 186.2,770.9 186.2,799.6 187.2,801 187.2,770.3 188.2,771.1 188.2,797.9 189.2,798.7 189.2,772.8 190.2,773.6 190.2,800.1 191.2,802.9 191.2,773.3 192.2,773.9 192.2,802.9 193.2,804 193.2,775.5 194.2,776.3 194.2,805.2 195.2,807.7 195.2,778.5 196.2,779.3 196.2,808.9 197.2,808.9 197.2,778.9 198.2,779.7 198.2,810.3 199.2,813 199.2,782.2 200.2,782.9 200.2,814.4 201.2,815.9 201.2,777.1 202.2,782.2 202.2,815.9 203.2,815.9 203.2,782.9 204.2,785.8 204.2,817.5 205.2,819.1 205.2,783 206.2,783.8 206.2,819.1 207.2,822.5 207.2,787.4 208.2,788.6 208.2,822.5 209.2,822.5 209.2,789.6 210.2,790.3 210.2,824.3 211.2,824.3 211.2,790.2 212.2,790.9 212.2,824.3 213.2,826.1 213.2,791.3 214.2,792 214.2,828.1 215.2,826.1 215.2,792.3 216.2,793 216.2,828.1 217.2,828.1 217.2,792.2 218.2,793.3 218.2,830.1 219.2,832.3 219.2,796.1 220.2,796.7 220.2,832.3 221.2,832.3 221.2,796.1 222.2,796.8 222.2,834.5 223.2,834.5 223.2,796.8 224.2,797.9 224.2,836.9 225.2,839.4 225.2,798.5 226.2,795.9 226.2,836.9 227.2,836.9 227.2,800.2 228.2,800.9 228.2,839.4 229.2,842.1 229.2,802.9 230.2,802.9 230.2,842.1 231.2,842.1 231.2,804 232.2,804 232.2,844.9 233.2,844.9 233.2,802.9 234.2,805.2 234.2,844.9 235.2,851.2 235.2,805.2 236.2,807.7 236.2,848 237.2,848 237.2,807.7 238.2,808.9 238.2,851.2 239.2,851.2 239.2,808.9 240.2,808.9 240.2,851.2 241.2,851.2 241.2,810.3 242.2,810.3 242.2,854.7 243.2,858.6 243.2,811.6 244.2,808.9 244.2,858.6 245.2,858.6 245.2,810.3 246.2,811.6 246.2,858.6 247.2,878.4 247.2,814.4 248.2,811.6 248.2,858.6 249.2,858.6 249.2,811.6 250.2,815.9 250.2,862.8 251.2,862.8 251.2,815.9 252.2,814.4 252.2,862.8 253.2,867.4 253.2,815.9 254.2,815.9 254.2,867.4 255.2,867.4 255.2,817.5 256.2,817.5 256.2,867.4 257.2,867.4 257.2,814.4 258.2,814.4 258.2,867.4 259.2,867.4 259.2,820.7 260.2,820.7 260.2,872.6 261.2,867.4 261.2,819.1 262.2,820.7 262.2,872.6 263.2,885.2 263.2,808.9 264.2,822.5 264.2,872.6 265.2,872.6 265.2,822.5 266.2,819.1 266.2,872.6 267.2,872.6 267.2,820.7 268.2,824.3 268.2,872.6 269.2,872.6 269.2,822.5 270.2,824.3 270.2,878.4 271.2,878.4 271.2,824.3 272.2,826.1 272.2,872.6 273.2,878.4 273.2,826.1 274.2,826.1 274.2,878.4 275.2,878.4 275.2,822.5 276.2,826.1 276.2,878.4 277.2,878.4 277.2,826.1 278.2,828.1 278.2,878.4 279.2,878.4 279.2,828.1 280.2,828.1 280.2,878.4 281.2,878.4 281.2,826.1 282.2,828.1 282.2,885.2 283.2,885.2 283.2,826.1 284.2,828.1 284.2,885.2 285.2,878.4 285.2,830.1 286.2,830.1 286.2,878.4 287.2,885.2 287.2,830.1 288.2,830.1 288.2,885.2 289.2,885.2 289.2,830.1 290.2,832.3 290.2,885.2 291.2,885.2 291.2,832.3 292.2,832.3 292.2,885.2 293.2,885.2 293.2,832.3 294.2,832.3 294.2,885.2 295.2,885.2 295.2,832.3 296.2,832.3 296.2,885.2 297.2,885.2 297.2,832.3 298.2,832.3 298.2,885.2 299.2,893.2 299.2,832.3 300.2,832.3 300.2,893.2 301.2,893.2 301.2,834.5 302.2,834.5 302.2,893.2 303.2,893.2 303.2,832.3 304.2,832.3 304.2,903 305.2,915.7 305.2,834.5 306.2,834.5 306.2,893.2 307.2,893.2 307.2,836.9 308.2,836.9 308.2,893.2 309.2,893.2 309.2,832.3 310.2,832.3 310.2,893.2 311.2,893.2 311.2,839.4 312.2,839.4 312.2,903 313.2,903 313.2,836.9 314.2,839.4 314.2,903 315.2,903 315.2,839.4 316.2,839.4 316.2,903 317.2,915.7 317.2,839.4 318.2,839.4 318.2,903 319.2,915.7 319.2,842.1 320.2,842.1 320.2,915.7 321.2,915.7 321.2,842.1 322.2,842.1 322.2,915.7 323.2,915.7 323.2,842.1 324.2,842.1 324.2,915.7 325.2,915.7 325.2,839.4 326.2,842.1 326.2,915.7 327.2,915.7 327.2,842.1 328.2,842.1 328.2,915.7 329.2,933.5 329.2,842.1 330.2,842.1 330.2,968.2 331.2,968.2 331.2,832.3 332.2,842.1 332.2,915.7 333.2,915.7 333.2,844.9 334.2,844.9 334.2,933.5 335.2,933.5 335.2,844.9 336.2,844.9 336.2,933.5 337.2,933.5 337.2,844.9 338.2,848 338.2,933.5 339.2,933.5 339.2,839.4 340.2,848 340.2,933.5 341.2,933.5 341.2,848 342.2,844.9 342.2,933.5 343.2,933.5 343.2,848 344.2,848 344.2,933.5 345.2,933.5 345.2,851.2 346.2,848 346.2,968.2 347.2,933.5 347.2,848 348.2,851.2 348.2,933.5 349.2,933.5 349.2,851.2 350.2,851.2 350.2,933.5 351.2,968.2 351.2,848 352.2,834.5 352.2,933.5 353.2,933.5 353.2,834.5 354.2,851.2 354.2,968.2 355.2,968.2 355.2,848 356.2,851.2 356.2,968.2 357.2,933.5 357.2,851.2 358.2,851.2 358.2,968.2 359.2,968.2 359.2,851.2 360.2,854.7 360.2,968.2 361.2,933.5 361.2,854.7 362.2,848 362.2,968.2 363.2,968.2 363.2,842.1 364.2,842.1 364.2,933.5 365.2,933.5 365.2,854.7 366.2,851.2 366.2,933.5 367.2,968.2 367.2,851.2 368.2,851.2 368.2,933.5 369.2,933.5 369.2,854.7 370.2,854.7 370.2,933.5 371.2,968.2 371.2,822.5 372.2,858.6 372.2,968.2 373.2,933.5 373.2,858.6 374.2,858.6 374.2,933.5 375.2,968.2 375.2,854.7 376.2,858.6 376.2,968.2 377.2,968.2 377.2,858.6 378.2,858.6 378.2,933.5 379.2,933.5 379.2,858.6 380.2,858.6 380.2,968.2 381.2,968.2 381.2,858.6 382.2,858.6 382.2,968.2 383.2,968.2 383.2,858.6 384.2,858.6 384.2,968.2 385.2,968.2 385.2,858.6 386.2,858.6 386.2,933.5 387.2,933.5 387.2,858.6 388.2,858.6 388.2,933.5 389.2,933.5 389.2,858.6 390.2,854.7 390.2,933.5 391.2,933.5 391.2,862.8 392.2,862.8 392.2,933.5 393.2,933.5 393.2,862.8 394.2,858.6 394.2,933.5 395.2,933.5 395.2,858.6 396.2,858.6 396.2,968.2 397.2,968.2 397.2,858.6 398.2,862.8 398.2,933.5 399.2,933.5 399.2,862.8 400.2,862.8 400.2,933.5 401.2,933.5 401.2,862.8 402.2,858.6 402.2,933.5 403.2,933.5 403.2,862.8 404.2,862.8 404.2,933.5 405.2,933.5 405.2,862.8 406.2,862.8 406.2,933.5 407.2,933.5 407.2,862.8 408.2,862.8 408.2,933.5 409.2,933.5 409.2,867.4 410.2,867.4 410.2,933.5 411.2,933.5 411.2,867.4 412.2,862.8 412.2,933.5 413.2,933.5 413.2,854.7 414.2,854.7 414.2,933.5 415.2,968.2 415.2,862.8 416.2,862.8 416.2,968.2 417.2,968.2 417.2,867.4 418.2,867.4 418.2,933.5 419.2,968.2 419.2,867.4 420.2,867.4 420.2,933.5 421.2,933.5 421.2,867.4 422.2,867.4 422.2,933.5 423.2,933.5 423.2,867.4 424.2,867.4 424.2,933.5 425.2,933.5 425.2,867.4 426.2,867.4 426.2,968.2 427.2,968.2 427.2,867.4 428.2,867.4 428.2,933.5 429.2,968.2 429.2,867.4 430.2,867.4 430.2,933.5 431.2,933.5 431.2,862.8 432.2,862.8 432.2,968.2 433.2,968.2 433.2,867.4 434.2,872.6 434.2,933.5 435.2,933.5 435.2,872.6 436.2,867.4 436.2,933.5 437.2,933.5 437.2,872.6 438.2,872.6 438.2,933.5 439.2,933.5 439.2,872.6 440.2,872.6 440.2,968.2 441.2,933.5 441.2,872.6 442.2,867.4 442.2,933.5 443.2,933.5 443.2,867.4 444.2,867.4 444.2,933.5 445.2,968.2 445.2,867.4 446.2,862.8 446.2,968.2 447.2,968.2 447.2,872.6 448.2,872.6 448.2,933.5 449.2,933.5 449.2,862.8 450.2,872.6 450.2,968.2 451.2,968.2 451.2,872.6 452.2,862.8 452.2,968.2 453.2,968.2 453.2,872.6 454.2,872.6 454.2,968.2 455.2,933.5 455.2,867.4 456.2,872.6 456.2,933.5 457.2,933.5 457.2,872.6 458.2,872.6 458.2,933.5 459.2,933.5 459.2,872.6 460.2,872.6 460.2,933.5 461.2,933.5 461.2,872.6 462.2,872.6 462.2,933.5 463.2,933.5 463.2,872.6 464.2,872.6 464.2,933.5 465.2,933.5 465.2,872.6 466.2,872.6 466.2,933.5 467.2,933.5 467.2,872.6 468.2,878.4 468.2,933.5 469.2,933.5 469.2,878.4 470.2,872.6 470.2,933.5 471.2,968.2 471.2,872.6 472.2,872.6 472.2,933.5 473.2,933.5 473.2,872.6 474.2,872.6 474.2,933.5 475.2,933.5 475.2,872.6 476.2,872.6 476.2,968.2 477.2,933.5 477.2,872.6 478.2,878.4 478.2,933.5 479.2,968.2 479.2,878.4 480.2,878.4 480.2,968.2 481.2,933.5 481.2,878.4 482.2,878.4 482.2,933.5 483.2,968.2 483.2,878.4 484.2,878.4 484.2,968.2 485.2,933.5 485.2,872.6 486.2,878.4 486.2,933.5 487.2,933.5 487.2,878.4 488.2,878.4 488.2,968.2 489.2,933.5 489.2,872.6 490.2,872.6 490.2,933.5 491.2,933.5 491.2,878.4 492.2,878.4 492.2,933.5 493.2,933.5 493.2,872.6 494.2,872.6 494.2,968.2 495.2,933.5 495.2,878.4 496.2,872.6 496.2,933.5 497.2,933.5 497.2,878.4 498.2,878.4 498.2,968.2 499.2,968.2 499.2,878.4 500.2,878.4 500.2,968.2 501.2,968.2 501.2,878.4 502.2,872.6 502.2,933.5 503.2,933.5 503.2,878.4 504.2,878.4 504.2,968.2 505.2,933.5 505.2,878.4 506.2,872.6 506.2,933.5 507.2,933.5 507.2,872.6 508.2,862.8 508.2,933.5 509.2,933.5 509.2,878.4 510.2,878.4 510.2,933.5 511.2,968.2 511.2,878.4 512.2,878.4 512.2,968.2 513.2,968.2 513.2,878.4 514.2,878.4 514.2,933.5 515.2,933.5 515.2,878.4 516.2,878.4 516.2,933.5 517.2,933.5 517.2,878.4 518.2,878.4 518.2,968.2 519.2,968.2 519.2,878.4 520.2,878.4 520.2,968.2 521.2,933.5 521.2,878.4 522.2,878.4 522.2,933.5 523.2,933.5 523.2,878.4 524.2,878.4 524.2,933.5 525.2,968.2 525.2,872.6 526.2,872.6 526.2,968.2 527.2,933.5 527.2,878.4 528.2,878.4 528.2,933.5 529.2,933.5 529.2,878.4 530.2,878.4 530.2,933.5 531.2,933.5 531.2,878.4 532.2,878.4 532.2,933.5 533.2,933.5 533.2,885.2 534.2,885.2 534.2,933.5 535.2,933.5 535.2,872.6 536.2,872.6 536.2,968.2 537.2,933.5 537.2,878.4 538.2,872.6 538.2,933.5 539.2,933.5 539.2,878.4 540.2,878.4 540.2,933.5 541.2,933.5 541.2,878.4 542.2,878.4 542.2,968.2 543.2,968.2 543.2,885.2 544.2,885.2 544.2,933.5 545.2,933.5 545.2,878.4 546.2,878.4 546.2,968.2 547.2,968.2 547.2,885.2 548.2,885.2 548.2,968.2 549.2,968.2 549.2,878.4 550.2,878.4 550.2,968.2 551.2,933.5 551.2,885.2 552.2,885.2 552.2,933.5 553.2,933.5 553.2,878.4 554.2,878.4 554.2,933.5 555.2,968.2 555.2,878.4 556.2,885.2 556.2,933.5 557.2,933.5 557.2,885.2 558.2,878.4 558.2,933.5 559.2,933.5 559.2,878.4 560.2,885.2 560.2,933.5 561.2,933.5 561.2,885.2 562.2,885.2 562.2,933.5 563.2,933.5 563.2,878.4 564.2,878.4 564.2,933.5 565.2,933.5 565.2,885.2 566.2,885.2 566.2,933.5 567.2,933.5 567.2,878.4 568.2,878.4 568.2,933.5 569.2,933.5 569.2,885.2 570.2,885.2 570.2,933.5 571.2,968.2 571.2,878.4 572.2,885.2 572.2,933.5 573.2,933.5 573.2,885.2 574.2,885.2 574.2,968.2 575.2,968.2 575.2,885.2 576.2,885.2 576.2,933.5 577.2,933.5 577.2,867.4 578.2,885.2 578.2,933.5 579.2,933.5 579.2,885.2 580.2,885.2 580.2,933.5 581.2,933.5 581.2,885.2 582.2,878.4 582.2,968.2 583.2,968.2 583.2,878.4 584.2,885.2 584.2,968.2 585.2,933.5 585.2,885.2 586.2,885.2 586.2,933.5 587.2,968.2 587.2,885.2 588.2,885.2 588.2,933.5 589.2,933.5 589.2,885.2 590.2,885.2 590.2,968.2 591.2,933.5 591.2,885.2 592.2,885.2 592.2,933.5 593.2,933.5 593.2,885.2 594.2,885.2 594.2,933.5 595.2,968.2 595.2,872.6 596.2,885.2 596.2,968.2 597.2,933.5 597.2,878.4 598.2,878.4 598.2,968.2 599.2,968.2 599.2,885.2 600.2,885.2 600.2,933.5 601.2,933.5 601.2,885.2 602.2,885.2 602.2,933.5 603.2,933.5 603.2,885.2 604.2,885.2 604.2,968.2 605.2,933.5 605.2,885.2 606.2,885.2 606.2,933.5 607.2,933.5 607.2,885.2 608.2,885.2 608.2,933.5 609.2,933.5 609.2,885.2 610.2,885.2 610.2,968.2 611.2,933.5 611.2,885.2 612.2,885.2 612.2,933.5 613.2,968.2 613.2,885.2 614.2,885.2 614.2,968.2 615.2,933.5 615.2,885.2 616.2,893.2 616.2,933.5 617.2,933.5 617.2,893.2 618.2,885.2 618.2,968.2 619.2,968.2 619.2,885.2 620.2,885.2 620.2,933.5 621.2,933.5 621.2,885.2 622.2,885.2 622.2,933.5" fill="none" stroke="#50af5a" stroke-width="1.5" stroke-linejoin="bevel"/>
<path d="M118.2,968.2 118.2,589.4 118.4,591.7 118.4,600.1 118.7,605.6 118.7,594.1 119,596.5 119,610.1 119.2,614.6 119.2,598.9 119.4,601.2 119.4,620.1 119.7,626.9 119.7,603.5 120,605.7 120,633.7 120.2,639.8 120.2,607.9 120.4,611.3 120.4,645.1 120.7,650.5 120.7,616.4 121,621.9 121,655.5 121.2,660.1 121.2,626.6 122.2,640.6 122.2,672.3 123.2,680.3 123.2,650.3 124.2,657.5 124.2,685.5 125.2,689.4 125.2,663.2 126.2,667.2 126.2,692.6 127.2,695.2 127.2,670.7 128.2,674.3 128.2,697.7 129.2,700.2 129.2,677 130.2,679.6 130.2,702.7 131.2,705 131.2,681.7 132.2,683.7 132.2,707.1 133.2,709.1 133.2,684.2 134.2,688.7 134.2,710.7 135.2,713 135.2,692.1 136.2,695.1 136.2,714.8 137.2,716.2 137.2,697.6 138.2,698.8 138.2,718.1 139.2,719.9 139.2,700.9 140.2,703.9 140.2,722.2 141.2,724 141.2,706 142.2,700.1 142.2,725.1 143.2,727 143.2,701.5 144.2,711.7 144.2,728.7 145.2,729.9 145.2,714 146.2,715.3 146.2,732.3 147.2,738.2 147.2,717 148.2,712.5 148.2,740.1 149.2,736.1 149.2,719.2 150.2,720.7 150.2,739.6 151.2,747.2 151.2,718.5 152.2,719.1 152.2,749.2 153.2,743 153.2,720.3 154.2,726.8 154.2,744.6 155.2,746.4 155.2,728.1 156.2,730 156.2,747.1 157.2,748.6 157.2,731.4 158.2,732.4 158.2,751.7 159.2,753 159.2,733.6 160.2,731.9 160.2,754 161.2,755.2 161.2,733 162.2,728.1 162.2,756.4 163.2,755.8 163.2,734.1 164.2,735.1 164.2,757.8 165.2,761.5 165.2,739.4 166.2,740.1 166.2,760.6 167.2,761.4 167.2,740.9 168.2,739.9 168.2,762.1 169.2,763 169.2,740.8 170.2,742.9 170.2,762.4 171.2,763.4 171.2,737.5 172.2,738.4 172.2,766.3 173.2,767.5 173.2,744.7 174.2,745.6 174.2,767.9 175.2,769.7 175.2,749.1 176.2,750 176.2,769.4 177.2,770.7 177.2,747.8 178.2,748.8 178.2,774.5 179.2,774.2 179.2,748 180.2,754 180.2,775.6 181.2,780.2 181.2,755 182.2,748.3 182.2,781.6 183.2,799.9 183.2,749.5 184.2,754.7 184.2,781.7 185.2,782.7 185.2,758.9 186.2,753.4 186.2,785.3 187.2,784.5 187.2,754.4 188.2,756.4 188.2,785.7 189.2,789.6 189.2,762.6 190.2,753.2 190.2,787.1 191.2,788.2 191.2,754.1 192.2,765.9 192.2,789.3 193.2,792.4 193.2,763.3 194.2,764.1 194.2,793.6 195.2,793.7 195.2,763.9 196.2,764.7 196.2,795.1 197.2,796.6 197.2,767.2 198.2,767.9 198.2,798.1 199.2,799.4 199.2,770.9 200.2,769.7 200.2,800.8 201.2,802.9 201.2,767.6 202.2,770.9 202.2,804 203.2,808.9 203.2,773.1 204.2,773.8 204.2,810.3 205.2,808.9 205.2,773.5 206.2,774.2 206.2,811.6 207.2,813 207.2,764.3 208.2,764.9 208.2,811.6 209.2,813 209.2,776.6 210.2,778.3 210.2,814.4 211.2,815.9 211.2,779.5 212.2,780.1 212.2,815.9 213.2,817.5 213.2,775.4 214.2,776 214.2,819.1 215.2,819.1 215.2,773.3 216.2,781.4 216.2,820.7 217.2,820.7 217.2,782 218.2,761.3 218.2,820.7 219.2,822.5 219.2,798.1 220.2,780.8 220.2,822.5 221.2,824.3 221.2,783.9 222.2,784.2 222.2,826.1 223.2,828.1 223.2,782.9 224.2,783.4 224.2,828.1 225.2,828.1 225.2,783.2 226.2,783.7 226.2,830.1 227.2,832.3 227.2,786.5 228.2,787.1 228.2,832.3 229.2,839.4 229.2,787 230.2,790.2 230.2,839.4 231.2,834.5 231.2,787.7 232.2,796.4 232.2,836.9 233.2,836.9 233.2,792.2 234.2,788.3 234.2,839.4 235.2,839.4 235.2,786.7 236.2,794.4 236.2,839.4 237.2,842.1 237.2,795.1 238.2,793.1 238.2,842.1 239.2,842.1 239.2,792.4 240.2,792.4 240.2,844.9 241.2,844.9 241.2,796.2 242.2,796.9 242.2,848 243.2,848 243.2,798.9 244.2,802.9 244.2,848 245.2,848 245.2,797.4 246.2,794.9 246.2,848 247.2,848 247.2,799.2 248.2,799.9 248.2,848 249.2,851.2 249.2,802.9 250.2,804 250.2,851.2 251.2,851.2 251.2,802.9 252.2,802.9 252.2,851.2 253.2,854.7 253.2,802.9 254.2,807.7 254.2,854.7 255.2,851.2 255.2,814.4 256.2,814.4 256.2,854.7 257.2,854.7 257.2,807.7 258.2,807.7 258.2,858.6 259.2,854.7 259.2,808.9 260.2,808.9 260.2,854.7 261.2,858.6 261.2,805.2 262.2,805.2 262.2,858.6 263.2,858.6 263.2,810.3 264.2,808.9 264.2,858.6 265.2,858.6 265.2,801.4 266.2,808.9 266.2,858.6 267.2,858.6 267.2,810.3 268.2,811.6 268.2,862.8 269.2,862.8 269.2,813 270.2,815.9 270.2,862.8 271.2,862.8 271.2,805.2 272.2,808.9 272.2,862.8 273.2,867.4 273.2,811.6 274.2,814.4 274.2,862.8 275.2,862.8 275.2,813 276.2,813 276.2,867.4 277.2,867.4 277.2,815.9 278.2,824.3 278.2,867.4 279.2,867.4 279.2,805.2 280.2,805.2 280.2,867.4 281.2,867.4 281.2,814.4 282.2,814.4 282.2,867.4 283.2,872.6 283.2,815.9 284.2,815.9 284.2,872.6 285.2,872.6 285.2,817.5 286.2,817.5 286.2,872.6 287.2,872.6 287.2,815.9 288.2,815.9 288.2,872.6 289.2,872.6 289.2,817.5 290.2,819.1 290.2,885.2 291.2,885.2 291.2,820.7 292.2,820.7 292.2,872.6 293.2,872.6 293.2,819.1 294.2,819.1 294.2,878.4 295.2,878.4 295.2,819.1 296.2,819.1 296.2,878.4 297.2,878.4 297.2,810.3 298.2,819.1 298.2,878.4 299.2,878.4 299.2,820.7 300.2,820.7 300.2,878.4 301.2,878.4 301.2,822.5 302.2,824.3 302.2,885.2 303.2,878.4 303.2,819.1 304.2,819.1 304.2,885.2 305.2,885.2 305.2,814.4 306.2,814.4 306.2,885.2 307.2,885.2 307.2,820.7 308.2,824.3 308.2,885.2 309.2,885.2 309.2,824.3 310.2,822.5 310.2,893.2 311.2,885.2 311.2,820.7 312.2,826.1 312.2,885.2 313.2,885.2 313.2,830.1 314.2,830.1 314.2,893.2 315.2,893.2 315.2,819.1 316.2,830.1 316.2,893.2 317.2,893.2 317.2,826.1 318.2,830.1 318.2,893.2 319.2,893.2 319.2,828.1 320.2,830.1 320.2,893.2 321.2,893.2 321.2,832.3 322.2,824.3 322.2,893.2 323.2,893.2 323.2,826.1 324.2,826.1 324.2,893.2 325.2,893.2 325.2,817.5 326.2,824.3 326.2,893.2 327.2,903 327.2,826.1 328.2,828.1 328.2,903 329.2,903 329.2,828.1 330.2,832.3 330.2,903 331.2,903 331.2,832.3 332.2,824.3 332.2,903 333.2,903 333.2,826.1 334.2,834.5 334.2,903 335.2,903 335.2,834.5 336.2,834.5 336.2,903 337.2,915.7 337.2,834.5 338.2,828.1 338.2,903 339.2,903 339.2,832.3 340.2,832.3 340.2,915.7 341.2,903 341.2,836.9 342.2,834.5 342.2,915.7 343.2,915.7 343.2,834.5 344.2,836.9 344.2,915.7 345.2,915.7 345.2,836.9 346.2,836.9 346.2,915.7 347.2,915.7 347.2,836.9 348.2,836.9 348.2,915.7 349.2,915.7 349.2,839.4 350.2,839.4 350.2,915.7 351.2,915.7 351.2,836.9 352.2,836.9 352.2,915.7 353.2,915.7 353.2,842.1 354.2,842.1 354.2,915.7 355.2,915.7 355.2,842.1 356.2,842.1 356.2,915.7 357.2,915.7 357.2,842.1 358.2,842.1 358.2,915.7 359.2,915.7 359.2,842.1 360.2,842.1 360.2,915.7 361.2,915.7 361.2,842.1 362.2,842.1 362.2,933.5 363.2,915.7 363.2,842.1 364.2,848 364.2,968.2 365.2,933.5 365.2,851.2 366.2,844.9 366.2,933.5 367.2,933.5 367.2,844.9 368.2,848 368.2,933.5 369.2,933.5 369.2,848 370.2,848 370.2,933.5 371.2,933.5 371.2,844.9 372.2,844.9 372.2,933.5 373.2,933.5 373.2,848 374.2,848 374.2,933.5 375.2,933.5 375.2,848 376.2,851.2 376.2,933.5 377.2,933.5 377.2,848 378.2,848 378.2,933.5 379.2,933.5 379.2,844.9 380.2,851.2 380.2,933.5 381.2,933.5 381.2,842.1 382.2,851.2 382.2,933.5 383.2,933.5 383.2,851.2 384.2,851.2 384.2,933.5 385.2,933.5 385.2,851.2 386.2,842.1 386.2,933.5 387.2,933.5 387.2,851.2 388.2,851.2 388.2,933.5 389.2,933.5 389.2,851.2 390.2,851.2 390.2,933.5 391.2,933.5 391.2,842.1 392.2,842.1 392.2,933.5 393.2,933.5 393.2,851.2 394.2,862.8 394.2,933.5 395.2,933.5 395.2,858.6 396.2,854.7 396.2,933.5 397.2,933.5 397.2,872.6 398.2,872.6 398.2,933.5 399.2,933.5 399.2,854.7 400.2,854.7 400.2,933.5 401.2,933.5 401.2,854.7 402.2,854.7 402.2,933.5 403.2,933.5 403.2,854.7 404.2,854.7 404.2,933.5 405.2,933.5 405.2,867.4 406.2,854.7 406.2,968.2 407.2,968.2 407.2,854.7 408.2,851.2 408.2,968.2 409.2,968.2 409.2,858.6 410.2,858.6 410.2,968.2 411.2,968.2 411.2,858.6 412.2,858.6 412.2,968.2 413.2,968.2 413.2,858.6 414.2,854.7 414.2,968.2 415.2,968.2 415.2,854.7 416.2,854.7 416.2,968.2 417.2,968.2 417.2,862.8 418.2,862.8 418.2,968.2 419.2,968.2 419.2,862.8 420.2,862.8 420.2,968.2 421.2,968.2 421.2,862.8 422.2,862.8 422.2,968.2 423.2,968.2 423.2,862.8 424.2,858.6 424.2,968.2 425.2,968.2 425.2,862.8 426.2,862.8 426.2,968.2 427.2,968.2 427.2,867.4 428.2,862.8 428.2,968.2 429.2,968.2 429.2,858.6 430.2,862.8 430.2,968.2 431.2,968.2 431.2,862.8 432.2,862.8 432.2,968.2 433.2,968.2 433.2,862.8 434.2,862.8 434.2,968.2 435.2,968.2 435.2,862.8 436.2,862.8 436.2,968.2 437.2,968.2 437.2,862.8 438.2,867.4 438.2,968.2 439.2,968.2 439.2,862.8 440.2,851.2 440.2,968.2 441.2,968.2 441.2,851.2 442.2,867.4 442.2,968.2 443.2,968.2 443.2,867.4 444.2,858.6 444.2,968.2 445.2,968.2 445.2,867.4 446.2,867.4 446.2,968.2 447.2,968.2 447.2,872.6 448.2,872.6 448.2,968.2 449.2,968.2 449.2,867.4 450.2,867.4 450.2,968.2 451.2,968.2 451.2,867.4 452.2,867.4 452.2,968.2 453.2,968.2 453.2,854.7 454.2,858.6 454.2,968.2 455.2,968.2 455.2,858.6 456.2,872.6 456.2,968.2 457.2,968.2 457.2,872.6 458.2,862.8 458.2,968.2 459.2,968.2 459.2,867.4 460.2,867.4 460.2,968.2 461.2,968.2 461.2,872.6 462.2,872.6 462.2,968.2 463.2,968.2 463.2,854.7 464.2,854.7 464.2,968.2 465.2,968.2 465.2,872.6 466.2,872.6 466.2,968.2 467.2,968.2 467.2,872.6 468.2,867.4 468.2,968.2 469.2,968.2 469.2,867.4 470.2,862.8 470.2,968.2 471.2,968.2 471.2,862.8 472.2,872.6 472.2,968.2 473.2,968.2 473.2,872.6 474.2,867.4 474.2,968.2 475.2,968.2 475.2,872.6 476.2,872.6 476.2,968.2 477.2,968.2 477.2,867.4 478.2,867.4 478.2,968.2 479.2,968.2 479.2,867.4 480.2,867.4 480.2,968.2 481.2,968.2 481.2,862.8 482.2,862.8 482.2,968.2 483.2,968.2 483.2,872.6 484.2,872.6 484.2,968.2 485.2,968.2 485.2,867.4 486.2,867.4 486.2,968.2 487.2,968.2 487.2,867.4 488.2,867.4 488.2,968.2 489.2,968.2 489.2,872.6 490.2,872.6 490.2,968.2 491.2,968.2 491.2,862.8 492.2,872.6 492.2,968.2 493.2,968.2 493.2,872.6 494.2,872.6 494.2,968.2 495.2,968.2 495.2,872.6 496.2,872.6 496.2,968.2 497.2,968.2 497.2,872.6 498.2,862.8 498.2,968.2 499.2,968.2 499.2,872.6 500.2,872.6 500.2,968.2 501.2,968.2 501.2,872.6 502.2,872.6 502.2,968.2 503.2,968.2 503.2,872.6 504.2,872.6 504.2,968.2 505.2,968.2 505.2,872.6 506.2,872.6 506.2,968.2 507.2,968.2 507.2,872.6 508.2,872.6 508.2,968.2 509.2,968.2 509.2,872.6 510.2,872.6 510.2,968.2 511.2,968.2 511.2,872.6 512.2,872.6 512.2,968.2 513.2,968.2 513.2,872.6 514.2,872.6 514.2,968.2 515.2,968.2 515.2,872.6 516.2,872.6 516.2,968.2 517.2,968.2 517.2,872.6 518.2,872.6 518.2,968.2 519.2,968.2 519.2,872.6 520.2,872.6 520.2,968.2 521.2,968.2 521.2,878.4 522.2,878.4 522.2,968.2 523.2,968.2 523.2,872.6 524.2,872.6 524.2,968.2 525.2,968.2 525.2,872.6 526.2,872.6 526.2,968.2 527.2,968.2 527.2,872.6 528.2,872.6 528.2,968.2 529.2,968.2 529.2,878.4 530.2,878.4 530.2,968.2 531.2,968.2 531.2,878.4 532.2,872.6 532.2,968.2 533.2,968.2 533.2,872.6 534.2,872.6 534.2,968.2 535.2,968.2 535.2,872.6 536.2,878.4 536.2,968.2 537.2,968.2 537.2,878.4 538.2,878.4 538.2,968.2 539.2,968.2 539.2,878.4 540.2,878.4 540.2,968.2 541.2,968.2 541.2,872.6 542.2,878.4 542.2,968.2 543.2,968.2 543.2,872.6 544.2,878.4 544.2,968.2 545.2,968.2 545.2,878.4 546.2,867.4 546.2,968.2 547.2,968.2 547.2,867.4 548.2,878.4 548.2,968.2 549.2,968.2 549.2,878.4 550.2,878.4 550.2,968.2 551.2,968.2 551.2,878.4 552.2,878.4 552.2,968.2 553.2,968.2 553.2,878.4 554.2,862.8 554.2,968.2 555.2,968.2 555.2,878.4 556.2,867.4 556.2,968.2 557.2,968.2 557.2,878.4 558.2,878.4 558.2,968.2 559.2,968.2 559.2,867.4 560.2,867.4 560.2,968.2 561.2,968.2 561.2,878.4 562.2,878.4 562.2,968.2 563.2,968.2 563.2,885.2 564.2,878.4 564.2,968.2 565.2,968.2 565.2,878.4 566.2,878.4 566.2,968.2 567.2,968.2 567.2,878.4 568.2,893.2 568.2,968.2 569.2,968.2 569.2,878.4 570.2,878.4 570.2,968.2 571.2,968.2 571.2,878.4 572.2,878.4 572.2,968.2 573.2,968.2 573.2,878.4 574.2,867.4 574.2,968.2 575.2,968.2 575.2,878.4 576.2,878.4 576.2,968.2 577.2,968.2 577.2,878.4 578.2,867.4 578.2,968.2 579.2,968.2 579.2,867.4 580.2,878.4 580.2,968.2 581.2,968.2 581.2,872.6 582.2,878.4 582.2,968.2 583.2,968.2 583.2,885.2 584.2,885.2 584.2,968.2 585.2,968.2 585.2,885.2 586.2,885.2 586.2,968.2 587.2,968.2 587.2,878.4 588.2,878.4 588.2,968.2 589.2,968.2 589.2,885.2 590.2,878.4 590.2,968.2 591.2,968.2 591.2,885.2 592.2,885.2 592.2,968.2 593.2,968.2 593.2,878.4 594.2,885.2 594.2,968.2 595.2,968.2 595.2,878.4 596.2,878.4 596.2,968.2 597.2,968.2 597.2,893.2 598.2,878.4 598.2,968.2 599.2,968.2 599.2,878.4 600.2,878.4 600.2,968.2 601.2,968.2 601.2,878.4 602.2,878.4 602.2,968.2 603.2,968.2 603.2,885.2 604.2,872.6 604.2,968.2 605.2,968.2 605.2,872.6 606.2,885.2 606.2,968.2 607.2,968.2 607.2,885.2 608.2,885.2 608.2,968.2 609.2,968.2 609.2,878.4 610.2,878.4 610.2,968.2 611.2,968.2 611.2,885.2 612.2,885.2 612.2,968.2 613.2,968.2 613.2,885.2 614.2,878.4 614.2,968.2 615.2,968.2 615.2,867.4 616.2,872.6 616.2,968.2 617.2,968.2 617.2,878.4 618.2,878.4 618.2,968.2 619.2,968.2 619.2,885.2 620.2,885.2 620.2,968.2 621.2,968.2 621.2,885.2 622.2,885.2 622.2,968.2" fill="none" stroke="#427ce8" stroke-width="1.5" stroke-linejoin="bevel"/>
</g>
<rect x="117.6" y="558.6" width="505.4" height="405.6" fill="none" stroke="#000" stroke-width="2"/>
<line x1="118.60" y1="963.70" x2="118.60" y2="589.00" stroke="#427ce8" stroke-width="2.6" stroke-linecap="butt"/>
<text x="370.5" y="1041.0" font-size="29.2" text-anchor="middle">Time (ns)</text>
<rect x="806.4" y="558.6" width="505.0" height="405.7" fill="none" stroke="#000" stroke-width="2"/>
<line x1="842.28" y1="964.30" x2="842.28" y2="960.30" stroke="#000" stroke-width="1.6" stroke-linecap="butt"/>
<line x1="878.36" y1="964.30" x2="878.36" y2="957.30" stroke="#000" stroke-width="1.6" stroke-linecap="butt"/>
<line x1="914.44" y1="964.30" x2="914.44" y2="960.30" stroke="#000" stroke-width="1.6" stroke-linecap="butt"/>
<line x1="950.52" y1="964.30" x2="950.52" y2="957.30" stroke="#000" stroke-width="1.6" stroke-linecap="butt"/>
<line x1="986.60" y1="964.30" x2="986.60" y2="960.30" stroke="#000" stroke-width="1.6" stroke-linecap="butt"/>
<line x1="1022.68" y1="964.30" x2="1022.68" y2="957.30" stroke="#000" stroke-width="1.6" stroke-linecap="butt"/>
<line x1="1058.76" y1="964.30" x2="1058.76" y2="960.30" stroke="#000" stroke-width="1.6" stroke-linecap="butt"/>
<line x1="1094.84" y1="964.30" x2="1094.84" y2="957.30" stroke="#000" stroke-width="1.6" stroke-linecap="butt"/>
<line x1="1130.92" y1="964.30" x2="1130.92" y2="960.30" stroke="#000" stroke-width="1.6" stroke-linecap="butt"/>
<line x1="1167.00" y1="964.30" x2="1167.00" y2="957.30" stroke="#000" stroke-width="1.6" stroke-linecap="butt"/>
<line x1="1203.08" y1="964.30" x2="1203.08" y2="960.30" stroke="#000" stroke-width="1.6" stroke-linecap="butt"/>
<line x1="1239.16" y1="964.30" x2="1239.16" y2="957.30" stroke="#000" stroke-width="1.6" stroke-linecap="butt"/>
<line x1="1275.24" y1="964.30" x2="1275.24" y2="960.30" stroke="#000" stroke-width="1.6" stroke-linecap="butt"/>
<text x="806.2" y="991.0" font-size="24.0" text-anchor="middle">0.00</text>
<text x="878.4" y="991.0" font-size="24.0" text-anchor="middle">0.02</text>
<text x="950.5" y="991.0" font-size="24.0" text-anchor="middle">0.04</text>
<text x="1022.7" y="991.0" font-size="24.0" text-anchor="middle">0.06</text>
<text x="1094.8" y="991.0" font-size="24.0" text-anchor="middle">0.08</text>
<text x="1167.0" y="991.0" font-size="24.0" text-anchor="middle">0.10</text>
<rect x="1164.48" y="988.10" width="5.05" height="3.80" fill="#fff"/>
<rect x="1171.97" y="988.10" width="4.86" height="3.80" fill="#fff"/>
<text x="1239.2" y="991.0" font-size="24.0" text-anchor="middle">0.12</text>
<rect x="1236.64" y="988.10" width="5.05" height="3.80" fill="#fff"/>
<rect x="1244.13" y="988.10" width="4.86" height="3.80" fill="#fff"/>
<text x="1311.3" y="991.0" font-size="24.0" text-anchor="middle">0.14</text>
<rect x="1308.80" y="988.10" width="5.05" height="3.80" fill="#fff"/>
<rect x="1316.29" y="988.10" width="4.86" height="3.80" fill="#fff"/>
<line x1="806.40" y1="896.40" x2="810.40" y2="896.40" stroke="#000" stroke-width="1.6" stroke-linecap="butt"/>
<line x1="806.40" y1="828.90" x2="813.40" y2="828.90" stroke="#000" stroke-width="1.6" stroke-linecap="butt"/>
<line x1="806.40" y1="761.40" x2="810.40" y2="761.40" stroke="#000" stroke-width="1.6" stroke-linecap="butt"/>
<line x1="806.40" y1="693.90" x2="813.40" y2="693.90" stroke="#000" stroke-width="1.6" stroke-linecap="butt"/>
<line x1="806.40" y1="626.40" x2="810.40" y2="626.40" stroke="#000" stroke-width="1.6" stroke-linecap="butt"/>
<text x="796.3" y="971.3" font-size="24.0" text-anchor="end">50</text>
<text x="796.3" y="836.3" font-size="24.0" text-anchor="end">100</text>
<rect x="757.08" y="833.40" width="5.05" height="3.80" fill="#fff"/>
<rect x="764.57" y="833.40" width="4.86" height="3.80" fill="#fff"/>
<text x="796.3" y="701.3" font-size="24.0" text-anchor="end">150</text>
<rect x="757.08" y="698.40" width="5.05" height="3.80" fill="#fff"/>
<rect x="764.57" y="698.40" width="4.86" height="3.80" fill="#fff"/>
<text x="796.3" y="566.3" font-size="24.0" text-anchor="end">200</text>
<text x="1059.0" y="1032.1" font-size="24.0" text-anchor="middle">Excitation power (mW/cm<tspan dy="-9" font-size="16">2</tspan><tspan dy="9">)</tspan></text>
<text x="748.3" y="761.0" font-size="24.0" text-anchor="middle" transform="rotate(-90 748.3 761.0)">Average PL lifetime (ns)</text>
<rect x="812.9" y="562.5" width="168.6" height="60.8" fill="#fff" stroke="#8c8c8c" stroke-width="1"/>
<rect x="836.6" y="573.3" width="10.4" height="10.4" fill="#5bb35b" stroke="#4e9a4e" stroke-width="0.8"/>
<circle cx="842" cy="607.6" r="5.6" fill="#dedd30" stroke="#c4c22a" stroke-width="0.8"/>
<text x="874.2" y="586.2" font-size="24.0">Ci-PeNC</text>
<text x="874.2" y="615.6" font-size="24.0">RT-PeNC</text>
<rect x="825.7" y="863.0" width="10.0" height="10.0" fill="#5bb35b" stroke="#4e9a4e" stroke-width="0.8"/>
<rect x="975.5" y="860.4" width="10.0" height="10.0" fill="#5bb35b" stroke="#4e9a4e" stroke-width="0.8"/>
<rect x="1139.6" y="864.4" width="10.0" height="10.0" fill="#5bb35b" stroke="#4e9a4e" stroke-width="0.8"/>
<rect x="1258.3" y="863.9" width="10.0" height="10.0" fill="#5bb35b" stroke="#4e9a4e" stroke-width="0.8"/>
<circle cx="830.7" cy="713.3" r="5.6" fill="#dedd30" stroke="#c4c22a" stroke-width="0.8"/>
<circle cx="980.5" cy="690.7" r="5.6" fill="#dedd30" stroke="#c4c22a" stroke-width="0.8"/>
<circle cx="1144.6" cy="597.8" r="5.6" fill="#dedd30" stroke="#c4c22a" stroke-width="0.8"/>
<circle cx="1263.3" cy="579.1" r="5.6" fill="#dedd30" stroke="#c4c22a" stroke-width="0.8"/>
<text x="0.0" y="26.3" font-size="33" font-weight="bold">a</text>
<text x="689.8" y="26.3" font-size="33" font-weight="bold">b</text>
<text x="0.2" y="552.0" font-size="33" font-weight="bold">c</text>
<text x="690.5" y="552.0" font-size="33" font-weight="bold">d</text>
</svg>
</body></html>
